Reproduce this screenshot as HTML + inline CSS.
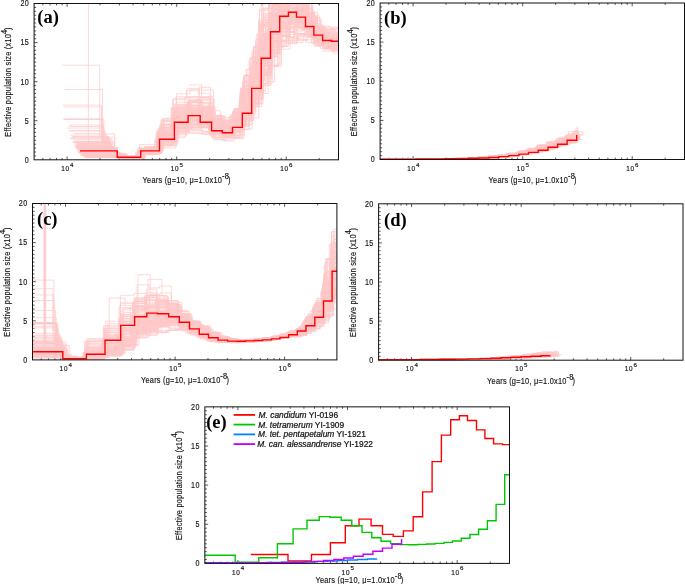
<!DOCTYPE html>
<html><head><meta charset="utf-8"><title>PSMC</title>
<style>html,body{margin:0;padding:0;background:#fff}svg{display:block}</style></head>
<body>
<svg width="685" height="584" viewBox="0 0 685 584">
<defs>
<clipPath id="cpa"><rect x="34.1" y="3.5" width="304.4" height="156.3"/></clipPath>
<clipPath id="cpb"><rect x="380.1" y="3.0" width="304.4" height="156.5"/></clipPath>
<clipPath id="cpc"><rect x="32.5" y="203.5" width="304.4" height="156.4"/></clipPath>
<clipPath id="cpd"><rect x="378.6" y="203.8" width="304.4" height="156.4"/></clipPath>
<clipPath id="cpe"><rect x="204.85" y="406.85" width="304.6" height="156.5"/></clipPath>
</defs>
<rect width="685" height="584" fill="#fff"/>
<path d="M42.8 159.8v-1.9M42.8 3.5v1.9M50.1 159.8v-1.9M50.1 3.5v1.9M56.5 159.8v-1.9M56.5 3.5v1.9M62.1 159.8v-1.9M62.1 3.5v1.9M67.1 159.8v-3.3M67.1 3.5v3.3M100.1 159.8v-1.9M100.1 3.5v1.9M119.4 159.8v-1.9M119.4 3.5v1.9M133.1 159.8v-1.9M133.1 3.5v1.9M143.7 159.8v-1.9M143.7 3.5v1.9M152.3 159.8v-1.9M152.3 3.5v1.9M159.7 159.8v-1.9M159.7 3.5v1.9M166.0 159.8v-1.9M166.0 3.5v1.9M171.6 159.8v-1.9M171.6 3.5v1.9M176.7 159.8v-3.3M176.7 3.5v3.3M209.6 159.8v-1.9M209.6 3.5v1.9M228.9 159.8v-1.9M228.9 3.5v1.9M242.6 159.8v-1.9M242.6 3.5v1.9M253.2 159.8v-1.9M253.2 3.5v1.9M261.9 159.8v-1.9M261.9 3.5v1.9M269.2 159.8v-1.9M269.2 3.5v1.9M275.6 159.8v-1.9M275.6 3.5v1.9M281.2 159.8v-1.9M281.2 3.5v1.9M286.2 159.8v-3.3M286.2 3.5v3.3M319.2 159.8v-1.9M319.2 3.5v1.9M34.1 155.9h2.0M34.1 152.0h2.0M34.1 148.1h2.0M34.1 144.2h2.0M34.1 140.3h2.0M34.1 136.4h2.0M34.1 132.4h2.0M34.1 128.5h2.0M34.1 124.6h2.0M34.1 120.7h3.3M34.1 116.8h2.0M34.1 112.9h2.0M34.1 109.0h2.0M34.1 105.1h2.0M34.1 101.2h2.0M34.1 97.3h2.0M34.1 93.4h2.0M34.1 89.5h2.0M34.1 85.6h2.0M34.1 81.7h3.3M34.1 77.7h2.0M34.1 73.8h2.0M34.1 69.9h2.0M34.1 66.0h2.0M34.1 62.1h2.0M34.1 58.2h2.0M34.1 54.3h2.0M34.1 50.4h2.0M34.1 46.5h2.0M34.1 42.6h3.3M34.1 38.7h2.0M34.1 34.8h2.0M34.1 30.9h2.0M34.1 26.9h2.0M34.1 23.0h2.0M34.1 19.1h2.0M34.1 15.2h2.0M34.1 11.3h2.0M34.1 7.4h2.0" stroke="#111" stroke-width="0.7" fill="none"/><path d="M388.8 159.5v-1.9M388.8 3.0v1.9M396.1 159.5v-1.9M396.1 3.0v1.9M402.5 159.5v-1.9M402.5 3.0v1.9M408.1 159.5v-1.9M408.1 3.0v1.9M413.1 159.5v-3.3M413.1 3.0v3.3M446.1 159.5v-1.9M446.1 3.0v1.9M465.4 159.5v-1.9M465.4 3.0v1.9M479.1 159.5v-1.9M479.1 3.0v1.9M489.7 159.5v-1.9M489.7 3.0v1.9M498.3 159.5v-1.9M498.3 3.0v1.9M505.7 159.5v-1.9M505.7 3.0v1.9M512.0 159.5v-1.9M512.0 3.0v1.9M517.6 159.5v-1.9M517.6 3.0v1.9M522.7 159.5v-3.3M522.7 3.0v3.3M555.6 159.5v-1.9M555.6 3.0v1.9M574.9 159.5v-1.9M574.9 3.0v1.9M588.6 159.5v-1.9M588.6 3.0v1.9M599.2 159.5v-1.9M599.2 3.0v1.9M607.9 159.5v-1.9M607.9 3.0v1.9M615.2 159.5v-1.9M615.2 3.0v1.9M621.6 159.5v-1.9M621.6 3.0v1.9M627.2 159.5v-1.9M627.2 3.0v1.9M632.2 159.5v-3.3M632.2 3.0v3.3M665.2 159.5v-1.9M665.2 3.0v1.9M380.1 155.6h2.0M380.1 151.7h2.0M380.1 147.8h2.0M380.1 143.8h2.0M380.1 139.9h2.0M380.1 136.0h2.0M380.1 132.1h2.0M380.1 128.2h2.0M380.1 124.3h2.0M380.1 120.4h3.3M380.1 116.5h2.0M380.1 112.6h2.0M380.1 108.6h2.0M380.1 104.7h2.0M380.1 100.8h2.0M380.1 96.9h2.0M380.1 93.0h2.0M380.1 89.1h2.0M380.1 85.2h2.0M380.1 81.2h3.3M380.1 77.3h2.0M380.1 73.4h2.0M380.1 69.5h2.0M380.1 65.6h2.0M380.1 61.7h2.0M380.1 57.8h2.0M380.1 53.9h2.0M380.1 50.0h2.0M380.1 46.0h2.0M380.1 42.1h3.3M380.1 38.2h2.0M380.1 34.3h2.0M380.1 30.4h2.0M380.1 26.5h2.0M380.1 22.6h2.0M380.1 18.7h2.0M380.1 14.7h2.0M380.1 10.8h2.0M380.1 6.9h2.0" stroke="#111" stroke-width="0.7" fill="none"/><path d="M41.2 359.9v-1.9M41.2 203.5v1.9M48.5 359.9v-1.9M48.5 203.5v1.9M54.9 359.9v-1.9M54.9 203.5v1.9M60.5 359.9v-1.9M60.5 203.5v1.9M65.5 359.9v-3.3M65.5 203.5v3.3M98.5 359.9v-1.9M98.5 203.5v1.9M117.8 359.9v-1.9M117.8 203.5v1.9M131.5 359.9v-1.9M131.5 203.5v1.9M142.1 359.9v-1.9M142.1 203.5v1.9M150.7 359.9v-1.9M150.7 203.5v1.9M158.1 359.9v-1.9M158.1 203.5v1.9M164.4 359.9v-1.9M164.4 203.5v1.9M170.0 359.9v-1.9M170.0 203.5v1.9M175.1 359.9v-3.3M175.1 203.5v3.3M208.0 359.9v-1.9M208.0 203.5v1.9M227.3 359.9v-1.9M227.3 203.5v1.9M241.0 359.9v-1.9M241.0 203.5v1.9M251.6 359.9v-1.9M251.6 203.5v1.9M260.3 359.9v-1.9M260.3 203.5v1.9M267.6 359.9v-1.9M267.6 203.5v1.9M274.0 359.9v-1.9M274.0 203.5v1.9M279.6 359.9v-1.9M279.6 203.5v1.9M284.6 359.9v-3.3M284.6 203.5v3.3M317.6 359.9v-1.9M317.6 203.5v1.9M32.5 356.0h2.0M32.5 352.1h2.0M32.5 348.2h2.0M32.5 344.3h2.0M32.5 340.3h2.0M32.5 336.4h2.0M32.5 332.5h2.0M32.5 328.6h2.0M32.5 324.7h2.0M32.5 320.8h3.3M32.5 316.9h2.0M32.5 313.0h2.0M32.5 309.1h2.0M32.5 305.2h2.0M32.5 301.2h2.0M32.5 297.3h2.0M32.5 293.4h2.0M32.5 289.5h2.0M32.5 285.6h2.0M32.5 281.7h3.3M32.5 277.8h2.0M32.5 273.9h2.0M32.5 270.0h2.0M32.5 266.1h2.0M32.5 262.1h2.0M32.5 258.2h2.0M32.5 254.3h2.0M32.5 250.4h2.0M32.5 246.5h2.0M32.5 242.6h3.3M32.5 238.7h2.0M32.5 234.8h2.0M32.5 230.9h2.0M32.5 227.0h2.0M32.5 223.1h2.0M32.5 219.1h2.0M32.5 215.2h2.0M32.5 211.3h2.0M32.5 207.4h2.0" stroke="#111" stroke-width="0.7" fill="none"/><path d="M387.3 360.2v-1.9M387.3 203.8v1.9M394.6 360.2v-1.9M394.6 203.8v1.9M401.0 360.2v-1.9M401.0 203.8v1.9M406.6 360.2v-1.9M406.6 203.8v1.9M411.6 360.2v-3.3M411.6 203.8v3.3M444.6 360.2v-1.9M444.6 203.8v1.9M463.9 360.2v-1.9M463.9 203.8v1.9M477.6 360.2v-1.9M477.6 203.8v1.9M488.2 360.2v-1.9M488.2 203.8v1.9M496.8 360.2v-1.9M496.8 203.8v1.9M504.2 360.2v-1.9M504.2 203.8v1.9M510.5 360.2v-1.9M510.5 203.8v1.9M516.1 360.2v-1.9M516.1 203.8v1.9M521.2 360.2v-3.3M521.2 203.8v3.3M554.1 360.2v-1.9M554.1 203.8v1.9M573.4 360.2v-1.9M573.4 203.8v1.9M587.1 360.2v-1.9M587.1 203.8v1.9M597.7 360.2v-1.9M597.7 203.8v1.9M606.4 360.2v-1.9M606.4 203.8v1.9M613.7 360.2v-1.9M613.7 203.8v1.9M620.1 360.2v-1.9M620.1 203.8v1.9M625.7 360.2v-1.9M625.7 203.8v1.9M630.7 360.2v-3.3M630.7 203.8v3.3M663.7 360.2v-1.9M663.7 203.8v1.9M378.6 356.3h2.0M378.6 352.4h2.0M378.6 348.5h2.0M378.6 344.6h2.0M378.6 340.6h2.0M378.6 336.7h2.0M378.6 332.8h2.0M378.6 328.9h2.0M378.6 325.0h2.0M378.6 321.1h3.3M378.6 317.2h2.0M378.6 313.3h2.0M378.6 309.4h2.0M378.6 305.5h2.0M378.6 301.6h2.0M378.6 297.6h2.0M378.6 293.7h2.0M378.6 289.8h2.0M378.6 285.9h2.0M378.6 282.0h3.3M378.6 278.1h2.0M378.6 274.2h2.0M378.6 270.3h2.0M378.6 266.4h2.0M378.6 262.4h2.0M378.6 258.5h2.0M378.6 254.6h2.0M378.6 250.7h2.0M378.6 246.8h2.0M378.6 242.9h3.3M378.6 239.0h2.0M378.6 235.1h2.0M378.6 231.2h2.0M378.6 227.3h2.0M378.6 223.4h2.0M378.6 219.4h2.0M378.6 215.5h2.0M378.6 211.6h2.0M378.6 207.7h2.0" stroke="#111" stroke-width="0.7" fill="none"/><path d="M213.5 563.4v-1.9M213.5 406.85v1.9M220.9 563.4v-1.9M220.9 406.85v1.9M227.2 563.4v-1.9M227.2 406.85v1.9M232.8 563.4v-1.9M232.8 406.85v1.9M237.9 563.4v-3.3M237.9 406.85v3.3M270.9 563.4v-1.9M270.9 406.85v1.9M290.2 563.4v-1.9M290.2 406.85v1.9M303.9 563.4v-1.9M303.9 406.85v1.9M314.5 563.4v-1.9M314.5 406.85v1.9M323.2 563.4v-1.9M323.2 406.85v1.9M330.5 563.4v-1.9M330.5 406.85v1.9M336.9 563.4v-1.9M336.9 406.85v1.9M342.5 563.4v-1.9M342.5 406.85v1.9M347.5 563.4v-3.3M347.5 406.85v3.3M380.5 563.4v-1.9M380.5 406.85v1.9M399.8 563.4v-1.9M399.8 406.85v1.9M413.5 563.4v-1.9M413.5 406.85v1.9M424.2 563.4v-1.9M424.2 406.85v1.9M432.9 563.4v-1.9M432.9 406.85v1.9M440.2 563.4v-1.9M440.2 406.85v1.9M446.6 563.4v-1.9M446.6 406.85v1.9M452.2 563.4v-1.9M452.2 406.85v1.9M457.2 563.4v-3.3M457.2 406.85v3.3M490.2 563.4v-1.9M490.2 406.85v1.9M204.85 559.5h2.0M204.85 555.6h2.0M204.85 551.7h2.0M204.85 547.7h2.0M204.85 543.8h2.0M204.85 539.9h2.0M204.85 536.0h2.0M204.85 532.1h2.0M204.85 528.2h2.0M204.85 524.3h3.3M204.85 520.3h2.0M204.85 516.4h2.0M204.85 512.5h2.0M204.85 508.6h2.0M204.85 504.7h2.0M204.85 500.8h2.0M204.85 496.9h2.0M204.85 493.0h2.0M204.85 489.0h2.0M204.85 485.1h3.3M204.85 481.2h2.0M204.85 477.3h2.0M204.85 473.4h2.0M204.85 469.5h2.0M204.85 465.6h2.0M204.85 461.6h2.0M204.85 457.7h2.0M204.85 453.8h2.0M204.85 449.9h2.0M204.85 446.0h3.3M204.85 442.1h2.0M204.85 438.2h2.0M204.85 434.2h2.0M204.85 430.3h2.0M204.85 426.4h2.0M204.85 422.5h2.0M204.85 418.6h2.0M204.85 414.7h2.0M204.85 410.8h2.0" stroke="#111" stroke-width="0.7" fill="none"/>
<path clip-path="url(#cpa)" fill="none" stroke="#FFC8C8" stroke-width="0.7" d="M74.9 147.8H111.9V154.1H120.1V156.1H126.8V157.3H140.1V150.7H158.9V139.3H173.8V123.4H187.5V111.8H199.6V111.5H211.0V121.1H221.7V125.1H231.9V118.2H241.7V94.9H251.1V86.4H260.6V46.1H269.9V22.0H279.1V3.7H287.8V18.4H295.9V30.0H304.9V34.4H313.3V42.2H322.0V44.7H330.9V45.2H339.9V43.2H348.9V43.2M75.8 146.9H110.3V154.0H120.7V156.7H126.7V157.3H142.5V151.6H161.3V141.0H176.2V126.7H189.9V125.8H202.0V132.5H213.4V139.7H224.1V141.0H234.3V137.7H244.1V119.6H253.5V103.8H263.0V83.3H272.3V66.6H281.5V49.2H290.2V34.3H298.3V34.1H307.3V37.3H315.7V45.5H324.4V49.1H333.3V53.1H342.3V47.0H351.3V47.0M84.1 155.6H121.2V158.4H128.2V158.3H141.0V153.9H159.8V142.9H174.7V129.7H188.4V128.9H200.5V127.0H211.9V130.7H222.6V135.2H232.8V135.8H242.6V124.5H252.0V106.7H261.5V85.4H270.8V53.1H280.0V45.7H288.7V32.4H296.8V39.4H305.8V42.3H314.2V46.2H322.9V47.1H331.8V46.5H340.8V46.8H349.8V46.8M73.7 145.9H108.9V152.8H117.9V156.9H127.7V157.0H145.0V146.7H163.8V121.7H178.7V109.5H192.4V108.6H204.5V127.2H215.9V134.1H226.6V130.9H236.8V123.8H246.6V104.3H256.0V63.6H265.5V33.8H274.8V-1.2H284.0V14.0H292.7V16.1H300.8V22.6H309.8V29.5H318.2V35.0H326.9V45.7H335.8V42.0H344.8V46.2H353.8V46.2M79.4 153.4H118.3V157.5H128.8V157.9H142.4V150.7H161.2V135.7H176.1V117.6H189.8V117.3H201.9V114.4H213.3V133.3H224.0V135.8H234.2V125.4H244.0V95.0H253.4V71.4H262.9V40.3H272.2V14.8H281.4V-7.8H290.1V-23.9H298.2V-5.0H307.2V17.4H315.6V27.8H324.3V39.5H333.2V41.5H342.2V43.6H351.2V43.6M81.0 152.8H117.0V157.4H126.1V157.9H132.0V157.9H138.0V150.9H156.8V135.0H171.7V117.2H185.4V109.5H197.5V113.9H208.9V129.5H219.6V131.5H229.8V131.2H239.6V118.2H249.0V104.5H258.5V75.4H267.8V50.6H277.0V31.5H285.7V29.3H293.8V26.6H302.8V28.5H311.2V30.5H319.9V41.6H328.8V43.1H337.8V42.5H346.8V42.5M78.3 148.8H112.3V156.4H117.7V156.7H127.5V157.6H140.0V153.0H158.8V140.6H173.7V111.5H187.4V114.8H199.5V113.7H210.9V120.0H221.6V126.2H231.8V119.9H241.6V93.5H251.0V81.2H260.5V52.9H269.8V32.1H279.0V10.1H287.7V10.6H295.8V16.7H304.8V29.1H313.2V39.5H321.9V41.7H330.8V43.0H339.8V46.0H348.8V46.0M80.9 154.1H118.5V157.9H124.2V157.8H130.8V157.2H141.2V153.2H160.0V145.1H174.9V127.0H188.6V119.3H200.7V123.5H212.1V129.7H222.8V130.5H233.0V125.2H242.8V105.5H252.2V82.9H261.7V54.4H271.0V34.1H280.2V14.7H288.9V20.4H297.0V13.1H306.0V26.2H314.4V34.5H323.1V38.9H332.0V38.9H341.0V38.4H350.0V38.4M77.9 152.1H118.6V157.4H128.9V158.0H144.5V147.3H163.3V131.2H178.2V112.2H191.9V112.2H204.0V112.1H215.4V123.6H226.1V123.1H236.3V109.2H246.1V69.7H255.5V39.6H265.0V8.3H274.3V-4.0H283.5V-27.8H292.2V-15.0H300.3V-0.6H309.3V16.4H317.7V30.1H326.4V37.8H335.3V38.4H344.3V38.2H353.3V38.2M84.6 156.3H120.6V158.4H130.1V158.1H138.0V152.5H156.8V139.6H171.7V119.9H185.4V121.6H197.5V127.8H208.9V135.1H219.6V137.6H229.8V138.1H239.6V126.8H249.0V104.8H258.5V69.4H267.8V40.3H277.0V6.2H285.7V-6.6H293.8V11.3H302.8V22.0H311.2V35.9H319.9V44.8H328.8V46.0H337.8V45.4H346.8V45.4M77.6 146.4H110.2V152.1H115.2V155.1H120.9V157.4H131.5V157.4H140.4V150.2H159.2V136.0H174.1V125.5H187.8V120.9H199.9V124.2H211.3V133.9H222.0V135.2H232.2V132.1H242.0V115.1H251.4V88.4H260.9V61.5H270.2V15.1H279.4V7.0H288.1V-4.4H296.2V4.2H305.2V13.0H313.6V36.1H322.3V42.9H331.2V42.8H340.2V40.9H349.2V40.9M80.8 154.2H118.4V157.9H124.7V158.1H135.9V152.8H154.7V139.9H169.6V128.9H183.3V114.4H195.4V114.8H206.8V122.2H217.5V124.7H227.7V121.7H237.5V109.2H246.9V69.1H256.4V34.7H265.7V15.0H274.9V9.6H283.6V8.2H291.7V23.9H300.7V16.3H309.1V23.6H317.8V38.6H326.7V45.8H335.7V50.3H344.7V50.3M89.4 157.1H122.2V158.9H139.1V151.3H157.9V139.0H172.8V121.3H186.5V114.7H198.6V113.8H210.0V126.6H220.7V128.8H230.9V125.2H240.7V102.2H250.1V94.9H259.6V72.5H268.9V49.6H278.1V36.9H286.8V37.1H294.9V27.1H303.9V31.2H312.3V36.8H321.0V40.1H329.9V40.8H338.9V39.8H347.9V39.8M79.9 153.3H117.6V157.2H128.1V157.6H140.7V150.0H159.5V133.0H174.4V126.8H188.1V121.6H200.2V127.6H211.6V132.8H222.3V136.5H232.5V132.5H242.3V116.8H251.7V92.7H261.2V69.1H270.5V33.5H279.7V23.7H288.4V20.6H296.5V17.5H305.5V25.2H313.9V31.6H322.6V37.7H331.5V40.6H340.5V37.6H349.5V37.6M75.5 145.6H111.4V153.7H118.6V156.4H129.3V156.1H141.3V151.9H160.1V133.5H175.0V118.4H188.7V120.7H200.8V119.1H212.2V121.1H222.9V128.6H233.1V114.6H242.9V93.2H252.3V64.1H261.8V37.3H271.1V30.6H280.3V7.8H289.0V12.1H297.1V15.6H306.1V23.0H314.5V39.2H323.2V41.2H332.1V41.1H341.1V42.6H350.1V42.6M75.2 147.2H112.2V154.8H122.0V157.3H131.4V156.7H144.9V148.9H163.7V138.1H178.6V118.6H192.3V114.4H204.4V126.7H215.8V128.8H226.5V129.0H236.7V111.9H246.5V90.6H255.9V61.1H265.4V57.2H274.7V24.4H283.9V18.9H292.6V20.4H300.7V22.4H309.7V31.8H318.1V38.3H326.8V42.4H335.7V43.2H344.7V49.6H353.7V49.6M76.5 143.3H109.5V152.7H118.4V155.3H129.4V155.9H137.1V154.3H155.9V139.9H170.8V121.9H184.5V112.7H196.6V113.8H208.0V126.8H218.7V130.8H228.9V129.1H238.7V119.7H248.1V101.8H257.6V51.3H266.9V37.8H276.1V12.2H284.8V10.8H292.9V9.9H301.9V17.8H310.3V35.3H319.0V42.3H327.9V46.2H336.9V45.4H345.9V45.4M70.6 137.7H107.6V151.6H114.5V153.2H122.9V156.6H142.3V148.9H161.1V127.2H176.0V107.1H189.7V102.3H201.8V98.2H213.2V119.5H223.9V121.5H234.1V111.2H243.9V80.9H253.3V61.3H262.8V34.9H272.1V-3.8H281.3V-13.5H290.0V-8.6H298.1V11.8H307.1V26.3H315.5V36.2H324.2V36.3H333.1V36.1H342.1V35.2H351.1V35.2M70.8 135.1H107.3V146.4H113.4V154.6H119.7V157.0H127.0V157.2H132.8V156.6H142.6V148.7H161.4V120.1H176.3V96.7H190.0V96.8H202.1V96.6H213.5V120.2H224.2V123.3H234.4V115.2H244.2V85.4H253.6V63.5H263.1V35.0H272.4V13.4H281.6V16.4H290.3V15.8H298.4V15.9H307.4V26.3H315.8V38.6H324.5V42.7H333.4V44.1H342.4V43.3H351.4V43.3M83.2 151.8H112.4V156.6H118.5V158.0H129.4V158.6H144.4V147.2H163.2V124.8H178.1V108.2H191.8V109.2H203.9V119.5H215.3V130.9H226.0V132.7H236.2V124.1H246.0V110.9H255.4V75.6H264.9V62.4H274.2V29.1H283.4V28.4H292.1V20.2H300.2V14.8H309.2V26.2H317.6V38.1H326.3V40.3H335.2V40.2H344.2V45.4H353.2V45.4M81.3 153.1H116.1V157.2H121.4V157.2H131.3V157.1H141.0V149.8H159.8V133.0H174.7V122.6H188.4V111.6H200.5V109.2H211.9V118.3H222.6V125.7H232.8V111.5H242.6V83.2H252.0V53.2H261.5V19.7H270.8V14.1H280.0V7.2H288.7V-2.0H296.8V9.9H305.8V21.6H314.2V34.0H322.9V38.0H331.8V36.0H340.8V39.8H349.8V39.8M82.0 153.9H121.3V157.8H128.7V157.7H144.0V149.1H162.8V132.0H177.7V111.5H191.4V107.0H203.5V114.9H214.9V128.1H225.6V134.3H235.8V123.7H245.6V98.7H255.0V59.5H264.5V35.5H273.8V14.3H283.0V-3.8H291.7V-3.4H299.8V3.4H308.8V17.8H317.2V29.6H325.9V28.8H334.8V32.3H343.8V34.3H352.8V34.3M78.5 150.0H113.9V155.9H123.4V156.9H130.3V157.0H144.4V147.2H163.2V124.2H178.1V111.6H191.8V107.8H203.9V107.1H215.3V128.0H226.0V129.6H236.2V116.3H246.0V100.1H255.4V73.0H264.9V42.4H274.2V1.1H283.4V-6.0H292.1V-3.5H300.2V19.4H309.2V23.0H317.6V34.2H326.3V37.8H335.2V42.4H344.2V42.8H353.2V42.8M79.5 150.0H116.4V156.7H126.3V158.0H139.9V150.4H158.7V137.6H173.6V127.3H187.3V115.8H199.4V118.0H210.8V125.6H221.5V132.7H231.7V126.4H241.5V113.4H250.9V93.0H260.4V74.5H269.7V53.2H278.9V26.8H287.6V24.2H295.7V24.9H304.7V26.4H313.1V37.3H321.8V41.0H330.7V42.1H339.7V40.0H348.7V40.0M83.4 154.1H118.4V157.8H126.4V157.7H132.0V157.3H137.5V149.9H156.3V132.9H171.2V108.0H184.9V97.7H197.0V103.0H208.4V117.8H219.1V124.9H229.3V120.0H239.1V101.8H248.5V87.9H258.0V66.1H267.3V19.3H276.5V23.2H285.2V17.3H293.3V17.5H302.3V22.9H310.7V35.4H319.4V40.1H328.3V41.4H337.3V44.2H346.3V44.2M77.0 147.3H112.8V155.9H119.7V157.3H125.9V157.2H131.5V156.8H140.0V153.6H158.8V144.6H173.7V131.9H187.4V121.9H199.5V120.2H210.9V129.7H221.6V131.4H231.8V127.2H241.6V107.6H251.0V78.6H260.5V35.6H269.8V26.9H279.0V25.3H287.7V7.3H295.8V10.8H304.8V15.8H313.2V35.3H321.9V41.3H330.8V42.1H339.8V46.3H348.8V46.3M80.7 153.5H116.7V157.5H125.4V158.4H142.5V149.9H161.3V137.1H176.2V127.8H189.9V121.7H202.0V118.7H213.4V128.4H224.1V130.9H234.3V124.2H244.1V106.6H253.5V94.2H263.0V60.5H272.3V43.8H281.5V40.3H290.2V40.8H298.3V40.6H307.3V37.5H315.7V42.2H324.4V49.1H333.3V47.1H342.3V44.9H351.3V44.9M81.8 153.2H119.8V158.0H125.6V158.2H142.6V148.7H161.4V125.3H176.3V123.3H190.0V116.2H202.1V111.0H213.5V123.2H224.2V123.7H234.4V108.8H244.2V75.5H253.6V47.1H263.1V1.0H272.4V-14.7H281.6V-4.2H290.3V-0.4H298.4V17.6H307.4V26.5H315.8V35.0H324.5V40.8H333.4V46.7H342.4V41.4H351.4V41.4M65.4 119.2H102.3V138.8H107.9V147.3H117.6V154.7H124.6V155.8H141.9V153.0H160.7V140.9H175.6V111.9H189.3V114.4H201.4V111.2H212.8V122.6H223.5V131.7H233.7V127.3H243.5V108.5H252.9V87.4H262.4V60.9H271.7V33.8H280.9V27.1H289.6V18.7H297.7V24.6H306.7V32.3H315.1V39.3H323.8V44.0H332.7V43.7H341.7V39.0H350.7V39.0M85.8 157.5H124.2V159.0H144.8V148.3H163.6V138.0H178.5V128.3H192.2V130.7H204.3V131.1H215.7V139.7H226.4V137.8H236.6V124.1H246.4V115.1H255.8V91.3H265.3V81.6H274.6V47.4H283.8V43.2H292.5V38.5H300.6V34.5H309.6V36.8H318.0V44.8H326.7V46.9H335.6V48.5H344.6V47.8H353.6V47.8M86.3 157.5H119.8V158.8H128.4V158.8H140.5V150.1H159.3V132.4H174.2V110.7H187.9V111.8H200.0V119.5H211.4V127.9H222.1V130.2H232.3V126.9H242.1V113.6H251.5V86.9H261.0V71.5H270.3V52.0H279.5V34.6H288.2V11.8H296.3V20.9H305.3V23.4H313.7V35.0H322.4V36.3H331.3V33.4H340.3V35.6H349.3V35.6M79.3 152.0H116.5V157.4H126.8V157.9H141.5V149.4H160.3V131.2H175.2V112.6H188.9V99.6H201.0V103.1H212.4V116.6H223.1V125.4H233.3V122.8H243.1V93.4H252.5V66.0H262.0V51.5H271.3V31.3H280.5V9.5H289.2V15.5H297.3V15.7H306.3V30.3H314.7V37.6H323.4V40.5H332.3V41.9H341.3V42.9H350.3V42.9M84.1 156.0H121.4V158.2H131.4V157.9H141.0V149.8H159.8V127.8H174.7V109.2H188.4V115.5H200.5V112.0H211.9V129.0H222.6V128.0H232.8V118.1H242.6V98.5H252.0V83.4H261.5V45.9H270.8V29.5H280.0V-0.2H288.7V4.2H296.8V9.6H305.8V21.3H314.2V36.9H322.9V45.1H331.8V43.1H340.8V41.7H349.8V41.7M76.4 150.7H114.2V156.6H124.0V157.8H132.5V157.4H135.7V154.8H154.5V145.1H169.4V126.4H183.1V110.7H195.2V113.4H206.6V123.3H217.3V132.6H227.5V127.1H237.3V118.2H246.7V96.9H256.2V62.3H265.5V41.7H274.7V8.6H283.4V18.5H291.5V22.4H300.5V22.2H308.9V30.9H317.6V36.5H326.5V43.5H335.5V40.5H344.5V40.5M86.5 157.3H118.0V158.3H128.4V158.1H142.8V151.7H161.6V138.2H176.5V119.4H190.2V111.8H202.3V107.3H213.7V126.2H224.4V126.5H234.6V119.8H244.4V94.4H253.8V64.5H263.3V36.8H272.6V8.0H281.8V2.2H290.5V-7.6H298.6V1.0H307.6V18.5H316.0V34.2H324.7V39.9H333.6V42.3H342.6V42.9H351.6V42.9M79.6 151.6H114.8V155.7H121.1V156.8H131.7V156.1H141.9V149.1H160.7V121.6H175.6V110.9H189.3V118.9H201.4V122.7H212.8V133.1H223.5V135.6H233.7V128.4H243.5V89.9H252.9V71.0H262.4V43.4H271.7V21.7H280.9V11.5H289.6V2.0H297.7V-0.9H306.7V22.7H315.1V34.7H323.8V39.5H332.7V39.7H341.7V44.9H350.7V44.9M79.2 152.0H118.7V157.0H125.4V157.5H137.1V150.5H155.9V137.1H170.8V124.6H184.5V119.1H196.6V122.2H208.0V123.0H218.7V132.2H228.9V129.5H238.7V112.2H248.1V86.4H257.6V34.4H266.9V14.0H276.1V6.2H284.8V5.4H292.9V3.1H301.9V17.4H310.3V30.9H319.0V37.8H327.9V40.8H336.9V35.2H345.9V35.2M80.5 151.2H115.8V157.4H121.8V158.2H126.8V157.9H144.9V146.9H163.7V118.2H178.6V104.9H192.3V108.5H204.4V115.7H215.8V132.5H226.5V130.0H236.7V115.7H246.5V84.5H255.9V45.3H265.4V23.0H274.7V4.0H283.9V16.1H292.6V13.5H300.7V17.2H309.7V24.6H318.1V32.8H326.8V38.6H335.7V39.2H344.7V38.6H353.7V38.6M81.7 153.2H115.4V157.8H121.3V158.5H127.2V158.6H138.1V147.8H156.9V131.6H171.8V117.2H185.5V114.3H197.6V106.5H209.0V125.1H219.7V125.6H229.9V116.0H239.7V92.1H249.1V60.1H258.6V22.4H267.9V25.4H277.1V10.0H285.8V8.6H293.9V10.7H302.9V15.4H311.3V29.3H320.0V36.5H328.9V37.3H337.9V38.1H346.9V38.1M81.9 151.9H117.5V157.6H124.0V158.4H142.8V148.5H161.6V133.7H176.5V116.8H190.2V101.9H202.3V109.5H213.7V124.6H224.4V125.4H234.6V114.5H244.4V82.5H253.8V46.3H263.3V8.1H272.6V-15.2H281.8V-14.8H290.5V-14.9H298.6V2.5H307.6V28.1H316.0V38.1H324.7V37.9H333.6V39.0H342.6V42.4H351.6V42.4M80.4 150.5H114.4V156.6H119.8V157.6H130.1V157.7H140.4V152.0H159.2V141.5H174.1V134.3H187.8V132.3H199.9V133.8H211.3V137.2H222.0V140.2H232.2V136.2H242.0V121.5H251.4V98.1H260.9V65.3H270.2V39.0H279.4V29.3H288.1V21.6H296.2V22.6H305.2V26.6H313.6V42.6H322.3V47.8H331.2V51.1H340.2V52.6H349.2V52.6M77.2 146.4H108.7V154.8H114.8V156.5H121.6V157.2H130.1V156.7H141.0V152.4H159.8V139.4H174.7V115.7H188.4V115.1H200.5V115.4H211.9V125.1H222.6V131.6H232.8V121.6H242.6V111.8H252.0V98.4H261.5V66.3H270.8V53.7H280.0V35.8H288.7V42.3H296.8V35.4H305.8V39.7H314.2V44.2H322.9V51.2H331.8V49.8H340.8V49.9H349.8V49.9M67.1 128.1H103.6V142.4H114.0V154.2H124.9V157.7H142.5V150.1H161.3V132.1H176.2V116.1H189.9V121.3H202.0V117.3H213.4V126.6H224.1V129.2H234.3V123.4H244.1V106.0H253.5V63.7H263.0V45.3H272.3V53.6H281.5V41.4H290.2V40.6H298.3V33.8H307.3V36.2H315.7V45.2H324.4V48.5H333.3V44.6H342.3V47.9H351.3V47.9M68.9 131.0H103.8V138.3H111.0V149.3H116.6V153.9H127.0V156.6H139.5V150.4H158.3V138.1H173.2V121.5H186.9V113.6H199.0V108.7H210.4V126.2H221.1V131.3H231.3V122.5H241.1V104.2H250.5V74.5H260.0V40.7H269.3V23.3H278.5V18.1H287.2V15.7H295.3V18.3H304.3V27.5H312.7V31.5H321.4V41.9H330.3V45.5H339.3V44.2H348.3V44.2M82.8 154.7H120.3V158.2H125.5V158.2H139.6V149.4H158.4V136.0H173.3V111.7H187.0V109.9H199.1V114.7H210.5V127.6H221.2V123.7H231.4V116.1H241.2V89.0H250.6V73.5H260.1V22.1H269.4V22.2H278.6V12.2H287.3V-2.7H295.4V-3.7H304.4V14.5H312.8V27.0H321.5V35.2H330.4V40.8H339.4V37.8H348.4V37.8M75.7 147.0H111.1V155.2H119.5V157.4H126.3V157.5H131.7V157.1H140.0V150.7H158.8V136.7H173.7V107.5H187.4V100.7H199.5V100.2H210.9V115.7H221.6V127.1H231.8V120.1H241.6V92.9H251.0V72.2H260.5V50.7H269.8V23.9H279.0V11.3H287.7V-1.5H295.8V8.8H304.8V19.1H313.2V28.6H321.9V32.4H330.8V31.2H339.8V33.7H348.8V33.7M85.9 154.8H119.6V158.1H124.8V158.5H142.2V153.6H161.0V140.0H175.9V123.2H189.6V127.1H201.7V126.3H213.1V133.9H223.8V135.2H234.0V127.5H243.8V113.6H253.2V98.3H262.7V75.7H272.0V43.6H281.2V35.5H289.9V39.0H298.0V33.4H307.0V28.2H315.4V41.0H324.1V40.6H333.0V41.2H342.0V40.5H351.0V40.5M79.5 149.1H114.4V155.5H123.4V157.3H131.5V156.6H140.1V150.3H158.9V131.1H173.8V116.6H187.5V103.0H199.6V111.2H211.0V119.4H221.7V121.6H231.9V121.2H241.7V91.6H251.1V64.5H260.6V39.5H269.9V-3.4H279.1V-24.7H287.8V1.5H295.9V-0.4H304.9V17.5H313.3V35.5H322.0V38.2H330.9V42.9H339.9V43.3H348.9V43.3M79.7 151.5H117.2V157.6H125.9V157.7H132.5V157.3H142.7V148.6H161.5V124.9H176.4V102.3H190.1V108.2H202.2V102.7H213.6V126.6H224.3V130.9H234.5V117.9H244.3V86.7H253.7V67.7H263.2V48.3H272.5V24.9H281.7V30.0H290.4V18.9H298.5V17.8H307.5V28.7H315.9V37.1H324.6V37.8H333.5V38.1H342.5V37.3H351.5V37.3M78.8 146.4H113.7V155.5H123.8V157.4H130.5V157.4H141.1V152.0H159.9V140.0H174.8V120.5H188.5V121.3H200.6V127.6H212.0V131.6H222.7V133.8H232.9V126.5H242.7V118.0H252.1V94.7H261.6V72.6H270.9V41.0H280.1V7.8H288.8V10.5H296.9V8.8H305.9V24.8H314.3V36.6H323.0V39.7H331.9V42.6H340.9V38.8H349.9V38.8M84.5 155.4H119.2V158.4H124.9V158.4H138.3V150.2H157.1V136.9H172.0V127.2H185.7V115.7H197.8V116.7H209.2V126.9H219.9V126.8H230.1V126.3H239.9V110.5H249.3V86.2H258.8V47.3H268.1V32.9H277.3V3.7H286.0V-21.0H294.1V-6.0H303.1V0.6H311.5V27.7H320.2V31.6H329.1V35.1H338.1V35.5H347.1V35.5M85.1 155.3H119.1V158.0H129.6V158.2H145.1V146.6H163.9V120.5H178.8V112.5H192.5V112.0H204.6V124.1H216.0V131.2H226.7V130.9H236.9V112.1H246.7V84.5H256.1V41.7H265.6V31.9H274.9V15.9H284.1V15.0H292.8V13.4H300.9V29.5H309.9V33.3H318.3V45.0H327.0V47.9H335.9V47.3H344.9V48.1H353.9V48.1M88.0 157.5H121.1V158.7H127.2V158.5H142.6V148.6H161.4V127.3H176.3V120.6H190.0V112.1H202.1V111.3H213.5V125.6H224.2V134.7H234.4V126.5H244.2V109.3H253.6V85.0H263.1V59.1H272.4V49.3H281.6V36.4H290.3V14.7H298.4V9.0H307.4V23.7H315.8V37.5H324.5V39.1H333.4V36.8H342.4V35.5H351.4V35.5M82.7 155.4H121.2V158.3H131.8V158.3H137.5V153.8H156.3V145.4H171.2V128.0H184.9V124.4H197.0V120.3H208.4V127.4H219.1V130.7H229.3V122.4H239.1V107.8H248.5V89.9H258.0V55.5H267.3V30.7H276.5V27.4H285.2V20.8H293.3V26.0H302.3V25.4H310.7V30.7H319.4V39.1H328.3V42.3H337.3V42.7H346.3V42.7M74.4 141.5H109.5V153.1H116.0V155.6H122.6V156.9H131.8V156.6H139.4V149.4H158.2V134.5H173.1V119.6H186.8V118.3H198.9V119.3H210.3V125.3H221.0V127.4H231.2V127.4H241.0V89.6H250.4V75.4H259.9V39.9H269.2V21.2H278.4V-1.4H287.1V0.8H295.2V2.7H304.2V5.7H312.6V23.8H321.3V35.1H330.2V35.8H339.2V38.9H348.2V38.9M78.0 148.1H112.6V155.6H122.5V157.6H130.0V157.8H143.0V153.5H161.8V145.0H176.7V131.5H190.4V133.5H202.5V134.5H213.9V137.9H224.6V136.4H234.8V134.7H244.6V120.4H254.0V92.4H263.5V61.3H272.8V27.2H282.0V8.1H290.7V16.7H298.8V17.1H307.8V28.7H316.2V40.9H324.9V39.2H333.8V42.2H342.8V44.9H351.8V44.9M62.9 119.2H102.9V141.3H110.6V148.5H117.6V154.4H127.0V156.3H132.4V156.3H140.0V153.8H158.8V138.8H173.7V122.2H187.4V108.2H199.5V110.3H210.9V129.5H221.6V133.4H231.8V123.4H241.6V96.1H251.0V75.4H260.5V46.2H269.8V14.8H279.0V-1.3H287.7V1.8H295.8V0.2H304.8V15.5H313.2V33.2H321.9V43.0H330.8V49.2H339.8V41.4H348.8V41.4M87.9 157.5H121.3V158.2H126.3V157.8H138.9V148.4H157.7V129.9H172.6V99.7H186.3V90.7H198.4V93.3H209.8V110.8H220.5V117.5H230.7V114.9H240.5V88.8H249.9V58.0H259.4V10.4H268.7V8.5H277.9V3.4H286.6V-27.8H294.7V-21.6H303.7V-0.7H312.1V17.9H320.8V26.1H329.7V27.1H338.7V27.1H347.7V27.1M80.6 151.3H115.3V156.8H120.6V157.8H128.9V157.8H142.9V148.4H161.7V133.7H176.6V121.4H190.3V123.5H202.4V117.4H213.8V130.3H224.5V137.3H234.7V129.9H244.5V114.1H253.9V88.8H263.4V47.5H272.7V29.9H281.9V23.4H290.6V27.2H298.7V27.9H307.7V35.2H316.1V42.8H324.8V36.9H333.7V38.1H342.7V42.4H351.7V42.4M75.5 145.0H109.0V154.7H116.2V156.8H124.4V158.1H144.2V151.1H163.0V143.0H177.9V130.0H191.6V115.6H203.7V120.7H215.1V130.5H225.8V133.9H236.0V125.7H245.8V100.9H255.2V61.3H264.7V42.0H274.0V27.9H283.2V14.0H291.9V-6.1H300.0V-8.5H309.0V12.1H317.4V26.8H326.1V29.5H335.0V33.4H344.0V37.7H353.0V37.7M79.2 152.8H114.8V157.1H124.3V157.8H131.5V157.2H139.8V151.1H158.6V134.0H173.5V104.2H187.2V101.6H199.3V87.2H210.7V118.4H221.4V121.6H231.6V119.6H241.4V96.2H250.8V68.9H260.3V24.0H269.6V-8.2H278.8V-11.3H287.5V-0.4H295.6V4.8H304.6V14.3H313.0V30.1H321.7V32.9H330.6V28.7H339.6V34.3H348.6V34.3M84.3 154.9H116.9V157.9H126.5V158.0H140.9V149.9H159.7V124.6H174.6V104.8H188.3V105.2H200.4V109.3H211.8V121.0H222.5V120.6H232.7V113.2H242.5V81.1H251.9V56.4H261.4V3.3H270.7V-11.4H279.9V-25.2H288.6V-27.8H296.7V-5.3H305.7V20.4H314.1V30.3H322.8V37.8H331.7V40.8H340.7V37.5H349.7V37.5M79.4 151.2H116.3V157.1H124.6V157.3H132.7V156.7H141.2V152.5H160.0V138.1H174.9V116.3H188.6V115.1H200.7V121.8H212.1V129.4H222.8V129.5H233.0V127.1H242.8V108.2H252.2V90.3H261.7V44.6H271.0V19.9H280.2V21.4H288.9V21.0H297.0V19.8H306.0V28.1H314.4V37.1H323.1V39.5H332.0V39.6H341.0V41.0H350.0V41.0M82.5 153.8H116.9V157.9H123.7V158.6H129.9V158.2H141.1V149.7H159.9V130.2H174.8V111.2H188.5V105.3H200.6V113.3H212.0V125.8H222.7V131.5H232.9V123.3H242.7V107.4H252.1V85.2H261.6V50.9H270.9V34.2H280.1V5.9H288.8V9.1H296.9V6.7H305.9V17.9H314.3V34.2H323.0V38.8H331.9V41.8H340.9V42.3H349.9V42.3M73.6 133.6H105.4V148.7H112.5V154.1H122.0V157.7H127.5V157.7H139.6V144.6H158.4V128.0H173.3V98.4H187.0V88.8H199.1V97.1H210.5V119.1H221.2V119.0H231.4V116.7H241.2V90.1H250.6V62.4H260.1V26.6H269.4V12.6H278.6V-6.4H287.3V-0.7H295.4V2.8H304.4V8.7H312.8V26.9H321.5V30.1H330.4V28.0H339.4V27.1H348.4V27.1M74.4 143.9H111.3V155.6H119.2V157.1H129.5V157.3H142.7V150.9H161.5V135.0H176.4V115.1H190.1V102.6H202.2V114.4H213.6V125.4H224.3V121.6H234.5V108.5H244.3V75.0H253.7V46.5H263.2V13.4H272.5V-15.1H281.7V-10.7H290.4V-16.0H298.5V-0.2H307.5V20.9H315.9V33.1H324.6V36.6H333.5V39.7H342.5V39.3H351.5V39.3M82.1 155.6H121.1V158.6H131.0V158.7H137.9V150.7H156.7V132.2H171.6V107.9H185.3V110.2H197.4V112.0H208.8V122.6H219.5V124.9H229.7V122.5H239.5V101.0H248.9V79.1H258.4V20.0H267.7V35.0H276.9V17.2H285.6V-9.4H293.7V-2.5H302.7V21.5H311.1V31.9H319.8V43.1H328.7V46.4H337.7V45.2H346.7V45.2M83.1 153.7H116.2V157.4H127.0V158.2H141.9V151.2H160.7V137.8H175.6V122.6H189.3V110.5H201.4V116.4H212.8V129.8H223.5V133.3H233.7V125.1H243.5V106.5H252.9V77.4H262.4V64.3H271.7V19.9H280.9V-5.5H289.6V0.0H297.7V18.7H306.7V27.4H315.1V37.4H323.8V47.3H332.7V47.8H341.7V51.5H350.7V51.5M76.6 145.6H110.3V155.1H119.3V157.1H128.4V157.6H141.8V150.0H160.6V135.7H175.5V109.2H189.2V108.0H201.3V109.1H212.7V126.9H223.4V129.8H233.6V130.6H243.4V113.9H252.8V94.7H262.3V79.0H271.6V64.2H280.8V36.3H289.5V27.4H297.6V34.8H306.6V29.3H315.0V41.1H323.7V45.3H332.6V45.2H341.6V48.4H350.6V48.4M80.1 155.2H118.8V158.2H129.7V157.7H141.3V149.5H160.1V127.1H175.0V105.7H188.7V96.7H200.8V107.6H212.2V119.7H222.9V126.4H233.1V127.8H242.9V108.7H252.3V103.4H261.8V74.4H271.1V41.5H280.3V7.0H289.0V-0.9H297.1V-0.1H306.1V13.7H314.5V29.1H323.2V31.1H332.1V34.4H341.1V34.5H350.1V34.5M71.8 136.6H107.6V147.9H114.9V154.0H125.7V156.4H132.5V156.0H142.2V150.4H161.0V142.6H175.9V127.2H189.6V127.1H201.7V123.0H213.1V129.8H223.8V127.0H234.0V109.4H243.8V76.9H253.2V52.5H262.7V38.7H272.0V25.2H281.2V3.1H289.9V-0.7H298.0V8.6H307.0V27.2H315.4V38.1H324.1V35.8H333.0V37.9H342.0V34.5H351.0V34.5M77.8 149.7H113.0V155.1H123.8V157.7H141.4V151.0H160.2V138.5H175.1V118.3H188.8V124.1H200.9V117.9H212.3V129.1H223.0V130.4H233.2V120.8H243.0V106.1H252.4V77.6H261.9V62.8H271.2V40.6H280.4V33.0H289.1V21.0H297.2V14.3H306.2V30.3H314.6V39.2H323.3V45.5H332.2V50.4H341.2V50.2H350.2V50.2M83.5 153.5H118.7V157.7H124.9V158.3H131.3V157.9H138.1V154.0H156.9V145.9H171.8V137.2H185.5V123.8H197.6V124.6H209.0V129.8H219.7V130.7H229.9V131.3H239.7V124.9H249.1V106.3H258.6V74.7H267.9V55.8H277.1V35.3H285.8V26.2H293.9V31.1H302.9V28.1H311.3V33.7H320.0V44.2H328.9V48.2H337.9V49.1H346.9V49.1M69.1 125.0H103.7V137.2H114.6V153.0H120.0V155.9H127.7V156.7H142.6V149.9H161.4V136.4H176.3V117.8H190.0V117.5H202.1V112.3H213.5V125.4H224.2V127.3H234.4V113.2H244.2V82.4H253.6V49.7H263.1V45.3H272.4V30.1H281.6V0.8H290.3V-2.8H298.4V5.3H307.4V19.0H315.8V34.7H324.5V39.9H333.4V42.6H342.4V39.1H351.4V39.1M76.3 142.2H105.1V148.9H115.6V155.2H125.5V157.5H131.3V156.8H140.0V151.8H158.8V140.8H173.7V121.7H187.4V113.2H199.5V106.2H210.9V125.8H221.6V129.4H231.8V122.6H241.6V91.3H251.0V66.8H260.5V25.4H269.8V28.0H279.0V18.0H287.7V-0.7H295.8V8.9H304.8V10.2H313.2V29.5H321.9V36.9H330.8V43.1H339.8V41.1H348.8V41.1M83.3 155.8H121.0V158.5H128.9V158.4H142.6V148.6H161.4V128.4H176.3V117.7H190.0V125.5H202.1V122.9H213.5V131.9H224.2V134.3H234.4V130.6H244.2V110.9H253.6V99.4H263.1V72.6H272.4V47.8H281.6V31.6H290.3V17.4H298.4V22.5H307.4V30.2H315.8V38.0H324.5V45.9H333.4V47.4H342.4V47.2H351.4V47.2M72.9 136.8H108.9V152.9H113.9V154.7H123.8V157.5H131.8V157.4H139.0V150.0H157.8V134.8H172.7V121.8H186.4V106.8H198.5V97.4H209.9V118.3H220.6V124.1H230.8V118.7H240.6V88.1H250.0V57.6H259.5V9.1H268.8V-7.8H278.0V-0.3H286.7V8.5H294.8V19.0H303.8V21.1H312.2V31.8H320.9V32.8H329.8V35.7H338.8V35.4H347.8V35.4M86.9 157.1H118.7V158.1H128.0V158.4H138.6V154.1H157.4V145.1H172.3V131.8H186.0V124.5H198.1V124.7H209.5V132.7H220.2V133.1H230.4V135.3H240.2V126.1H249.6V106.5H259.1V83.4H268.4V65.9H277.6V46.5H286.3V37.5H294.4V25.3H303.4V29.5H311.8V39.1H320.5V44.0H329.4V46.6H338.4V52.3H347.4V52.3M84.8 156.4H118.0V158.5H125.5V158.4H138.8V154.5H157.6V142.2H172.5V114.7H186.2V118.0H198.3V115.7H209.7V126.9H220.4V127.8H230.6V126.5H240.4V105.1H249.8V76.2H259.3V37.2H268.6V5.7H277.8V-0.7H286.5V-14.9H294.6V3.0H303.6V8.0H312.0V34.7H320.7V40.9H329.6V44.7H338.6V44.6H347.6V44.6M73.5 142.4H107.8V151.9H118.4V156.6H125.4V157.4H138.9V151.9H157.7V129.8H172.6V107.3H186.3V105.2H198.4V112.6H209.8V133.7H220.5V134.1H230.7V128.1H240.5V115.6H249.9V103.5H259.4V75.3H268.7V66.3H277.9V41.8H286.6V27.6H294.7V14.7H303.7V21.1H312.1V32.5H320.8V37.4H329.7V35.5H338.7V38.2H347.7V38.2M72.6 142.5H110.5V155.4H115.8V156.5H124.8V157.6H130.0V157.4H140.2V150.3H159.0V134.3H173.9V117.0H187.6V111.9H199.7V109.6H211.1V116.4H221.8V120.0H232.0V112.7H241.8V93.3H251.2V77.9H260.7V43.8H270.0V20.3H279.2V-16.8H287.9V-27.8H296.0V-0.9H305.0V11.0H313.4V29.8H322.1V37.1H331.0V38.3H340.0V38.9H349.0V38.9M82.1 153.9H120.4V158.0H128.5V157.7H142.6V148.6H161.4V120.1H176.3V93.8H190.0V89.1H202.1V90.0H213.5V116.0H224.2V120.4H234.4V108.7H244.2V75.4H253.6V60.0H263.1V24.7H272.4V8.6H281.6V-1.0H290.3V-6.5H298.4V-7.0H307.4V20.8H315.8V35.0H324.5V31.3H333.4V33.8H342.4V28.0H351.4V28.0M79.8 149.6H113.2V156.6H122.2V157.6H127.4V157.8H141.1V154.0H159.9V144.7H174.8V131.4H188.5V127.0H200.6V124.2H212.0V137.2H222.7V138.1H232.9V138.6H242.7V128.9H252.1V102.0H261.6V72.4H270.9V43.7H280.1V41.4H288.8V43.6H296.9V33.3H305.9V33.2H314.3V38.3H323.0V42.0H331.9V42.2H340.9V41.4H349.9V41.4M84.2 155.2H120.8V158.5H130.6V158.4H141.7V149.4H160.5V129.5H175.4V122.2H189.1V120.8H201.2V120.5H212.6V128.4H223.3V126.4H233.5V110.3H243.3V85.8H252.7V58.4H262.2V48.1H271.5V31.5H280.7V17.0H289.4V17.8H297.5V20.5H306.5V26.1H314.9V40.1H323.6V45.2H332.5V50.8H341.5V46.7H350.5V46.7M77.0 146.9H110.3V153.9H115.8V157.1H124.2V158.3H131.4V157.8H142.2V149.0H161.0V124.0H175.9V109.1H189.6V108.1H201.7V115.1H213.1V126.2H223.8V126.2H234.0V122.3H243.8V103.0H253.2V61.2H262.7V24.7H272.0V16.9H281.2V13.5H289.9V17.3H298.0V28.2H307.0V27.2H315.4V37.1H324.1V41.8H333.0V46.0H342.0V46.1H351.0V46.1M72.9 141.5H109.9V153.7H115.2V155.8H120.7V156.9H129.4V156.9H138.3V153.5H157.1V144.0H172.0V136.0H185.7V119.7H197.8V119.2H209.2V133.7H219.9V137.4H230.1V137.5H239.9V129.5H249.3V117.6H258.8V93.5H268.1V56.1H277.3V36.1H286.0V23.5H294.1V18.5H303.1V29.8H311.5V34.0H320.2V45.5H329.1V48.3H338.1V48.8H347.1V48.8M84.1 156.8H121.3V158.5H130.3V158.2H140.4V151.7H159.2V141.8H174.1V126.8H187.8V116.6H199.9V121.8H211.3V129.3H222.0V132.0H232.2V129.4H242.0V118.7H251.4V99.2H260.9V78.1H270.2V51.4H279.4V46.5H288.1V31.3H296.2V24.8H305.2V27.5H313.6V33.7H322.3V38.4H331.2V45.6H340.2V45.9H349.2V45.9M78.4 152.6H117.3V157.5H128.1V157.8H142.0V152.8H160.8V147.9H175.7V133.3H189.4V129.8H201.5V131.8H212.9V132.3H223.6V130.8H233.8V121.0H243.6V99.9H253.0V73.4H262.5V52.8H271.8V32.6H281.0V2.8H289.7V12.1H297.8V21.3H306.8V28.3H315.2V36.2H323.9V37.7H332.8V42.2H341.8V43.0H350.8V43.0M78.4 143.5H111.5V152.7H118.6V156.0H126.4V156.7H142.5V151.0H161.3V131.9H176.2V112.7H189.9V110.3H202.0V120.0H213.4V127.3H224.1V129.2H234.3V109.4H244.1V75.8H253.5V47.4H263.0V17.6H272.3V5.9H281.5V6.9H290.2V5.3H298.3V12.8H307.3V22.7H315.7V32.6H324.4V36.1H333.3V39.8H342.3V38.4H351.3V38.4M76.4 144.0H108.7V150.2H115.7V154.2H126.0V157.3H131.8V156.5H143.4V148.0H162.2V118.8H177.1V106.8H190.8V101.8H202.9V99.8H214.3V115.7H225.0V126.8H235.2V113.3H245.0V90.1H254.4V56.1H263.9V45.2H273.2V0.3H282.4V8.7H291.1V13.4H299.2V6.5H308.2V19.9H316.6V34.2H325.3V38.7H334.2V36.7H343.2V38.7H352.2V38.7M83.8 155.3H121.4V158.7H130.6V158.4H139.3V149.1H158.1V134.9H173.0V120.7H186.7V112.5H198.8V110.9H210.2V128.9H220.9V129.5H231.1V126.6H240.9V110.1H250.3V81.1H259.8V38.2H269.1V13.7H278.3V-19.0H287.0V-18.8H295.1V-7.2H304.1V8.4H312.5V20.3H321.2V27.4H330.1V29.2H339.1V27.5H348.1V27.5M73.1 139.9H110.1V154.0H120.8V157.9H129.2V157.8H141.2V152.7H160.0V142.2H174.9V131.0H188.6V120.3H200.7V118.6H212.1V126.5H222.8V133.9H233.0V129.8H242.8V109.9H252.2V87.0H261.7V74.3H271.0V46.7H280.2V11.3H288.9V1.2H297.0V10.6H306.0V27.4H314.4V34.6H323.1V37.7H332.0V40.4H341.0V42.0H350.0V42.0M80.2 150.7H115.4V156.4H124.1V157.7H130.4V157.1H137.9V152.3H156.7V137.9H171.6V114.7H185.3V113.0H197.4V108.8H208.8V122.4H219.5V126.3H229.7V119.4H239.5V97.0H248.9V76.1H258.4V57.3H267.7V33.6H276.9V4.9H285.6V6.4H293.7V7.3H302.7V24.2H311.1V36.7H319.8V40.6H328.7V37.6H337.7V38.5H346.7V38.5M75.7 148.5H111.9V156.1H122.6V158.0H128.6V157.9H141.4V149.5H160.2V131.5H175.1V112.0H188.8V100.3H200.9V105.1H212.3V116.8H223.0V123.3H233.2V110.9H243.0V78.9H252.4V50.7H261.9V3.8H271.2V-12.4H280.4V-25.5H289.1V-27.8H297.2V-13.4H306.2V12.3H314.6V25.3H323.3V33.6H332.2V30.9H341.2V33.5H350.2V33.5M68.7 126.5H103.2V139.8H112.7V151.3H118.3V155.6H128.5V156.6H144.0V150.7H162.8V141.8H177.7V126.9H191.4V127.8H203.5V123.2H214.9V133.5H225.6V131.9H235.8V115.7H245.6V100.7H255.0V80.7H264.5V56.1H273.8V41.7H283.0V24.3H291.7V20.6H299.8V28.1H308.8V36.6H317.2V41.8H325.9V48.3H334.8V43.4H343.8V46.1H352.8V46.1M82.7 154.0H119.3V158.3H124.3V158.2H137.6V150.1H156.4V132.7H171.3V115.0H185.0V115.1H197.1V111.6H208.5V120.8H219.2V124.2H229.4V116.7H239.2V103.1H248.6V97.7H258.1V80.3H267.4V33.5H276.6V21.5H285.3V10.5H293.4V10.2H302.4V13.8H310.8V15.8H319.5V29.3H328.4V32.9H337.4V35.8H346.4V35.8M78.2 150.3H114.2V156.3H124.4V158.2H131.0V157.7H141.3V150.4H160.1V140.7H175.0V121.3H188.7V123.2H200.8V126.6H212.2V137.7H222.9V135.0H233.1V121.0H242.9V105.5H252.3V86.7H261.8V63.5H271.1V45.8H280.3V23.7H289.0V7.5H297.1V20.2H306.1V25.7H314.5V41.8H323.2V40.7H332.1V42.1H341.1V44.5H350.1V44.5M78.2 151.5H116.3V157.3H122.1V157.8H128.2V157.9H140.1V152.6H158.9V139.3H173.8V114.4H187.5V111.5H199.6V108.2H211.0V115.1H221.7V125.6H231.9V115.8H241.7V92.9H251.1V84.5H260.6V60.9H269.9V38.2H279.1V29.6H287.8V17.6H295.9V23.2H304.9V22.6H313.3V35.1H322.0V36.8H330.9V35.0H339.9V33.4H348.9V33.4M64.0 119.2H103.9V133.9H114.7V153.2H121.6V155.4H126.8V156.2H140.0V151.1H158.8V137.0H173.7V124.4H187.4V116.4H199.5V120.1H210.9V126.1H221.6V131.9H231.8V122.0H241.6V105.2H251.0V90.5H260.5V69.9H269.8V42.2H279.0V32.2H287.7V12.0H295.8V7.2H304.8V17.7H313.2V36.3H321.9V41.9H330.8V45.4H339.8V50.6H348.8V50.6M80.3 150.5H116.7V156.2H123.3V156.6H141.8V149.3H160.6V134.9H175.5V125.6H189.2V109.9H201.3V116.9H212.7V130.1H223.4V129.2H233.6V125.0H243.4V110.6H252.8V75.6H262.3V54.3H271.6V4.8H280.8V-3.9H289.5V-27.8H297.6V-9.0H306.6V12.7H315.0V30.8H323.7V35.9H332.6V38.7H341.6V39.1H350.6V39.1M76.7 148.5H113.7V155.6H121.0V157.5H127.4V157.1H138.7V152.5H157.5V140.8H172.4V127.1H186.1V113.8H198.2V126.5H209.6V129.3H220.3V129.6H230.5V127.3H240.3V108.6H249.7V95.3H259.2V55.5H268.5V3.5H277.7V6.9H286.4V-5.8H294.5V4.6H303.5V19.2H311.9V33.8H320.6V41.3H329.5V46.8H338.5V50.5H347.5V50.5M75.7 145.2H109.9V153.3H115.4V156.5H122.4V158.4H129.0V158.2H142.0V151.9H160.8V140.2H175.7V124.9H189.4V116.4H201.5V116.3H212.9V127.3H223.6V128.4H233.8V121.2H243.6V105.1H253.0V80.7H262.5V38.1H271.8V9.8H281.0V2.5H289.7V-3.7H297.8V1.1H306.8V21.4H315.2V27.7H323.9V33.1H332.8V37.6H341.8V37.3H350.8V37.3M78.7 150.8H112.2V156.4H122.4V157.9H131.7V157.4H139.3V152.2H158.1V137.8H173.0V133.1H186.7V128.0H198.8V124.6H210.2V131.7H220.9V135.9H231.1V132.1H240.9V113.8H250.3V80.3H259.8V66.0H269.1V42.7H278.3V27.7H287.0V1.1H295.1V3.5H304.1V21.0H312.5V30.4H321.2V34.6H330.1V33.5H339.1V31.5H348.1V31.5M84.6 157.1H121.2V158.6H128.4V158.3H142.2V151.9H161.0V134.0H175.9V113.6H189.6V111.7H201.7V107.5H213.1V126.9H223.8V127.9H234.0V123.4H243.8V95.2H253.2V72.6H262.7V33.7H272.0V22.3H281.2V9.3H289.9V-0.7H298.0V16.3H307.0V26.2H315.4V39.9H324.1V40.6H333.0V43.7H342.0V45.0H351.0V45.0M69.5 138.7H106.6V149.1H116.3V155.6H126.7V156.9H138.3V152.5H157.1V139.6H172.0V114.5H185.7V115.1H197.8V122.2H209.2V132.8H219.9V137.5H230.1V135.2H239.9V121.9H249.3V103.1H258.8V73.3H268.1V41.0H277.3V25.6H286.0V31.5H294.1V42.6H303.1V36.3H311.5V43.4H320.2V48.3H329.1V48.1H338.1V46.5H347.1V46.5M69.2 130.6H105.1V147.2H114.7V156.6H120.0V157.2H127.3V157.5H138.2V151.7H157.0V140.8H171.9V122.3H185.6V110.8H197.7V112.7H209.1V124.8H219.8V131.8H230.0V131.2H239.8V123.6H249.2V103.1H258.7V72.9H268.0V56.8H277.2V43.9H285.9V36.7H294.0V27.2H303.0V22.5H311.4V38.9H320.1V44.0H329.0V41.8H338.0V44.7H347.0V44.7M76.0 144.4H109.2V155.5H116.3V156.4H123.7V157.2H132.7V156.4H143.9V151.7H162.7V135.8H177.6V117.9H191.3V112.7H203.4V117.2H214.8V131.6H225.5V131.7H235.7V121.5H245.5V106.8H254.9V77.7H264.4V49.7H273.7V27.7H282.9V12.7H291.6V8.4H299.7V23.0H308.7V29.7H317.1V40.2H325.8V38.6H334.7V48.1H343.7V48.2H352.7V48.2M89.3 157.5H121.8V158.9H127.5V158.7H139.3V153.4H158.1V141.5H173.0V129.7H186.7V123.6H198.8V124.9H210.2V130.9H220.9V126.8H231.1V126.1H240.9V117.6H250.3V104.3H259.8V77.0H269.1V53.6H278.3V28.7H287.0V32.1H295.1V36.8H304.1V35.2H312.5V37.5H321.2V40.8H330.1V39.8H339.1V39.5H348.1V39.5M86.0 156.1H122.6V158.9H130.3V158.6H140.3V151.8H159.1V132.7H174.0V112.8H187.7V101.9H199.8V110.1H211.2V125.6H221.9V127.8H232.1V126.8H241.9V106.2H251.3V96.1H260.8V85.1H270.1V65.5H279.3V40.2H288.0V19.0H296.1V23.0H305.1V28.4H313.5V39.3H322.2V43.6H331.1V41.8H340.1V41.4H349.1V41.4M77.1 149.3H114.0V156.9H122.6V158.0H132.3V157.5H142.5V152.5H161.3V141.0H176.2V118.0H189.9V117.0H202.0V117.2H213.4V126.5H224.1V122.4H234.3V114.8H244.1V86.3H253.5V61.6H263.0V36.7H272.3V18.3H281.5V24.1H290.2V14.3H298.3V22.5H307.3V28.7H315.7V36.3H324.4V40.0H333.3V45.2H342.3V47.7H351.3V47.7M79.2 152.0H114.0V157.1H119.6V157.3H124.9V158.3H131.4V157.9H143.3V153.1H162.1V145.8H177.0V128.6H190.7V119.6H202.8V122.0H214.2V127.8H224.9V128.2H235.1V118.6H244.9V97.6H254.3V64.0H263.8V16.0H273.1V6.3H282.3V-3.1H291.0V-6.6H299.1V-0.5H308.1V16.8H316.5V27.7H325.2V35.2H334.1V37.3H343.1V43.7H352.1V43.7M78.3 152.5H118.6V157.6H127.4V157.9H141.6V151.3H160.4V133.6H175.3V123.2H189.0V111.3H201.1V114.5H212.5V127.9H223.2V130.4H233.4V122.4H243.2V103.9H252.6V74.9H262.1V51.8H271.4V45.4H280.6V21.8H289.3V17.7H297.4V8.7H306.4V20.0H314.8V38.9H323.5V38.7H332.4V41.8H341.4V40.3H350.4V40.3M81.4 155.7H119.0V158.0H125.7V158.3H142.1V150.2H160.9V137.3H175.8V128.6H189.5V121.0H201.6V116.1H213.0V130.0H223.7V135.0H233.9V124.1H243.7V104.4H253.1V84.0H262.6V44.6H271.9V28.1H281.1V12.4H289.8V14.7H297.9V23.1H306.9V28.9H315.3V41.2H324.0V48.6H332.9V49.7H341.9V45.2H350.9V45.2M80.3 152.3H115.8V156.8H124.4V157.9H141.1V152.1H159.9V137.5H174.8V121.4H188.5V113.4H200.6V120.6H212.0V129.8H222.7V126.5H232.9V122.7H242.7V102.2H252.1V66.3H261.6V39.6H270.9V20.4H280.1V27.1H288.8V15.6H296.9V20.6H305.9V22.0H314.3V34.5H323.0V40.1H331.9V39.9H340.9V41.1H349.9V41.1M80.7 153.4H115.8V157.3H121.3V157.9H129.2V157.9H141.4V151.1H160.2V137.5H175.1V124.2H188.8V120.9H200.9V121.0H212.3V131.4H223.0V132.0H233.2V127.4H243.0V111.0H252.4V87.2H261.9V42.1H271.2V5.1H280.4V-13.1H289.1V-2.6H297.2V6.4H306.2V15.9H314.6V28.1H323.3V38.2H332.2V39.3H341.2V41.7H350.2V41.7M84.0 -50.0H88.4V147.3H106.0V156.7M62.3 65.2H99.7V136.4H108.0V151.2H118.0V157.5M65.0 89.5H102.5V142.6H110.0V152.8H120.0V157.5M63.0 105.1H101.4V140.3H109.0V152.0H119.0V157.5M64.0 107.0H101.8V145.0H111.0V153.5H121.0V157.5M189.0 84.8H201.5V97.3"/>
<path clip-path="url(#cpc)" fill="none" stroke="#FFC8C8" stroke-width="0.7" d="M20.0 280.1H53.9V342.3H65.7V357.6H73.1V357.7H80.2V357.5H86.2V343.5H104.8V337.8H120.5V318.5H134.4V314.7H146.6V306.7H157.2V307.5H168.5V316.2H179.1V323.7H189.3V327.6H199.1V333.6H208.3V337.3H217.9V337.8H227.5V340.3H236.5V340.9H245.3V341.3H254.0V341.2H262.4V340.2H271.3V338.5H279.7V335.8H288.4V334.1H297.1V333.3H305.8V324.6H314.6V320.2H323.3V303.9H331.9V266.5H340.6V268.5H349.3V268.5M20.0 288.7H52.9V338.5H60.6V354.5H71.2V357.1H81.5V357.1H86.6V354.8H105.2V351.0H120.9V327.4H134.8V316.1H147.0V315.3H157.6V311.3H168.9V312.9H179.5V320.6H189.7V328.1H199.5V335.3H208.7V339.5H218.3V341.0H227.9V341.8H236.9V341.2H245.7V341.4H254.4V340.0H262.8V339.4H271.7V338.1H280.1V336.0H288.8V334.5H297.5V332.0H306.2V329.0H315.0V322.5H323.7V313.8H332.3V291.3H341.0V288.0H349.7V288.0M20.0 295.0H53.2V330.1H58.3V347.6H66.7V356.8H78.4V358.3H86.7V358.3H105.3V355.7H121.0V347.2H134.9V337.6H147.1V335.0H157.7V332.4H169.0V325.2H179.6V326.7H189.8V332.2H199.6V335.7H208.8V338.3H218.4V341.4H228.0V341.1H237.0V341.3H245.8V340.8H254.5V340.3H262.9V340.2H271.8V338.3H280.2V335.5H288.9V333.7H297.6V330.1H306.3V324.0H315.1V315.9H323.8V304.9H332.4V285.0H341.1V274.4H349.8V274.4M20.0 300.5H54.6V350.3H67.4V358.2H77.4V359.0H82.0V353.0H100.6V344.7H116.3V334.0H130.2V307.0H142.4V297.2H153.0V295.7H164.3V302.9H174.9V310.8H185.1V320.5H194.9V327.0H204.1V332.6H213.7V338.5H223.3V340.5H232.3V341.2H241.1V341.5H249.8V341.1H258.2V339.7H267.1V338.8H275.5V336.1H284.2V333.5H292.9V331.1H301.6V324.6H310.4V311.2H319.1V301.1H327.7V258.8H336.4V253.0H345.1V253.0M20.0 310.6H55.6V344.1H66.2V356.4H75.8V357.7H86.8V356.4H105.4V351.0H121.1V338.7H135.0V324.9H147.2V321.3H157.8V319.6H169.1V322.4H179.7V327.9H189.9V331.7H199.7V334.5H208.9V337.7H218.5V338.9H228.1V341.1H237.1V341.6H245.9V341.1H254.6V340.1H263.0V338.8H271.9V337.6H280.3V335.4H289.0V333.5H297.7V330.9H306.4V324.0H315.2V317.8H323.9V289.4H332.5V263.6H341.2V251.0H349.9V251.0M20.0 317.7H56.3V348.3H64.1V356.5H76.1V358.3H88.6V352.4H107.2V347.7H122.9V327.0H136.8V321.6H149.0V320.6H159.6V319.5H170.9V317.2H181.5V326.4H191.7V329.9H201.5V333.9H210.7V337.8H220.3V341.1H229.9V341.2H238.9V342.2H247.7V341.9H256.4V340.6H264.8V339.8H273.7V338.1H282.1V336.5H290.8V336.4H299.5V332.6H308.2V329.0H317.0V322.1H325.7V303.0H334.3V289.0H343.0V285.7H351.7V285.7M20.0 350.2H62.1V357.5H74.2V358.7H87.0V338.8H105.6V321.2H121.3V316.5H135.2V316.6H147.4V318.1H158.0V311.6H169.3V309.7H179.9V317.5H190.1V324.8H199.9V327.8H209.1V333.8H218.7V339.1H228.3V341.1H237.3V341.4H246.1V340.5H254.8V339.6H263.2V339.0H272.1V337.1H280.5V335.1H289.2V333.1H297.9V329.1H306.6V318.8H315.4V303.4H324.1V280.8H332.7V266.3H341.4V259.2H350.1V259.2M20.0 346.6H63.4V357.7H73.0V359.2H81.3V359.0H87.0V357.1H105.6V353.7H121.3V346.2H135.2V331.3H147.4V330.6H158.0V324.8H169.3V316.6H179.9V324.6H190.1V328.2H199.9V334.1H209.1V337.2H218.7V339.8H228.3V340.5H237.3V341.3H246.1V340.4H254.8V340.2H263.2V339.4H272.1V337.9H280.5V335.4H289.2V334.5H297.9V332.6H306.6V323.5H315.4V312.8H324.1V278.5H332.7V267.8H341.4V262.8H350.1V262.8M20.0 349.2H63.4V357.8H72.0V358.0H82.7V357.6H104.0V342.7H119.7V330.3H133.6V314.4H145.8V306.7H156.4V311.8H167.7V311.6H178.3V315.4H188.5V323.6H198.3V329.6H207.5V333.9H217.1V337.4H226.7V339.4H235.7V340.4H244.5V340.5H253.2V339.8H261.6V338.5H270.5V337.7H278.9V335.5H287.6V333.3H296.3V329.8H305.0V318.5H313.8V305.5H322.5V288.0H331.1V259.5H339.8V239.4H348.5V239.4M20.0 349.6H63.0V358.6H71.8V358.7H82.1V358.4H89.1V356.4H107.7V351.1H123.4V331.7H137.3V321.1H149.5V324.6H160.1V322.2H171.4V319.6H182.0V323.3H192.2V329.2H202.0V331.5H211.2V335.0H220.8V338.8H230.4V339.9H239.4V340.9H248.2V340.4H256.9V340.1H265.3V339.4H274.2V336.9H282.6V335.1H291.3V332.0H300.0V327.8H308.7V316.6H317.5V311.8H326.2V293.6H334.8V268.3H343.5V266.3H352.2V266.3M20.0 323.1H56.8V351.2H62.8V356.3H70.7V357.8H77.7V358.2H85.1V357.7H103.7V353.3H119.4V339.9H133.3V329.9H145.5V329.7H156.1V324.7H167.4V319.3H178.0V323.8H188.2V328.3H198.0V334.7H207.2V336.8H216.8V340.0H226.4V341.2H235.4V341.8H244.2V341.3H252.9V340.7H261.3V340.2H270.2V338.7H278.6V336.5H287.3V335.2H296.0V333.1H304.7V323.4H313.5V319.0H322.2V305.2H330.8V269.7H339.5V269.3H348.2V269.3M20.0 346.7H63.8V358.9H71.5V359.0H79.7V358.8H85.0V356.3H103.6V351.6H119.3V345.0H133.2V321.7H145.4V323.3H156.0V324.4H167.3V323.0H177.9V325.4H188.1V329.0H197.9V332.4H207.1V337.7H216.7V338.5H226.3V339.9H235.3V340.8H244.1V340.5H252.8V340.0H261.2V339.7H270.1V339.1H278.5V337.1H287.2V335.9H295.9V333.1H304.6V327.1H313.4V320.3H322.1V308.9H330.7V290.2H339.4V277.2H348.1V277.2M20.0 352.9H62.4V358.9H69.6V358.7H76.7V358.7H82.1V358.4H86.0V355.1H104.6V350.0H120.3V329.7H134.2V306.1H146.4V304.3H157.0V313.1H168.3V314.7H178.9V320.9H189.1V326.0H198.9V331.6H208.1V335.3H217.7V339.7H227.3V341.0H236.3V341.0H245.1V340.8H253.8V339.8H262.2V338.3H271.1V336.8H279.5V335.4H288.2V332.3H296.9V330.2H305.6V321.2H314.4V311.6H323.1V284.9H331.7V242.5H340.4V239.7H349.1V239.7M20.0 348.7H63.6V358.5H75.6V359.0H90.8V349.2H109.4V343.1H125.1V329.3H139.0V321.1H151.2V326.8H161.8V318.0H173.1V317.2H183.7V323.6H193.9V324.7H203.7V329.3H212.9V333.2H222.5V337.9H232.1V339.4H241.1V340.1H249.9V339.1H258.6V338.6H267.0V338.4H275.9V336.5H284.3V334.2H293.0V331.1H301.7V323.5H310.4V316.3H319.2V302.3H327.9V276.4H336.5V265.7H345.2V258.1H353.9V258.1M20.0 343.1H61.6V357.9H68.5V357.6H81.0V357.3H102.2V343.5H117.9V340.5H131.8V329.4H144.0V323.3H154.6V317.3H165.9V312.6H176.5V323.6H186.7V327.6H196.5V333.0H205.7V337.1H215.3V339.4H224.9V341.0H233.9V342.1H242.7V341.9H251.4V341.7H259.8V341.3H268.7V340.1H277.1V337.4H285.8V336.1H294.5V335.5H303.2V332.0H312.0V328.4H320.7V319.7H329.3V302.3H338.0V290.9H346.7V290.9M20.0 347.7H62.3V358.1H74.9V359.0H84.8V341.4H103.4V325.6H119.1V318.0H133.0V306.0H145.2V295.1H155.8V295.7H167.1V306.3H177.7V317.6H187.9V323.6H197.7V328.8H206.9V336.2H216.5V338.7H226.1V340.5H235.1V341.9H243.9V341.7H252.6V341.0H261.0V340.5H269.9V338.9H278.3V336.6H287.0V334.6H295.7V332.3H304.4V323.7H313.2V317.7H321.9V310.2H330.5V282.1H339.2V262.4H347.9V262.4M20.0 350.3H63.4V358.0H74.0V358.9H82.7V358.7H103.9V347.0H119.6V340.8H133.5V326.0H145.7V322.2H156.3V316.0H167.6V312.7H178.2V319.3H188.4V325.1H198.2V333.7H207.4V339.2H217.0V341.4H226.6V341.8H235.6V342.3H244.4V341.8H253.1V341.0H261.5V340.5H270.4V339.1H278.8V336.6H287.5V334.7H296.2V332.7H304.9V325.9H313.7V316.0H322.4V297.3H331.0V267.4H339.7V274.7H348.4V274.7M20.0 353.1H63.9V358.5H75.3V358.6H86.2V351.6H104.8V342.8H120.5V330.3H134.4V321.0H146.6V313.9H157.2V310.2H168.5V310.2H179.1V313.8H189.3V324.4H199.1V330.9H208.3V335.3H217.9V338.0H227.5V340.1H236.5V340.6H245.3V339.9H254.0V340.0H262.4V339.5H271.3V338.7H279.7V336.5H288.4V335.1H297.1V331.4H305.8V323.5H314.6V313.5H323.3V282.1H331.9V253.1H340.6V260.9H349.3V260.9M20.0 347.0H62.3V358.3H68.4V358.5H74.4V358.5H82.5V358.3H86.1V347.5H104.7V328.2H120.4V303.2H134.3V297.8H146.5V304.8H157.1V303.8H168.4V317.4H179.0V320.4H189.2V327.1H199.0V331.8H208.2V337.5H217.8V340.6H227.4V341.6H236.4V341.9H245.2V341.1H253.9V340.6H262.3V339.8H271.2V338.1H279.6V336.5H288.3V335.0H297.0V333.9H305.7V328.9H314.5V318.3H323.2V305.0H331.8V268.6H340.5V261.2H349.2V261.2M20.0 356.0H63.4V359.1H70.6V358.9H78.0V359.0H83.7V358.9H104.3V334.9H120.0V305.4H133.9V310.6H146.1V308.3H156.7V313.5H168.0V311.8H178.6V321.7H188.8V326.1H198.6V330.7H207.8V332.9H217.4V336.4H227.0V339.5H236.0V340.2H244.8V339.9H253.5V339.4H261.9V338.9H270.8V338.2H279.2V335.8H287.9V334.9H296.6V332.1H305.3V323.5H314.1V312.7H322.8V299.3H331.4V277.6H340.1V264.2H348.8V264.2M20.0 353.9H61.9V358.8H66.9V358.6H75.8V359.0H90.8V357.5H109.4V353.7H125.1V345.2H139.0V332.3H151.2V321.4H161.8V314.9H173.1V318.3H183.7V324.3H193.9V332.0H203.7V338.2H212.9V340.0H222.5V341.9H232.1V342.1H241.1V341.9H249.9V341.0H258.6V340.4H267.0V339.6H275.9V337.8H284.3V336.9H293.0V336.3H301.7V331.5H310.4V323.1H319.2V310.0H327.9V292.8H336.5V286.2H345.2V278.7H353.9V278.7M20.0 355.9H63.6V359.1H74.1V358.9H87.4V352.6H106.0V350.6H121.7V323.7H135.6V311.5H147.8V310.5H158.4V306.8H169.7V309.4H180.3V319.6H190.5V326.8H200.3V332.0H209.5V334.6H219.1V336.9H228.7V339.0H237.7V339.7H246.5V339.6H255.2V339.3H263.6V338.6H272.5V337.2H280.9V335.3H289.6V331.1H298.3V327.9H307.0V316.6H315.8V310.9H324.5V280.8H333.1V256.0H341.8V254.1H350.5V254.1M20.0 323.1H57.0V351.3H64.9V356.3H74.5V357.1H84.4V353.5H103.0V350.7H118.7V339.3H132.6V319.1H144.8V306.7H155.4V299.3H166.7V310.4H177.3V317.5H187.5V326.7H197.3V331.6H206.5V335.2H216.1V338.8H225.7V341.7H234.7V342.0H243.5V341.4H252.2V340.9H260.6V339.9H269.5V338.8H277.9V336.8H286.6V334.8H295.3V333.3H304.0V325.4H312.8V317.9H321.5V302.4H330.1V274.0H338.8V256.2H347.5V256.2M20.0 352.9H63.7V358.2H73.5V358.8H79.2V358.6H84.6V342.1H103.2V328.9H118.9V307.7H132.8V301.5H145.0V308.3H155.6V301.5H166.9V303.6H177.5V310.6H187.7V320.9H197.5V328.6H206.7V333.2H216.3V337.6H225.9V340.0H234.9V341.2H243.7V340.5H252.4V339.8H260.8V338.5H269.7V337.4H278.1V336.1H286.8V333.7H295.5V329.3H304.2V319.7H313.0V310.7H321.7V289.6H330.3V283.6H339.0V275.3H347.7V275.3M20.0 355.5H64.0V359.1H72.4V359.3H78.9V359.2H87.3V356.4H105.9V350.4H121.6V341.1H135.5V319.3H147.7V318.0H158.3V320.3H169.6V322.0H180.2V323.4H190.4V329.3H200.2V334.3H209.4V336.6H219.0V339.1H228.6V340.7H237.6V340.8H246.4V340.1H255.1V339.5H263.5V338.9H272.4V338.4H280.8V335.9H289.5V334.7H298.2V330.4H306.9V324.9H315.7V316.1H324.4V304.9H333.0V278.8H341.7V280.2H350.4V280.2M20.0 349.6H62.4V356.9H71.4V357.9H81.2V357.5H86.9V348.6H105.5V334.2H121.2V327.3H135.1V320.2H147.3V316.6H157.9V305.8H169.2V305.9H179.8V316.4H190.0V322.6H199.8V329.9H209.0V336.1H218.6V340.1H228.2V340.9H237.2V341.0H246.0V340.2H254.7V339.6H263.1V339.2H272.0V337.2H280.4V335.2H289.1V333.8H297.8V328.3H306.5V320.8H315.3V308.4H324.0V281.5H332.6V249.9H341.3V245.7H350.0V245.7M20.0 343.4H62.6V354.8H70.9V357.6H82.1V357.1H88.8V340.7H107.4V332.2H123.1V308.5H137.0V284.8H149.2V287.9H159.8V286.0H171.1V302.2H181.7V314.7H191.9V324.3H201.7V327.0H210.9V332.4H220.5V337.8H230.1V340.2H239.1V340.5H247.9V339.6H256.6V338.6H265.0V338.2H273.9V336.0H282.3V333.8H291.0V331.3H299.7V326.1H308.4V314.0H317.2V298.5H325.9V258.5H334.5V233.8H343.2V237.6H351.9V237.6M20.0 333.4H59.3V353.5H65.5V356.8H78.0V358.5H84.1V355.1H102.7V349.2H118.4V338.4H132.3V325.3H144.5V323.0H155.1V315.8H166.4V312.8H177.0V319.5H187.2V326.6H197.0V331.6H206.2V334.4H215.8V338.2H225.4V340.4H234.4V341.5H243.2V341.0H251.9V340.7H260.3V340.4H269.2V338.8H277.6V336.9H286.3V336.2H295.0V335.2H303.7V326.2H312.5V317.6H321.2V307.4H329.8V290.9H338.5V274.4H347.2V274.4M20.0 340.0H60.4V355.7H69.9V357.7H75.8V358.6H86.2V347.0H104.8V342.9H120.5V331.2H134.4V310.3H146.6V314.0H157.2V316.6H168.5V319.8H179.1V322.9H189.3V329.9H199.1V330.3H208.3V335.1H217.9V338.5H227.5V340.5H236.5V341.0H245.3V340.3H254.0V339.8H262.4V339.4H271.3V337.5H279.7V335.5H288.4V332.8H297.1V328.8H305.8V321.5H314.6V309.7H323.3V281.4H331.9V256.9H340.6V254.2H349.3V254.2M20.0 354.9H64.2V358.8H74.0V359.0H79.7V358.9H88.7V354.5H107.3V345.4H123.0V316.2H136.9V305.6H149.1V295.5H159.7V307.4H171.0V306.6H181.6V314.9H191.8V323.1H201.6V328.2H210.8V333.1H220.4V336.9H230.0V339.1H239.0V340.2H247.8V340.3H256.5V339.0H264.9V338.5H273.8V336.2H282.2V334.3H290.9V332.1H299.6V326.7H308.3V316.9H317.1V303.9H325.8V277.3H334.4V253.6H343.1V245.2H351.8V245.2M20.0 354.5H63.6V358.5H69.2V358.5H75.5V359.0H85.8V354.8H104.4V351.0H120.1V342.4H134.0V331.2H146.2V317.4H156.8V318.8H168.1V315.2H178.7V324.9H188.9V330.2H198.7V332.2H207.9V336.5H217.5V340.4H227.1V341.3H236.1V342.2H244.9V342.0H253.6V340.7H262.0V340.0H270.9V338.4H279.3V335.8H288.0V334.2H296.7V330.8H305.4V322.9H314.2V315.2H322.9V296.9H331.5V280.6H340.2V283.1H348.9V283.1M20.0 335.9H60.9V356.8H67.6V358.0H75.9V358.7H87.0V355.5H105.6V349.0H121.3V345.9H135.2V333.9H147.4V329.6H158.0V321.6H169.3V322.4H179.9V322.0H190.1V331.0H199.9V335.2H209.1V337.8H218.7V340.0H228.3V340.9H237.3V341.0H246.1V340.8H254.8V339.9H263.2V339.0H272.1V337.6H280.5V336.4H289.2V335.6H297.9V333.6H306.6V329.4H315.4V320.0H324.1V306.8H332.7V266.9H341.4V258.7H350.1V258.7M20.0 335.2H58.9V345.9H64.4V357.3H72.5V358.6H83.5V358.3H104.3V349.0H120.0V329.9H133.9V326.3H146.1V321.1H156.7V321.5H168.0V319.3H178.6V321.6H188.8V326.0H198.6V330.9H207.8V335.4H217.4V338.1H227.0V340.6H236.0V341.2H244.8V340.8H253.5V340.5H261.9V339.8H270.8V338.2H279.2V336.0H287.9V333.1H296.6V330.6H305.3V325.8H314.1V317.0H322.8V288.3H331.4V279.3H340.1V275.1H348.8V275.1M20.0 323.1H56.3V349.1H67.7V357.8H78.8V359.0H87.8V339.2H106.4V328.3H122.1V310.0H136.0V309.8H148.2V305.8H158.8V304.1H170.1V311.7H180.7V320.2H190.9V321.4H200.7V326.0H209.9V332.1H219.5V336.5H229.1V339.0H238.1V340.3H246.9V339.4H255.6V338.7H264.0V337.6H272.9V335.9H281.3V333.9H290.0V330.5H298.7V327.4H307.4V318.5H316.2V300.7H324.9V272.6H333.5V239.4H342.2V226.1H350.9V226.1M20.0 352.8H62.9V358.7H71.7V359.0H80.7V358.8H87.4V350.3H106.0V336.3H121.7V332.1H135.6V325.6H147.8V321.7H158.4V319.0H169.7V316.6H180.3V322.6H190.5V329.1H200.3V331.2H209.5V334.4H219.1V337.7H228.7V339.5H237.7V340.7H246.5V340.2H255.2V339.7H263.6V339.6H272.5V338.2H280.9V336.0H289.6V335.3H298.3V331.4H307.0V323.6H315.8V315.0H324.5V296.7H333.1V271.7H341.8V264.2H350.5V264.2M20.0 357.9H64.9V359.3H72.7V359.3H79.3V359.1H83.7V356.7H102.3V352.2H118.0V340.1H131.9V329.3H144.1V324.7H154.7V319.8H166.0V309.9H176.6V320.5H186.8V326.3H196.6V331.8H205.8V333.7H215.4V336.0H225.0V340.0H234.0V340.9H242.8V340.5H251.5V340.0H259.9V339.5H268.8V338.1H277.2V336.7H285.9V335.0H294.6V332.4H303.3V325.5H312.1V318.3H320.8V308.8H329.4V275.0H338.1V270.6H346.8V270.6M20.0 349.2H62.4V358.7H74.6V359.0H84.9V352.0H103.5V344.0H119.2V334.6H133.1V325.5H145.3V325.1H155.9V325.3H167.2V318.3H177.8V321.9H188.0V326.4H197.8V333.7H207.0V336.9H216.6V339.4H226.2V340.4H235.2V341.4H244.0V340.6H252.7V339.6H261.1V338.5H270.0V337.8H278.4V336.3H287.1V335.3H295.8V332.1H304.5V323.9H313.3V313.7H322.0V299.3H330.6V265.3H339.3V247.3H348.0V247.3M20.0 323.1H55.9V351.5H66.6V358.3H76.0V358.8H81.2V358.6H85.7V358.1H104.3V354.7H120.0V346.8H133.9V333.3H146.1V324.2H156.7V321.8H168.0V316.9H178.6V323.7H188.8V330.1H198.6V333.0H207.8V337.4H217.4V340.7H227.0V341.5H236.0V341.5H244.8V341.0H253.5V340.7H261.9V339.8H270.8V338.1H279.2V336.2H287.9V334.6H296.6V332.4H305.3V320.3H314.1V311.2H322.8V287.4H331.4V256.9H340.1V253.0H348.8V253.0M20.0 349.9H63.1V358.7H70.3V358.8H82.0V358.6H86.8V355.7H105.4V346.5H121.1V338.4H135.0V317.5H147.2V322.3H157.8V325.8H169.1V324.7H179.7V328.9H189.9V332.3H199.7V338.2H208.9V340.8H218.5V342.6H228.1V342.6H237.1V342.4H245.9V341.9H254.6V341.2H263.0V340.2H271.9V339.1H280.3V337.4H289.0V336.7H297.7V334.6H306.4V330.3H315.2V326.2H323.9V309.6H332.5V297.5H341.2V293.5H349.9V293.5M20.0 354.4H65.9V358.8H73.5V358.9H79.1V358.7H90.4V355.9H109.0V352.6H124.7V338.2H138.6V334.6H150.8V331.4H161.4V325.3H172.7V325.8H183.3V325.7H193.5V331.6H203.3V337.4H212.5V341.0H222.1V341.5H231.7V341.9H240.7V341.4H249.5V341.1H258.2V341.3H266.6V340.2H275.5V338.0H283.9V335.6H292.6V333.2H301.3V327.0H310.0V319.9H318.8V312.9H327.5V289.0H336.1V293.0H344.8V283.1H353.5V283.1M20.0 346.6H62.0V358.0H72.4V359.0H79.7V358.8H85.9V356.1H104.5V352.7H120.2V349.8H134.1V332.8H146.3V329.4H156.9V320.9H168.2V321.6H178.8V324.5H189.0V328.5H198.8V332.4H208.0V336.4H217.6V340.1H227.2V340.3H236.2V340.8H245.0V339.9H253.7V339.0H262.1V338.1H271.0V336.9H279.4V335.0H288.1V332.3H296.8V330.4H305.5V321.4H314.3V315.0H323.0V293.6H331.6V278.7H340.3V268.6H349.0V268.6M20.0 323.1H56.4V342.2H61.6V355.9H67.6V356.1H77.5V358.1H83.7V356.7H102.3V351.0H118.0V340.3H131.9V322.1H144.1V316.3H154.7V311.6H166.0V304.7H176.6V319.1H186.8V322.0H196.6V328.9H205.8V333.2H215.4V337.4H225.0V339.7H234.0V340.9H242.8V341.0H251.5V340.4H259.9V339.1H268.8V338.3H277.2V336.7H285.9V335.5H294.6V334.6H303.3V329.3H312.1V321.1H320.8V314.6H329.4V279.2H338.1V277.0H346.8V277.0M20.0 350.7H63.6V357.4H71.6V358.6H81.4V358.4H84.7V350.4H103.3V342.9H119.0V328.3H132.9V309.1H145.1V315.4H155.7V311.4H167.0V314.8H177.6V322.5H187.8V328.5H197.6V333.0H206.8V337.8H216.4V340.6H226.0V341.7H235.0V342.1H243.8V341.4H252.5V341.1H260.9V340.3H269.8V338.9H278.2V337.0H286.9V335.2H295.6V332.4H304.3V325.0H313.1V318.2H321.8V302.8H330.4V280.6H339.1V262.6H347.8V262.6M20.0 326.7H57.1V355.3H68.5V358.8H79.9V358.5H86.0V356.4H104.6V351.7H120.3V339.5H134.2V324.4H146.4V325.3H157.0V326.6H168.3V319.2H178.9V323.8H189.1V329.6H198.9V334.5H208.1V336.9H217.7V339.9H227.3V341.0H236.3V341.6H245.1V340.9H253.8V340.7H262.2V339.9H271.1V338.2H279.5V335.7H288.2V333.5H296.9V330.0H305.6V319.2H314.4V306.9H323.1V284.2H331.7V263.1H340.4V270.1H349.1V270.1M20.0 354.3H63.9V358.6H72.2V359.0H79.0V359.1H82.9V354.9H101.5V350.2H117.2V340.3H131.1V323.1H143.3V320.7H153.9V315.6H165.2V316.1H175.8V317.7H186.0V322.0H195.8V329.7H205.0V335.9H214.6V339.8H224.2V341.3H233.2V341.3H242.0V341.2H250.7V340.9H259.1V340.3H268.0V339.7H276.4V337.3H285.1V334.8H293.8V331.9H302.5V322.4H311.3V314.7H320.0V305.9H328.6V280.0H337.3V266.0H346.0V266.0M20.0 354.8H63.7V359.2H71.0V359.3H79.8V359.2H86.7V347.7H105.3V335.5H121.0V322.5H134.9V301.5H147.1V298.1H157.7V301.2H169.0V304.3H179.6V314.9H189.8V321.3H199.6V325.6H208.8V332.4H218.4V337.3H228.0V339.8H237.0V340.2H245.8V339.5H254.5V338.8H262.9V337.9H271.8V336.8H280.2V334.8H288.9V331.3H297.6V328.4H306.3V316.8H315.1V303.0H323.8V273.8H332.4V256.4H341.1V255.0H349.8V255.0M20.0 356.4H64.1V359.0H72.3V358.9H83.1V358.6H104.5V347.0H120.2V321.5H134.1V301.9H146.3V303.3H156.9V302.0H168.2V306.5H178.8V314.8H189.0V323.4H198.8V327.0H208.0V332.2H217.6V336.3H227.2V338.7H236.2V339.8H245.0V339.4H253.7V339.0H262.1V338.4H271.0V337.4H279.4V335.3H288.1V333.0H296.8V330.5H305.5V318.0H314.3V307.7H323.0V286.4H331.6V231.9H340.3V224.9H349.0V224.9M20.0 353.6H63.9V359.1H72.6V359.0H85.9V354.5H104.5V350.2H120.2V339.3H134.1V326.9H146.3V327.1H156.9V321.9H168.2V319.5H178.8V323.8H189.0V330.0H198.8V334.4H208.0V338.4H217.6V340.5H227.2V341.1H236.2V341.3H245.0V340.4H253.7V340.1H262.1V339.0H271.0V338.0H279.4V336.0H288.1V333.2H296.8V328.8H305.5V317.8H314.3V306.2H323.0V285.8H331.6V268.1H340.3V264.1H349.0V264.1M20.0 323.1H56.5V352.2H67.2V358.2H72.8V358.2H84.5V351.9H103.1V349.2H118.8V342.4H132.7V322.3H144.9V322.5H155.5V319.3H166.8V317.8H177.4V317.3H187.6V323.0H197.4V331.6H206.6V336.5H216.2V340.2H225.8V341.6H234.8V342.1H243.6V341.1H252.3V340.5H260.7V339.6H269.6V338.4H278.0V336.5H286.7V334.6H295.4V332.3H304.1V321.4H312.9V307.3H321.6V289.9H330.2V245.8H338.9V262.5H347.6V262.5M20.0 350.9H62.9V358.7H72.8V358.9H81.0V358.8H87.0V358.2H105.6V354.4H121.3V343.9H135.2V330.3H147.4V331.8H158.0V326.6H169.3V323.0H179.9V326.5H190.1V331.5H199.9V334.7H209.1V338.2H218.7V339.5H228.3V340.3H237.3V340.7H246.1V339.9H254.8V339.5H263.2V339.4H272.1V339.0H280.5V337.2H289.2V336.8H297.9V335.4H306.6V329.1H315.4V322.2H324.1V303.6H332.7V285.8H341.4V286.1H350.1V286.1M20.0 351.8H64.1V358.2H70.3V358.8H77.1V359.2H87.0V353.2H105.6V343.0H121.3V318.8H135.2V300.3H147.4V300.2H158.0V304.4H169.3V315.2H179.9V317.5H190.1V322.1H199.9V332.4H209.1V335.6H218.7V338.9H228.3V340.2H237.3V340.8H246.1V340.3H254.8V339.8H263.2V339.2H272.1V337.2H280.5V335.4H289.2V333.6H297.9V328.9H306.6V319.5H315.4V307.3H324.1V278.7H332.7V245.4H341.4V235.6H350.1V235.6M20.0 342.0H62.8V356.9H74.9V358.5H87.3V356.9H105.9V353.3H121.6V345.2H135.5V326.8H147.7V329.3H158.3V330.9H169.6V328.1H180.2V330.9H190.4V335.0H200.2V339.1H209.4V341.8H219.0V342.6H228.6V342.6H237.6V342.2H246.4V341.6H255.1V340.6H263.5V340.5H272.4V338.7H280.8V336.3H289.5V335.8H298.2V334.2H306.9V331.1H315.7V323.8H324.4V314.8H333.0V299.6H341.7V295.8H350.4V295.8M20.0 350.0H61.8V358.2H68.7V358.8H74.0V359.0H80.5V358.8H86.0V350.4H104.6V343.4H120.3V322.1H134.2V310.5H146.4V319.7H157.0V308.2H168.3V313.3H178.9V318.4H189.1V323.6H198.9V328.6H208.1V333.7H217.7V337.9H227.3V339.7H236.3V340.8H245.1V340.1H253.8V339.7H262.2V339.4H271.1V337.8H279.5V335.1H288.2V332.7H296.9V328.7H305.6V317.7H314.4V309.7H323.1V284.8H331.7V258.7H340.4V254.8H349.1V254.8M20.0 353.9H63.0V358.6H68.2V359.1H77.6V359.2H89.2V355.1H107.8V348.5H123.5V334.4H137.4V329.5H149.6V321.7H160.2V314.4H171.5V315.4H182.1V326.3H192.3V332.7H202.1V337.4H211.3V339.8H220.9V340.5H230.5V341.1H239.5V341.9H248.3V341.3H257.0V340.6H265.4V339.8H274.3V337.7H282.7V335.1H291.4V333.6H300.1V330.0H308.8V323.9H317.6V316.6H326.3V302.8H334.9V285.4H343.6V281.2H352.3V281.2M20.0 348.8H62.6V358.2H71.0V359.0H76.6V359.3H87.2V346.3H105.8V344.8H121.5V338.8H135.4V319.6H147.6V310.9H158.2V303.9H169.5V309.0H180.1V321.5H190.3V328.1H200.1V332.2H209.3V334.4H218.9V338.4H228.5V340.3H237.5V341.0H246.3V340.0H255.0V339.1H263.4V339.1H272.3V337.0H280.7V335.3H289.4V333.9H298.1V331.5H306.8V325.3H315.6V307.1H324.3V265.1H332.9V247.6H341.6V250.9H350.3V250.9M20.0 352.2H62.4V358.5H71.6V358.6H79.6V358.4H86.7V347.9H105.3V337.4H121.0V314.6H134.9V299.4H147.1V295.0H157.7V304.4H169.0V304.1H179.6V311.5H189.8V321.8H199.6V326.5H208.8V332.5H218.4V337.1H228.0V339.5H237.0V340.3H245.8V339.7H254.5V338.6H262.9V337.7H271.8V336.1H280.2V334.1H288.9V331.4H297.6V328.4H306.3V316.8H315.1V303.1H323.8V274.5H332.4V252.3H341.1V237.1H349.8V237.1M20.0 354.9H63.1V358.6H69.1V358.6H75.5V358.8H86.1V355.6H104.7V350.2H120.4V336.4H134.3V328.4H146.5V329.1H157.1V320.9H168.4V318.2H179.0V319.9H189.2V325.7H199.0V331.7H208.2V335.7H217.8V338.4H227.4V340.4H236.4V341.2H245.2V340.5H253.9V340.1H262.3V338.7H271.2V337.7H279.6V336.3H288.3V335.4H297.0V331.7H305.7V325.7H314.5V316.4H323.2V299.1H331.8V274.4H340.5V279.8H349.2V279.8M20.0 347.3H63.7V358.0H74.4V358.8H84.0V355.8H102.6V346.8H118.3V340.7H132.2V327.8H144.4V322.7H155.0V323.1H166.3V321.5H176.9V323.5H187.1V328.8H196.9V334.3H206.1V338.8H215.7V341.4H225.3V341.4H234.3V340.8H243.1V340.6H251.8V340.6H260.2V339.3H269.1V337.8H277.5V336.1H286.2V334.5H294.9V332.7H303.6V325.3H312.4V319.8H321.1V303.8H329.7V296.0H338.4V291.1H347.1V291.1M20.0 355.0H62.5V358.0H67.9V358.6H76.8V358.9H83.7V358.7H103.1V349.0H118.8V339.2H132.7V318.4H144.9V316.9H155.5V310.3H166.8V317.6H177.4V321.3H187.6V329.0H197.4V336.2H206.6V339.3H216.2V340.5H225.8V341.0H234.8V341.2H243.6V340.8H252.3V341.0H260.7V340.0H269.6V338.4H278.0V336.6H286.7V335.1H295.4V333.0H304.1V326.3H312.9V321.1H321.6V300.8H330.2V262.4H338.9V253.1H347.6V253.1M20.0 353.3H63.2V358.0H71.9V358.4H77.9V358.7H85.6V355.6H104.2V345.8H119.9V338.5H133.8V333.7H146.0V328.0H156.6V322.0H167.9V321.0H178.5V324.4H188.7V328.5H198.5V335.0H207.7V339.6H217.3V342.2H226.9V342.2H235.9V342.6H244.7V341.9H253.4V341.6H261.8V341.1H270.7V339.5H279.1V337.2H287.8V335.2H296.5V331.6H305.2V328.1H314.0V318.0H322.7V308.4H331.3V298.7H340.0V296.1H348.7V296.1M20.0 350.5H63.0V358.3H68.3V358.0H73.9V358.6H85.9V354.7H104.5V353.1H120.2V346.7H134.1V329.7H146.3V329.1H156.9V323.8H168.2V320.5H178.8V328.1H189.0V332.5H198.8V334.5H208.0V338.1H217.6V340.1H227.2V341.4H236.2V342.3H245.0V342.1H253.7V340.4H262.1V339.8H271.0V338.7H279.4V336.6H288.1V336.2H296.8V332.6H305.5V322.7H314.3V315.8H323.0V295.3H331.6V279.2H340.3V267.7H349.0V267.7M20.0 352.3H63.2V357.9H71.9V358.7H77.1V358.8H84.2V354.6H102.8V342.7H118.5V334.0H132.4V315.7H144.6V315.2H155.2V311.5H166.5V314.7H177.1V316.4H187.3V325.5H197.1V328.7H206.3V334.4H215.9V338.9H225.5V340.2H234.5V341.0H243.3V340.7H252.0V340.6H260.4V340.0H269.3V338.8H277.7V337.0H286.4V335.9H295.1V335.1H303.8V331.1H312.6V320.8H321.3V301.0H329.9V280.6H338.6V279.2H347.3V279.2M20.0 357.4H64.6V359.2H70.5V359.2H78.9V359.1H88.0V353.3H106.6V341.0H122.3V330.9H136.2V324.7H148.4V322.1H159.0V325.2H170.3V319.9H180.9V323.0H191.1V331.9H200.9V336.0H210.1V338.2H219.7V340.6H229.3V341.2H238.3V341.7H247.1V341.1H255.8V340.5H264.2V339.7H273.1V338.3H281.5V336.7H290.2V335.3H298.9V332.6H307.6V325.4H316.4V318.4H325.1V308.0H333.7V283.4H342.4V276.8H351.1V276.8M20.0 349.3H61.9V357.5H74.5V359.1H83.7V358.9H104.3V356.2H120.0V350.4H133.9V337.9H146.1V335.2H156.7V332.6H168.0V330.1H178.6V329.3H188.8V330.4H198.6V336.2H207.8V341.3H217.4V341.4H227.0V341.7H236.0V341.6H244.8V341.1H253.5V340.6H261.9V340.4H270.8V338.5H279.2V336.6H287.9V334.4H296.6V332.2H305.3V327.5H314.1V318.7H322.8V299.0H331.4V294.8H340.1V292.4H348.8V292.4M20.0 349.9H62.8V358.9H71.2V358.7H83.2V358.4H86.5V345.2H105.1V332.4H120.8V314.2H134.7V303.8H146.9V310.0H157.5V299.8H168.8V308.2H179.4V320.1H189.6V326.9H199.4V331.8H208.6V334.7H218.2V339.2H227.8V341.0H236.8V341.2H245.6V340.4H254.3V340.1H262.7V339.7H271.6V337.9H280.0V335.8H288.7V334.7H297.4V332.0H306.1V321.1H314.9V313.1H323.6V280.3H332.2V268.6H340.9V247.9H349.6V247.9M20.0 323.1H56.6V354.0H64.0V358.1H75.1V358.6H86.8V353.5H105.4V349.8H121.1V337.7H135.0V315.8H147.2V315.6H157.8V302.8H169.1V310.6H179.7V317.4H189.9V322.6H199.7V331.2H208.9V334.8H218.5V339.6H228.1V341.1H237.1V341.6H245.9V340.5H254.6V340.4H263.0V339.3H271.9V338.3H280.3V336.1H289.0V333.9H297.7V330.3H306.4V318.2H315.2V307.3H323.9V292.0H332.5V272.6H341.2V260.0H349.9V260.0M20.0 342.6H62.4V357.5H69.6V359.0H75.9V359.1H83.2V359.0H103.7V347.5H119.4V342.1H133.3V323.7H145.5V320.6H156.1V317.7H167.4V319.8H178.0V321.0H188.2V326.2H198.0V330.2H207.2V335.6H216.8V338.4H226.4V340.4H235.4V341.5H244.2V340.9H252.9V340.9H261.3V340.2H270.2V338.8H278.6V336.4H287.3V335.2H296.0V334.3H304.7V329.6H313.5V326.7H322.2V317.8H330.8V277.3H339.5V270.1H348.2V270.1M20.0 352.9H63.0V358.6H73.2V359.0H80.0V358.8H88.2V351.9H106.8V341.7H122.5V327.6H136.4V318.6H148.6V308.6H159.2V306.4H170.5V304.2H181.1V313.9H191.3V324.1H201.1V331.4H210.3V336.3H219.9V339.2H229.5V340.3H238.5V340.6H247.3V339.5H256.0V339.6H264.4V339.0H273.3V337.8H281.7V336.1H290.4V335.0H299.1V331.9H307.8V327.1H316.6V322.5H325.3V299.0H333.9V280.7H342.6V267.5H351.3V267.5M20.0 354.9H63.4V358.6H74.9V359.2H82.0V359.1H103.2V338.3H118.9V318.4H132.8V303.2H145.0V296.0H155.6V295.5H166.9V300.8H177.5V315.1H187.7V322.1H197.5V327.9H206.7V334.1H216.3V338.1H225.9V340.1H234.9V341.0H243.7V340.9H252.4V340.0H260.8V339.8H269.7V338.5H278.1V336.6H286.8V334.6H295.5V330.6H304.2V319.8H313.0V307.2H321.7V289.7H330.3V257.4H339.0V254.0H347.7V254.0M20.0 352.1H63.0V359.1H75.2V359.1H86.3V348.3H104.9V337.1H120.6V316.5H134.5V313.1H146.7V312.3H157.3V318.6H168.6V322.7H179.2V327.8H189.4V330.1H199.2V334.0H208.4V336.6H218.0V338.4H227.6V340.2H236.6V340.9H245.4V340.2H254.1V339.4H262.5V339.3H271.4V337.9H279.8V335.9H288.5V333.8H297.2V331.1H305.9V323.9H314.7V313.0H323.4V289.2H332.0V260.8H340.7V249.7H349.4V249.7M20.0 344.9H63.5V357.1H71.8V357.5H80.2V357.5H84.8V350.7H103.4V339.6H119.1V324.1H133.0V305.8H145.2V300.2H155.8V303.4H167.1V312.8H177.7V313.4H187.9V322.7H197.7V330.6H206.9V334.0H216.5V337.3H226.1V340.0H235.1V340.1H243.9V340.5H252.6V339.4H261.0V338.8H269.9V337.5H278.3V335.4H287.0V333.1H295.7V329.4H304.4V322.9H313.2V313.7H321.9V289.2H330.5V273.6H339.2V254.4H347.9V254.4M20.0 349.9H62.3V359.2H74.7V359.3H84.2V356.6H102.8V352.7H118.5V344.2H132.4V332.2H144.6V333.1H155.2V332.7H166.5V330.5H177.1V329.4H187.3V333.6H197.1V337.4H206.3V341.0H215.9V341.0H225.5V341.8H234.5V342.0H243.3V341.5H252.0V341.1H260.4V340.7H269.3V339.2H277.7V337.3H286.4V336.5H295.1V335.3H303.8V329.0H312.6V322.8H321.3V304.6H329.9V290.7H338.6V295.5H347.3V295.5M20.0 355.2H65.1V358.6H74.2V358.8H82.7V358.6H89.8V350.9H108.4V343.4H124.1V331.5H138.0V320.6H150.2V324.9H160.8V317.1H172.1V313.6H182.7V318.3H192.9V326.9H202.7V330.1H211.9V335.7H221.5V340.3H231.1V341.1H240.1V340.7H248.9V340.4H257.6V339.5H266.0V338.7H274.9V337.0H283.3V335.4H292.0V333.3H300.7V326.5H309.4V316.8H318.2V302.4H326.9V259.2H335.5V241.7H344.2V240.5H352.9V240.5M20.0 349.8H62.7V358.7H72.0V358.9H81.7V358.7H86.4V354.8H105.0V347.7H120.7V325.1H134.6V306.6H146.8V307.1H157.4V310.9H168.7V313.6H179.3V319.5H189.5V327.2H199.3V330.9H208.5V335.5H218.1V339.6H227.7V340.0H236.7V341.7H245.5V341.1H254.2V340.5H262.6V339.4H271.5V337.5H279.9V334.9H288.6V331.4H297.3V328.5H306.0V317.1H314.8V303.6H323.5V278.3H332.1V261.2H340.8V261.6H349.5V261.6M20.0 347.0H62.3V358.4H72.7V359.0H86.5V356.1H105.1V350.0H120.8V344.0H134.7V333.7H146.9V330.8H157.5V323.3H168.8V321.7H179.4V325.8H189.6V332.8H199.4V336.6H208.6V337.0H218.2V340.2H227.8V340.2H236.8V341.7H245.6V341.4H254.3V340.2H262.7V340.0H271.6V338.6H280.0V336.1H288.7V335.4H297.4V333.5H306.1V330.5H314.9V319.5H323.6V300.1H332.2V268.1H340.9V260.6H349.6V260.6M20.0 354.0H63.6V359.1H72.7V359.1H78.1V359.1H88.6V354.5H107.2V339.2H122.9V323.5H136.8V313.0H149.0V305.7H159.6V315.1H170.9V317.4H181.5V318.7H191.7V324.0H201.5V331.2H210.7V336.9H220.3V340.0H229.9V340.7H238.9V341.3H247.7V340.3H256.4V340.2H264.8V339.2H273.7V337.2H282.1V335.2H290.8V331.4H299.5V326.3H308.2V314.2H317.0V298.8H325.7V259.3H334.3V238.5H343.0V228.4H351.7V228.4M20.0 348.2H63.0V358.5H73.7V359.1H79.0V358.9H88.3V355.3H106.9V347.3H122.6V332.8H136.5V321.4H148.7V317.1H159.3V316.5H170.6V321.6H181.2V326.0H191.4V332.7H201.2V335.7H210.4V338.1H220.0V340.5H229.6V341.1H238.6V341.2H247.4V340.3H256.1V340.1H264.5V339.4H273.4V338.0H281.8V336.2H290.5V333.7H299.2V332.0H307.9V327.3H316.7V317.2H325.4V292.4H334.0V279.0H342.7V287.4H351.4V287.4M20.0 351.0H63.0V358.7H68.9V359.2H77.3V359.1H86.4V355.0H105.0V354.4H120.7V346.3H134.6V325.9H146.8V321.7H157.4V319.5H168.7V318.4H179.3V321.7H189.5V328.3H199.3V334.1H208.5V338.0H218.1V340.5H227.7V340.9H236.7V341.4H245.5V340.6H254.2V340.2H262.6V339.9H271.5V337.5H279.9V335.0H288.6V332.2H297.3V328.6H306.0V318.5H314.8V303.8H323.5V291.2H332.1V266.7H340.8V252.8H349.5V252.8M20.0 324.8H57.9V353.9H66.4V358.1H78.5V358.5H85.3V357.3H103.9V352.7H119.6V339.2H133.5V328.1H145.7V322.1H156.3V320.9H167.6V323.6H178.2V325.6H188.4V329.6H198.2V335.6H207.4V339.5H217.0V341.6H226.6V342.2H235.6V342.5H244.4V341.6H253.1V341.2H261.5V340.1H270.4V339.0H278.8V337.2H287.5V335.3H296.2V331.9H304.9V326.9H313.7V317.8H322.4V309.0H331.0V290.0H339.7V286.8H348.4V286.8M20.0 354.8H63.1V359.2H72.4V359.1H80.2V358.9H84.7V356.6H103.3V353.3H119.0V343.3H132.9V330.4H145.1V329.1H155.7V331.0H167.0V330.3H177.6V329.9H187.8V332.3H197.6V333.8H206.8V337.6H216.4V340.8H226.0V341.4H235.0V341.7H243.8V341.2H252.5V339.9H260.9V339.4H269.8V338.0H278.2V336.0H286.9V334.9H295.6V332.7H304.3V325.7H313.1V313.2H321.8V305.4H330.4V297.1H339.1V283.4H347.8V283.4M20.0 327.9H58.0V355.5H64.0V357.2H69.7V358.0H80.4V358.5H86.5V356.1H105.1V350.5H120.8V343.8H134.7V323.2H146.9V315.5H157.5V308.8H168.8V313.5H179.4V322.6H189.6V328.3H199.4V332.9H208.6V336.9H218.2V339.9H227.8V341.3H236.8V341.8H245.6V341.1H254.3V340.5H262.7V339.2H271.6V337.8H280.0V335.6H288.7V333.7H297.4V330.2H306.1V324.4H314.9V316.0H323.6V304.1H332.2V293.2H340.9V275.0H349.6V275.0M20.0 355.9H66.0V359.2H76.5V359.2H82.0V359.1H85.2V357.6H103.8V353.5H119.5V338.5H133.4V319.4H145.6V320.6H156.2V322.9H167.5V323.9H178.1V325.4H188.3V328.3H198.1V333.9H207.3V335.7H216.9V337.4H226.5V339.8H235.5V341.5H244.3V340.6H253.0V340.1H261.4V339.2H270.3V337.6H278.7V336.1H287.4V334.1H296.1V331.1H304.8V325.0H313.6V313.7H322.3V294.4H330.9V273.0H339.6V251.9H348.3V251.9M20.0 323.1H56.4V352.6H64.9V357.4H76.0V358.9H86.4V354.4H105.0V344.3H120.7V337.0H134.6V318.7H146.8V314.1H157.4V312.8H168.7V308.0H179.3V320.5H189.5V326.5H199.3V331.6H208.5V336.9H218.1V341.4H227.7V341.4H236.7V341.9H245.5V340.9H254.2V340.5H262.6V340.1H271.5V338.8H279.9V336.9H288.6V335.3H297.3V333.9H306.0V328.5H314.8V324.0H323.5V311.8H332.1V295.6H340.8V284.5H349.5V284.5M20.0 352.8H64.3V358.7H76.7V359.1H87.1V355.6H105.7V352.4H121.4V344.7H135.3V331.4H147.5V314.8H158.1V318.9H169.4V322.4H180.0V326.2H190.2V329.3H200.0V333.1H209.2V336.3H218.8V339.5H228.4V340.8H237.4V341.5H246.2V340.9H254.9V340.6H263.3V340.3H272.2V338.9H280.6V336.0H289.3V334.1H298.0V331.3H306.7V324.6H315.5V316.8H324.2V289.4H332.8V269.1H341.5V270.2H350.2V270.2M20.0 337.4H60.4V356.6H71.1V358.3H79.4V358.0H85.3V354.8H103.9V351.8H119.6V341.7H133.5V326.9H145.7V311.2H156.3V311.8H167.6V319.8H178.2V320.5H188.4V324.7H198.2V330.5H207.4V334.6H217.0V337.6H226.6V340.1H235.6V340.9H244.4V340.3H253.1V339.1H261.5V338.0H270.4V336.8H278.8V335.5H287.5V332.6H296.2V329.0H304.9V318.7H313.7V305.8H322.4V288.2H331.0V242.3H339.7V248.2H348.4V248.2M20.0 355.9H63.8V358.9H73.9V358.9H80.2V358.7H86.6V356.0H105.2V352.4H120.9V339.7H134.8V323.2H147.0V317.3H157.6V316.4H168.9V319.6H179.5V325.2H189.7V330.4H199.5V334.8H208.7V337.4H218.3V339.7H227.9V341.3H236.9V341.2H245.7V340.0H254.4V339.4H262.8V338.6H271.7V337.0H280.1V334.7H288.8V332.1H297.5V328.5H306.2V316.9H315.0V307.1H323.7V276.5H332.3V263.4H341.0V263.0H349.7V263.0M20.0 351.6H63.1V358.4H71.6V359.2H78.4V359.1H83.6V358.9H101.4V351.1H117.1V345.2H131.0V335.9H143.2V331.7H153.8V326.2H165.1V325.4H175.7V329.7H185.9V333.0H195.7V336.3H204.9V339.8H214.5V340.7H224.1V341.9H233.1V342.4H241.9V342.3H250.6V341.9H259.0V341.1H267.9V340.1H276.3V338.2H285.0V336.6H293.7V336.8H302.4V333.7H311.2V328.9H319.9V323.1H328.5V308.9H337.2V297.5H345.9V297.5M20.0 337.7H61.4V357.6H74.1V358.1H79.5V357.7H85.2V356.7H103.8V352.0H119.5V340.0H133.4V309.7H145.6V306.5H156.2V305.9H167.5V314.0H178.1V322.2H188.3V330.5H198.1V336.4H207.3V339.1H216.9V340.4H226.5V341.5H235.5V342.0H244.3V341.5H253.0V340.6H261.4V339.6H270.3V338.5H278.7V336.5H287.4V335.5H296.1V333.6H304.8V322.9H313.6V313.0H322.3V288.4H330.9V256.3H339.6V240.1H348.3V240.1M20.0 351.6H63.7V358.2H68.7V358.8H73.8V358.9H83.2V358.7H89.2V349.9H107.8V323.7H123.5V312.4H137.4V306.5H149.6V294.2H160.2V292.9H171.5V306.9H182.1V320.1H192.3V325.2H202.1V333.8H211.3V338.2H220.9V340.6H230.5V341.0H239.5V340.9H248.3V340.0H257.0V339.2H265.4V338.7H274.3V336.2H282.7V334.6H291.4V332.8H300.1V327.4H308.8V317.4H317.6V305.1H326.3V261.9H334.9V266.8H343.6V254.8H352.3V254.8M20.0 346.3H63.1V358.1H71.4V358.4H83.9V352.9H102.5V338.0H118.2V338.5H132.1V316.3H144.3V323.7H154.9V315.1H166.2V313.8H176.8V321.8H187.0V327.3H196.8V332.0H206.0V336.8H215.6V339.1H225.2V340.1H234.2V341.9H243.0V341.6H251.7V340.8H260.1V340.0H269.0V339.3H277.4V336.6H286.1V334.0H294.8V330.8H303.5V325.2H312.3V319.0H321.0V305.3H329.6V270.4H338.3V237.8H347.0V237.8M20.0 341.5H62.0V358.3H67.8V359.1H74.9V358.9H83.1V358.7H102.8V344.5H118.5V338.3H132.4V326.0H144.6V321.8H155.2V317.1H166.5V312.4H177.1V317.4H187.3V323.6H197.1V328.3H206.3V333.3H215.9V337.9H225.5V340.2H234.5V341.0H243.3V341.0H252.0V340.6H260.4V340.1H269.3V338.7H277.7V337.1H286.4V334.8H295.1V331.8H303.8V324.3H312.6V309.6H321.3V290.6H329.9V259.2H338.6V225.8H347.3V225.8M20.0 349.7H63.2V358.8H71.5V358.9H81.2V358.8H87.6V355.0H106.2V353.1H121.9V342.9H135.8V324.9H148.0V321.9H158.6V324.1H169.9V320.3H180.5V324.7H190.7V332.4H200.5V337.5H209.7V339.6H219.3V341.4H228.9V342.1H237.9V341.7H246.7V341.3H255.4V341.0H263.8V340.5H272.7V339.1H281.1V336.8H289.8V336.1H298.5V334.6H307.2V327.3H316.0V319.0H324.7V315.3H333.3V293.9H342.0V283.6H350.7V283.6M20.0 341.0H61.6V357.8H70.4V358.5H80.4V358.3H86.1V354.5H104.7V349.6H120.4V335.9H134.3V315.4H146.5V317.0H157.1V319.0H168.4V317.6H179.0V320.7H189.2V326.7H199.0V329.2H208.2V333.7H217.8V338.4H227.4V339.8H236.4V340.8H245.2V339.9H253.9V339.2H262.3V338.1H271.2V337.2H279.6V334.8H288.3V331.8H297.0V328.7H305.7V317.6H314.5V304.3H323.2V283.4H331.8V236.1H340.5V236.0H349.2V236.0M20.0 348.8H62.4V358.9H73.9V359.1H80.7V358.9H89.1V357.5H107.7V354.9H123.4V345.9H137.3V337.1H149.5V327.9H160.1V312.7H171.4V319.7H182.0V323.5H192.2V331.4H202.0V337.8H211.2V342.0H220.8V342.5H230.4V342.7H239.4V342.4H248.2V342.0H256.9V341.5H265.3V340.5H274.2V338.4H282.6V336.3H291.3V335.2H300.0V331.1H308.7V318.7H317.5V316.5H326.2V295.5H334.8V287.7H343.5V284.9H352.2V284.9M20.0 353.9H63.5V358.4H74.9V358.6H86.7V354.5H105.3V351.0H121.0V344.5H134.9V331.8H147.1V328.9H157.7V324.1H169.0V322.7H179.6V328.9H189.8V334.8H199.6V337.4H208.8V339.4H218.4V341.8H228.0V341.6H237.0V342.6H245.8V341.2H254.5V340.4H262.9V340.3H271.8V338.6H280.2V336.5H288.9V335.4H297.6V333.1H306.3V327.7H315.1V320.0H323.8V308.8H332.4V291.3H341.1V281.2H349.8V281.2M20.0 343.8H62.4V357.2H72.9V358.5H81.0V358.2H100.8V355.2H116.5V344.3H130.4V331.3H142.6V328.1H153.2V322.3H164.5V312.7H175.1V317.6H185.3V326.1H195.1V331.1H204.3V334.4H213.9V337.9H223.5V340.0H232.5V341.1H241.3V341.0H250.0V341.1H258.4V340.6H267.3V340.1H275.7V338.0H284.4V335.4H293.1V335.7H301.8V333.1H310.6V328.7H319.3V321.1H327.9V294.7H336.6V285.4H345.3V285.4M20.0 355.6H63.8V359.1H76.7V359.3H83.4V359.2H88.2V354.4H106.8V348.0H122.5V339.7H136.4V328.0H148.6V322.2H159.2V316.4H170.5V314.9H181.1V322.2H191.3V329.2H201.1V335.0H210.3V338.2H219.9V340.7H229.5V341.6H238.5V341.9H247.3V341.7H256.0V341.2H264.4V340.2H273.3V338.0H281.7V335.8H290.4V335.1H299.1V333.0H307.8V322.9H316.6V305.7H325.3V271.2H333.9V259.6H342.6V269.8H351.3V269.8M20.0 353.8H63.4V358.9H76.1V358.8H83.7V358.6H105.1V352.0H120.8V340.6H134.7V334.0H146.9V331.1H157.5V323.2H168.8V323.8H179.4V326.2H189.6V331.4H199.4V337.5H208.6V338.1H218.2V340.5H227.8V341.2H236.8V341.8H245.6V340.8H254.3V339.9H262.7V339.0H271.6V337.4H280.0V335.3H288.7V332.5H297.4V328.5H306.1V320.6H314.9V308.9H323.6V293.5H332.2V291.3H340.9V280.4H349.6V280.4M20.0 346.7H62.8V358.1H73.0V358.4H80.3V358.3H86.1V352.9H104.7V351.9H120.4V343.3H134.3V324.8H146.5V328.4H157.1V320.1H168.4V318.9H179.0V322.6H189.2V328.2H199.0V333.0H208.2V337.3H217.8V340.4H227.4V341.2H236.4V341.2H245.2V340.3H253.9V339.7H262.3V339.4H271.2V337.9H279.6V335.2H288.3V333.0H297.0V329.3H305.7V322.8H314.5V304.7H323.2V282.7H331.8V247.3H340.5V264.0H349.2V264.0M20.0 351.5H62.1V358.4H73.4V358.9H79.4V358.9H86.2V341.2H104.8V330.9H120.5V315.9H134.4V298.6H146.6V299.9H157.2V297.0H168.5V306.0H179.1V313.4H189.3V322.4H199.1V332.4H208.3V335.3H217.9V338.9H227.5V340.9H236.5V341.5H245.3V341.0H254.0V340.0H262.4V339.3H271.3V337.9H279.7V335.9H288.4V334.6H297.1V332.4H305.8V326.6H314.6V318.6H323.3V307.4H331.9V287.1H340.6V272.9H349.3V272.9M20.0 352.8H63.6V358.2H70.6V359.0H79.0V358.9H85.9V350.3H104.5V343.2H120.2V330.0H134.1V305.5H146.3V289.1H156.9V300.6H168.2V309.7H178.8V320.0H189.0V327.3H198.8V331.7H208.0V336.0H217.6V339.1H227.2V340.3H236.2V341.2H245.0V340.7H253.7V339.7H262.1V339.1H271.0V337.8H279.4V334.8H288.1V332.2H296.8V329.1H305.5V322.4H314.3V307.2H323.0V286.0H331.6V231.7H340.3V228.8H349.0V228.8M20.0 339.0H62.1V358.0H71.0V358.1H79.3V358.0H84.8V356.8H103.4V351.0H119.1V349.5H133.0V332.2H145.2V326.9H155.8V322.8H167.1V321.2H177.7V324.6H187.9V328.9H197.7V332.9H206.9V340.3H216.5V341.3H226.1V341.2H235.1V341.8H243.9V340.8H252.6V340.5H261.0V339.1H269.9V337.6H278.3V335.9H287.0V332.0H295.7V329.3H304.4V319.4H313.2V306.7H321.9V289.3H330.5V251.8H339.2V240.2H347.9V240.2M20.0 346.4H61.9V358.3H73.4V358.9H83.9V358.8H104.3V332.8H120.0V320.3H133.9V303.5H146.1V297.5H156.7V298.9H168.0V303.8H178.6V315.9H188.8V322.7H198.6V328.5H207.8V332.7H217.4V337.4H227.0V339.9H236.0V340.5H244.8V340.2H253.5V339.5H261.9V338.7H270.8V337.7H279.2V335.7H287.9V333.8H296.6V330.2H305.3V323.3H314.1V309.5H322.8V287.5H331.4V243.9H340.1V234.8H348.8V234.8M20.0 356.4H64.3V359.0H75.0V359.1H81.7V358.9H87.7V356.4H106.3V350.4H122.0V338.7H135.9V327.8H148.1V319.2H158.7V315.0H170.0V312.9H180.6V321.8H190.8V330.2H200.6V336.2H209.8V340.5H219.4V342.4H229.0V341.6H238.0V341.9H246.8V341.1H255.5V340.6H263.9V339.9H272.8V337.5H281.2V336.1H289.9V335.2H298.6V331.6H307.3V326.5H316.1V315.3H324.8V285.1H333.4V258.0H342.1V249.7H350.8V249.7M20.0 342.2H61.8V358.1H73.8V359.2H88.0V356.4H106.6V350.4H122.3V331.6H136.2V320.2H148.4V308.0H159.0V312.7H170.3V315.4H180.9V323.3H191.1V329.2H200.9V334.3H210.1V338.2H219.7V340.9H229.3V341.4H238.3V341.4H247.1V340.8H255.8V339.6H264.2V339.2H273.1V338.2H281.5V335.8H290.2V333.0H298.9V330.2H307.6V324.0H316.4V319.3H325.1V310.9H333.7V292.0H342.4V295.8H351.1V295.8M20.0 344.1H62.4V357.7H75.3V358.9H82.5V358.7H87.8V355.9H106.4V354.9H122.1V345.8H136.0V329.6H148.2V325.2H158.8V322.0H170.1V318.4H180.7V322.3H190.9V329.3H200.7V333.9H209.9V338.1H219.5V341.0H229.1V340.6H238.1V340.7H246.9V339.8H255.6V339.4H264.0V338.2H272.9V336.2H281.3V334.1H290.0V331.4H298.7V327.4H307.4V315.4H316.2V300.7H324.9V263.0H333.5V229.2H342.2V241.7H350.9V241.7M20.0 357.9H64.9V359.3H72.9V359.2H83.6V352.1H102.2V350.6H117.9V342.8H131.8V326.3H144.0V318.2H154.6V313.5H165.9V307.8H176.5V317.3H186.7V324.6H196.5V328.6H205.7V331.3H215.3V336.1H224.9V339.3H233.9V340.7H242.7V339.8H251.4V339.2H259.8V338.5H268.7V338.2H277.1V336.0H285.8V332.4H294.5V329.8H303.2V321.3H312.0V308.8H320.7V291.8H329.3V244.4H338.0V226.0H346.7V226.0M20.0 345.9H63.1V357.5H70.4V358.9H77.5V359.1H84.8V353.5H103.4V339.1H119.1V328.2H133.0V307.4H145.2V310.2H155.8V318.8H167.1V315.5H177.7V319.8H187.9V325.5H197.7V328.7H206.9V335.0H216.5V339.6H226.1V340.7H235.1V341.6H243.9V341.1H252.6V340.4H261.0V340.0H269.9V338.3H278.3V336.3H287.0V333.3H295.7V330.0H304.4V319.4H313.2V309.9H321.9V291.6H330.5V271.2H339.2V271.7H347.9V271.7M20.0 352.1H64.1V359.1H74.0V359.1H83.4V358.9H87.0V358.3H105.6V355.8H121.3V348.5H135.2V335.9H147.4V332.9H158.0V324.4H169.3V323.5H179.9V324.7H190.1V333.2H199.9V337.5H209.1V340.6H218.7V341.5H228.3V342.3H237.3V342.7H246.1V341.8H254.8V341.5H263.2V341.0H272.1V339.3H280.5V337.1H289.2V336.8H297.9V335.6H306.6V331.6H315.4V326.2H324.1V316.6H332.7V299.7H341.4V295.8H350.1V295.8M20.0 343.2H62.7V357.6H70.9V358.6H82.8V358.4H86.1V344.2H104.7V326.8H120.4V295.3H134.3V293.4H146.5V292.8H157.1V301.7H168.4V308.5H179.0V317.1H189.2V322.6H199.0V329.8H208.2V336.0H217.8V338.0H227.4V338.9H236.4V340.9H245.2V340.6H253.9V339.8H262.3V338.9H271.2V337.7H279.6V335.4H288.3V332.2H297.0V328.7H305.7V317.6H314.5V304.3H323.2V283.7H331.8V257.1H340.5V256.3H349.2V256.3M20.0 353.6H63.3V358.6H71.4V358.7H81.6V358.5H86.2V350.6H104.8V330.1H120.5V303.0H134.4V308.0H146.6V312.3H157.2V300.7H168.5V304.1H179.1V316.2H189.3V321.4H199.1V328.6H208.3V333.3H217.9V337.2H227.5V339.4H236.5V340.6H245.3V339.7H254.0V339.4H262.4V339.2H271.3V337.5H279.7V335.3H288.4V333.7H297.1V329.7H305.8V322.9H314.6V312.0H323.3V282.0H331.9V250.6H340.6V259.9H349.3V259.9M20.0 354.7H63.6V358.7H74.7V359.2H80.7V359.0H88.4V356.1H107.0V353.0H122.7V343.3H136.6V321.5H148.8V324.9H159.4V327.1H170.7V329.0H181.3V330.4H191.5V332.2H201.3V337.2H210.5V339.1H220.1V341.0H229.7V341.9H238.7V341.3H247.5V340.5H256.2V340.7H264.6V340.4H273.5V338.4H281.9V336.2H290.6V335.1H299.3V331.3H308.0V324.2H316.8V317.1H325.5V293.1H334.1V282.3H342.8V273.9H351.5V273.9M20.0 349.4H63.3V358.2H71.7V358.5H78.6V358.6H83.9V355.6H102.5V348.8H118.2V341.9H132.1V329.1H144.3V322.5H154.9V317.9H166.2V320.1H176.8V320.6H187.0V325.6H196.8V331.3H206.0V335.7H215.6V338.1H225.2V340.1H234.2V341.0H243.0V340.7H251.7V339.7H260.1V338.6H269.0V338.7H277.4V336.9H286.1V336.4H294.8V335.6H303.5V330.8H312.3V325.5H321.0V311.5H329.6V287.8H338.3V274.3H347.0V274.3M20.0 323.1H56.8V345.5H69.3V357.9H81.9V357.5H85.3V352.8H103.9V344.4H119.6V321.3H133.5V308.9H145.7V302.0H156.3V301.6H167.6V300.7H178.2V316.6H188.4V325.0H198.2V329.4H207.4V335.5H217.0V338.4H226.6V340.1H235.6V340.9H244.4V340.2H253.1V339.5H261.5V339.0H270.4V337.6H278.8V335.9H287.5V334.0H296.2V332.7H304.9V326.0H313.7V321.3H322.4V305.4H331.0V278.7H339.7V279.0H348.4V279.0M20.0 353.3H62.7V358.4H71.5V359.0H78.5V358.8H83.6V358.5H88.9V354.1H107.5V336.3H123.2V318.9H137.1V321.6H149.3V321.2H159.9V315.2H171.2V318.1H181.8V321.8H192.0V328.8H201.8V333.4H211.0V336.5H220.6V338.0H230.2V340.0H239.2V340.7H248.0V339.9H256.7V339.1H265.1V339.2H274.0V337.0H282.4V335.3H291.1V333.3H299.8V326.4H308.5V314.8H317.3V305.5H326.0V273.0H334.6V262.2H343.3V277.2H352.0V277.2M43.9 47.1H43.9V353.2M44.4 47.1H44.4V344.4M44.8 47.1H44.8V340.8M45.2 47.1H45.2V349.3M45.7 47.1H45.7V354.4M45.0 47.1H45.0V344.5M109.2 298.1H125.0V305.2M109.2 340.3H109.2V298.1M138.0 313.0H138.0V274.7H150.3V293.4M148.0 297.3H148.0V279.4H162.0V295.8"/>
<path clip-path="url(#cpb)" fill="none" stroke="#FFC8C8" stroke-width="0.7" d="M337.6 159.3H392.6V159.2H413.6V159.2H429.6V159.1H442.6V158.9H454.6V158.8H465.6V158.4H476.1V158.0H486.4V157.4H496.5V156.6H506.5V155.1H516.5V153.1H526.1V151.9H535.8V149.3H545.6V146.1H555.2V142.4H564.7V138.8H574.3V135.2M337.9 159.1H392.9V159.1H413.9V158.9H429.9V158.7H442.9V158.6H454.9V158.2H465.9V157.9H476.4V157.3H486.7V156.5H496.8V155.4H506.8V154.1H516.8V152.7H526.4V150.2H536.1V147.5H545.9V144.9H555.5V141.8H565.0V139.7H574.6V136.3M339.3 159.2H394.3V159.1H415.3V159.1H431.3V159.0H444.3V159.0H456.3V158.8H467.3V158.5H477.8V158.0H488.1V157.4H498.2V156.5H508.2V155.3H518.2V153.5H527.8V152.0H537.5V149.4H547.3V147.0H556.9V144.2H566.4V140.5H576.0V137.4M341.0 159.2H396.0V159.1H417.0V159.2H433.0V159.1H446.0V158.9H458.0V158.6H469.0V158.2H479.5V157.6H489.8V156.8H499.9V155.9H509.9V154.6H519.9V153.1H529.5V151.0H539.2V147.8H549.0V144.2H558.6V142.1H568.1V139.2H577.7V132.8M341.5 159.2H396.5V159.1H417.5V159.0H433.5V158.9H446.5V158.8H458.5V158.5H469.5V158.0H480.0V157.4H490.3V156.4H500.4V155.3H510.4V153.8H520.4V152.2H530.0V149.8H539.7V146.7H549.5V142.6H559.1V138.2H568.6V135.0H578.2V134.5M338.0 159.0H393.0V159.0H414.0V159.0H430.0V159.0H443.0V158.8H455.0V158.6H466.0V158.2H476.5V157.7H486.8V156.9H496.9V155.8H506.9V153.9H516.9V151.8H526.5V150.2H536.2V147.8H546.0V144.3H555.6V140.3H565.1V135.8H574.7V130.5M342.3 159.1H397.3V159.0H418.3V158.9H434.3V158.8H447.3V158.7H459.3V158.4H470.3V157.8H480.8V157.4H491.1V156.5H501.2V155.2H511.2V153.6H521.2V151.8H530.8V149.3H540.5V146.8H550.3V143.7H559.9V141.3H569.4V138.1H579.0V136.3M337.7 159.1H392.7V159.0H413.7V159.0H429.7V159.0H442.7V158.8H454.7V158.5H465.7V158.1H476.2V157.5H486.5V156.7H496.6V155.3H506.6V153.5H516.6V152.4H526.2V150.4H535.9V147.9H545.7V144.2H555.3V140.7H564.8V136.0H574.4V133.0M337.5 159.2H392.5V159.1H413.5V159.1H429.5V159.1H442.5V158.8H454.5V158.7H465.5V158.2H476.0V157.6H486.3V156.7H496.4V156.0H506.4V153.8H516.4V152.2H526.0V150.5H535.7V147.5H545.5V144.6H555.1V141.2H564.6V138.8H574.2V133.3M342.0 159.3H397.0V159.2H418.0V159.2H434.0V159.1H447.0V159.0H459.0V158.8H470.0V158.4H480.5V158.0H490.8V157.4H500.9V156.4H510.9V155.1H520.9V153.8H530.5V151.6H540.2V149.1H550.0V146.5H559.6V143.8H569.1V139.8H578.7V138.9M341.8 159.1H396.8V158.9H417.8V158.8H433.8V158.7H446.8V158.6H458.8V158.4H469.8V158.1H480.3V157.4H490.6V156.5H500.7V155.2H510.7V153.5H520.7V151.4H530.3V149.6H540.0V146.9H549.8V143.2H559.4V140.6H568.9V137.6H578.5V137.9M343.5 159.2H398.5V159.2H419.5V159.1H435.5V159.1H448.5V158.9H460.5V158.8H471.5V158.3H482.0V157.8H492.3V157.0H502.4V155.8H512.4V154.3H522.4V152.9H532.0V151.2H541.7V148.5H551.5V144.7H561.1V141.5H570.6V139.3H580.2V138.3M339.3 159.0H394.3V159.0H415.3V159.0H431.3V158.9H444.3V158.8H456.3V158.5H467.3V158.0H477.8V157.2H488.1V156.1H498.2V154.8H508.2V153.2H518.2V151.3H527.8V148.1H537.5V145.0H547.3V142.5H556.9V139.5H566.4V136.7H576.0V127.3M339.0 159.1H394.0V159.0H415.0V159.0H431.0V158.8H444.0V158.7H456.0V158.4H467.0V158.0H477.5V157.3H487.8V156.4H497.9V155.5H507.9V154.1H517.9V152.4H527.5V150.7H537.2V147.5H547.0V145.2H556.6V141.6H566.1V136.2H575.7V137.1M340.4 159.3H395.4V159.2H416.4V159.2H432.4V159.1H445.4V158.9H457.4V158.7H468.4V158.4H478.9V158.0H489.2V157.3H499.3V156.4H509.3V154.9H519.3V153.0H528.9V150.6H538.6V147.3H548.4V143.2H558.0V139.5H567.5V134.0H577.1V132.7M340.2 159.1H395.2V159.1H416.2V159.1H432.2V158.9H445.2V158.7H457.2V158.6H468.2V158.4H478.7V158.0H489.0V157.4H499.1V156.3H509.1V154.8H519.1V152.7H528.7V150.9H538.4V148.6H548.2V145.8H557.8V142.3H567.3V138.6H576.9V134.4M337.9 159.2H392.9V159.2H413.9V159.1H429.9V158.9H442.9V159.0H454.9V158.8H465.9V158.6H476.4V158.2H486.7V157.6H496.8V157.0H506.8V156.1H516.8V155.1H526.4V153.7H536.1V151.8H545.9V149.1H555.5V145.2H565.0V141.7H574.6V137.6M339.0 159.2H394.0V159.2H415.0V159.2H431.0V159.1H444.0V159.0H456.0V158.7H467.0V158.4H477.5V158.0H487.8V157.5H497.9V156.6H507.9V155.7H517.9V154.3H527.5V152.8H537.2V151.2H547.0V148.6H556.6V146.0H566.1V143.2H575.7V140.6M339.6 159.2H394.6V159.2H415.6V159.1H431.6V159.1H444.6V159.1H456.6V158.9H467.6V158.7H478.1V158.3H488.4V157.6H498.5V156.5H508.5V154.9H518.5V153.6H528.1V151.7H537.8V149.5H547.6V147.2H557.2V143.5H566.7V140.2H576.3V131.5M346.3 158.9H401.3V158.9H422.3V158.9H438.3V158.6H451.3V158.5H463.3V158.1H474.3V157.6H484.8V156.9H495.1V155.9H505.2V154.8H515.2V153.1H525.2V150.8H534.8V148.4H544.5V144.9H554.3V141.8H563.9V137.6H573.4V135.1H583.0V132.0M341.3 159.0H396.3V158.9H417.3V158.8H433.3V158.7H446.3V158.5H458.3V158.2H469.3V157.8H479.8V157.1H490.1V156.2H500.2V154.8H510.2V153.4H520.2V152.0H529.8V149.2H539.5V146.2H549.3V142.8H558.9V138.8H568.4V135.9H578.0V131.4M339.9 159.2H394.9V159.1H415.9V159.1H431.9V159.1H444.9V159.0H456.9V158.7H467.9V158.2H478.4V157.7H488.7V157.0H498.8V156.0H508.8V154.9H518.8V152.9H528.4V150.7H538.1V147.2H547.9V143.6H557.5V139.9H567.0V137.3H576.6V132.1M335.7 159.2H390.7V159.2H411.7V159.1H427.7V159.1H440.7V159.0H452.7V158.9H463.7V158.6H474.2V158.1H484.5V157.5H494.6V156.6H504.6V155.6H514.6V153.9H524.2V152.0H533.9V150.5H543.7V147.7H553.3V144.6H562.8V142.7H572.4V137.7M333.5 159.3H388.5V159.2H409.5V159.1H425.5V159.1H438.5V159.0H450.5V158.8H461.5V158.4H472.0V158.0H482.3V157.5H492.4V156.3H502.4V155.5H512.4V154.0H522.0V151.7H531.7V149.9H541.5V147.1H551.1V143.4H560.6V139.5H570.2V137.5M338.5 159.3H393.5V159.2H414.5V159.2H430.5V159.1H443.5V159.0H455.5V158.8H466.5V158.5H477.0V158.1H487.3V157.8H497.4V157.1H507.4V156.1H517.4V154.8H527.0V153.1H536.7V150.9H546.5V148.8H556.1V145.0H565.6V141.3H575.2V137.7M341.7 159.1H396.7V159.1H417.7V159.0H433.7V158.9H446.7V158.9H458.7V158.6H469.7V158.3H480.2V157.7H490.5V156.7H500.6V155.4H510.6V153.6H520.6V151.8H530.2V149.4H539.9V146.1H549.7V141.7H559.3V137.2H568.8V131.5H578.4V131.1M337.9 159.2H392.9V159.1H413.9V159.1H429.9V158.9H442.9V158.8H454.9V158.7H465.9V158.5H476.4V157.9H486.7V157.0H496.8V156.1H506.8V155.0H516.8V153.2H526.4V151.2H536.1V148.5H545.9V144.6H555.5V141.1H565.0V139.0H574.6V140.2M343.3 159.0H398.3V158.9H419.3V158.9H435.3V158.8H448.3V158.5H460.3V158.3H471.3V158.0H481.8V157.6H492.1V157.0H502.2V156.0H512.2V154.4H522.2V152.8H531.8V150.4H541.5V148.2H551.3V143.9H560.9V140.7H570.4V135.6H580.0V134.1M339.7 159.1H394.7V159.1H415.7V159.1H431.7V159.0H444.7V158.8H456.7V158.6H467.7V158.3H478.2V157.7H488.5V157.0H498.6V155.6H508.6V154.0H518.6V151.3H528.2V149.6H537.9V145.7H547.7V142.6H557.3V140.0H566.8V136.9H576.4V130.6M341.9 159.3H396.9V159.3H417.9V159.2H433.9V159.1H446.9V159.0H458.9V158.8H469.9V158.5H480.4V158.0H490.7V157.4H500.8V156.6H510.8V155.3H520.8V153.8H530.4V151.7H540.1V149.6H549.9V147.0H559.5V144.6H569.0V141.2H578.6V140.5M345.3 159.2H400.3V159.1H421.3V159.2H437.3V159.0H450.3V158.8H462.3V158.5H473.3V158.1H483.8V157.7H494.1V156.8H504.2V155.6H514.2V154.1H524.2V152.1H533.8V148.8H543.5V146.0H553.3V142.9H562.9V138.2H572.4V131.3H582.0V134.6M339.0 159.2H394.0V159.1H415.0V159.1H431.0V159.0H444.0V158.8H456.0V158.6H467.0V158.2H477.5V157.7H487.8V157.2H497.9V156.2H507.9V154.8H517.9V152.6H527.5V150.7H537.2V147.8H547.0V144.0H556.6V140.6H566.1V136.8H575.7V133.5M340.5 159.1H395.5V159.1H416.5V159.0H432.5V158.9H445.5V158.6H457.5V158.3H468.5V157.8H479.0V157.1H489.3V156.0H499.4V154.8H509.4V153.1H519.4V150.8H529.0V148.5H538.7V146.6H548.5V143.0H558.1V138.3H567.6V134.8H577.2V136.4M339.2 159.2H394.2V159.1H415.2V159.1H431.2V159.0H444.2V158.8H456.2V158.4H467.2V158.0H477.7V157.4H488.0V156.5H498.1V155.2H508.1V154.0H518.1V152.5H527.7V150.7H537.4V148.5H547.2V146.5H556.8V142.9H566.3V138.9H575.9V136.5M341.0 159.1H396.0V159.1H417.0V159.0H433.0V158.8H446.0V158.7H458.0V158.5H469.0V158.2H479.5V157.7H489.8V156.9H499.9V155.8H509.9V154.3H519.9V152.7H529.5V150.4H539.2V147.2H549.0V144.2H558.6V140.8H568.1V137.0H577.7V133.8M336.8 159.3H391.8V159.3H412.8V159.2H428.8V159.2H441.8V159.1H453.8V158.9H464.8V158.5H475.3V158.0H485.6V157.4H495.7V156.6H505.7V155.3H515.7V153.4H525.3V151.6H535.0V150.0H544.8V146.7H554.4V143.1H563.9V140.2H573.5V134.7M333.5 159.2H388.5V159.2H409.5V159.1H425.5V159.0H438.5V158.8H450.5V158.7H461.5V158.5H472.0V158.2H482.3V157.8H492.4V157.1H502.4V156.2H512.4V155.2H522.0V154.1H531.7V152.6H541.5V150.0H551.1V147.1H560.6V144.0H570.2V139.2M345.7 159.2H400.7V159.2H421.7V159.1H437.7V159.0H450.7V158.9H462.7V158.7H473.7V158.3H484.2V157.7H494.5V156.7H504.6V155.4H514.6V154.2H524.6V152.9H534.2V151.6H543.9V148.9H553.7V144.9H563.3V141.0H572.8V139.3H582.4V140.1M338.1 159.3H393.1V159.2H414.1V159.2H430.1V159.1H443.1V158.9H455.1V158.7H466.1V158.5H476.6V158.1H486.9V157.4H497.0V156.6H507.0V155.3H517.0V153.5H526.6V151.1H536.3V148.3H546.1V144.8H555.7V141.8H565.2V137.3H574.8V134.9M340.9 159.2H395.9V159.1H416.9V159.0H432.9V158.9H445.9V158.8H457.9V158.5H468.9V158.0H479.4V157.4H489.7V156.3H499.8V155.0H509.8V153.8H519.8V152.0H529.4V150.7H539.1V147.8H548.9V145.3H558.5V141.9H568.0V138.8H577.6V134.1M340.2 159.3H395.2V159.2H416.2V159.2H432.2V159.2H445.2V159.1H457.2V159.0H468.2V158.6H478.7V158.2H489.0V157.4H499.1V156.4H509.1V155.0H519.1V153.6H528.7V151.8H538.4V149.3H548.2V146.3H557.8V143.0H567.3V140.5H576.9V139.4M341.7 159.1H396.7V159.1H417.7V159.0H433.7V159.0H446.7V158.8H458.7V158.6H469.7V158.1H480.2V157.5H490.5V156.7H500.6V156.2H510.6V155.2H520.6V154.1H530.2V152.8H539.9V150.1H549.7V146.4H559.3V143.0H568.8V139.0H578.4V135.3M342.1 159.3H397.1V159.3H418.1V159.3H434.1V159.1H447.1V159.1H459.1V158.8H470.1V158.5H480.6V158.0H490.9V157.2H501.0V156.1H511.0V154.7H521.0V152.8H530.6V150.7H540.3V147.9H550.1V145.2H559.7V143.3H569.2V140.4H578.8V137.5M340.3 159.3H395.3V159.2H416.3V159.2H432.3V159.2H445.3V159.0H457.3V158.9H468.3V158.6H478.8V158.2H489.1V157.7H499.2V157.1H509.2V156.1H519.2V154.8H528.8V153.3H538.5V151.1H548.3V148.1H557.9V145.1H567.4V141.3H577.0V138.7M342.7 159.1H397.7V159.1H418.7V159.1H434.7V158.9H447.7V158.6H459.7V158.5H470.7V158.2H481.2V157.4H491.5V156.7H501.6V155.6H511.6V154.3H521.6V152.5H531.2V149.8H540.9V146.6H550.7V144.1H560.3V140.7H569.8V135.0H579.4V135.4M341.1 159.1H396.1V159.1H417.1V159.1H433.1V159.0H446.1V158.8H458.1V158.7H469.1V158.3H479.6V157.8H489.9V157.2H500.0V156.3H510.0V155.0H520.0V153.2H529.6V151.1H539.3V148.2H549.1V143.7H558.7V139.9H568.2V135.6H577.8V135.7M341.3 159.0H396.3V158.9H417.3V158.9H433.3V158.7H446.3V158.6H458.3V158.4H469.3V157.9H479.8V157.2H490.1V156.3H500.2V155.5H510.2V153.8H520.2V151.9H529.8V149.0H539.5V145.2H549.3V142.5H558.9V139.3H568.4V135.3H578.0V133.2M338.7 159.2H393.7V159.1H414.7V159.0H430.7V159.0H443.7V158.9H455.7V158.7H466.7V158.5H477.2V158.2H487.5V157.6H497.6V156.9H507.6V155.8H517.6V154.4H527.2V152.5H536.9V150.0H546.7V145.7H556.3V142.6H565.8V139.5H575.4V141.6M338.8 159.3H393.8V159.2H414.8V159.1H430.8V159.1H443.8V159.1H455.8V158.9H466.8V158.5H477.3V157.9H487.6V157.4H497.7V156.4H507.7V155.3H517.7V153.5H527.3V151.2H537.0V148.7H546.8V145.7H556.4V142.4H565.9V139.2H575.5V137.2M337.7 159.2H392.7V159.1H413.7V159.2H429.7V159.0H442.7V158.7H454.7V158.4H465.7V158.1H476.2V157.5H486.5V157.1H496.6V156.2H506.6V155.2H516.6V154.0H526.2V152.7H535.9V150.7H545.7V147.3H555.3V143.8H564.8V140.2H574.4V136.7M337.0 159.1H392.0V159.0H413.0V159.0H429.0V159.0H442.0V158.7H454.0V158.4H465.0V158.1H475.5V157.5H485.8V156.4H495.9V155.3H505.9V154.1H515.9V152.4H525.5V150.2H535.2V147.3H545.0V144.8H554.6V140.7H564.1V138.2H573.7V134.8M340.8 159.1H395.8V159.0H416.8V158.8H432.8V158.7H445.8V158.6H457.8V158.4H468.8V158.1H479.3V157.4H489.6V156.6H499.7V155.6H509.7V154.1H519.7V152.0H529.3V149.8H539.0V147.8H548.8V143.2H558.4V139.3H567.9V135.3H577.5V131.4M338.1 159.1H393.1V159.1H414.1V159.0H430.1V158.9H443.1V158.7H455.1V158.4H466.1V158.2H476.6V157.6H486.9V156.7H497.0V155.5H507.0V154.0H517.0V152.1H526.6V149.1H536.3V146.1H546.1V143.9H555.7V140.9H565.2V139.5H574.8V135.3M336.6 159.2H391.6V159.0H412.6V158.8H428.6V158.8H441.6V158.8H453.6V158.7H464.6V158.1H475.1V157.4H485.4V156.9H495.5V155.8H505.5V154.4H515.5V152.5H525.1V150.3H534.8V147.7H544.6V144.9H554.2V142.1H563.7V138.2H573.3V134.9M333.7 159.2H388.7V159.1H409.7V159.2H425.7V159.2H438.7V159.1H450.7V159.1H461.7V158.8H472.2V158.4H482.5V157.8H492.6V156.7H502.6V156.0H512.6V154.5H522.2V152.6H531.9V151.0H541.7V148.1H551.3V145.5H560.8V142.5H570.4V141.4M341.9 158.9H396.9V158.9H417.9V159.0H433.9V159.0H446.9V158.9H458.9V158.6H469.9V158.1H480.4V157.7H490.7V157.0H500.8V155.9H510.8V154.4H520.8V152.4H530.4V150.2H540.1V146.9H549.9V143.8H559.5V140.3H569.0V137.8H578.6V131.6M342.3 159.1H397.3V159.1H418.3V159.1H434.3V158.9H447.3V158.7H459.3V158.4H470.3V158.0H480.8V157.6H491.1V156.8H501.2V155.7H511.2V153.8H521.2V152.2H530.8V149.5H540.5V146.3H550.3V141.9H559.9V138.2H569.4V134.6H579.0V134.1M338.5 159.0H393.5V159.0H414.5V158.9H430.5V158.9H443.5V158.8H455.5V158.5H466.5V157.8H477.0V157.1H487.3V156.5H497.4V155.3H507.4V154.3H517.4V152.6H527.0V150.2H536.7V147.8H546.5V144.9H556.1V141.4H565.6V138.9H575.2V134.8M341.0 159.1H396.0V159.0H417.0V159.0H433.0V158.8H446.0V158.6H458.0V158.2H469.0V157.8H479.5V157.0H489.8V156.1H499.9V154.9H509.9V153.5H519.9V150.7H529.5V148.6H539.2V144.4H549.0V141.6H558.6V139.1H568.1V135.6H577.7V126.4M338.5 159.0H393.5V158.9H414.5V158.7H430.5V158.6H443.5V158.4H455.5V158.2H466.5V157.7H477.0V157.2H487.3V156.1H497.4V155.1H507.4V153.4H517.4V151.6H527.0V149.2H536.7V145.7H546.5V141.8H556.1V138.7H565.6V135.2H575.2V132.8M336.0 159.1H391.0V159.1H412.0V159.0H428.0V159.0H441.0V158.7H453.0V158.7H464.0V158.4H474.5V157.8H484.8V157.4H494.9V156.0H504.9V154.8H514.9V153.1H524.5V151.3H534.2V149.0H544.0V146.0H553.6V143.2H563.1V140.3H572.7V135.8M341.5 158.9H396.5V158.8H417.5V158.8H433.5V158.8H446.5V158.6H458.5V158.3H469.5V157.9H480.0V157.3H490.3V156.6H500.4V155.4H510.4V153.7H520.4V151.4H530.0V149.4H539.7V146.0H549.5V143.3H559.1V138.6H568.6V133.9H578.2V131.6M342.6 159.2H397.6V159.2H418.6V159.2H434.6V159.1H447.6V159.0H459.6V158.8H470.6V158.4H481.1V157.8H491.4V157.1H501.5V156.2H511.5V154.8H521.5V153.2H531.1V151.2H540.8V147.4H550.6V145.1H560.2V141.5H569.7V138.4H579.3V134.8M340.4 159.1H395.4V159.1H416.4V159.1H432.4V159.0H445.4V159.0H457.4V158.7H468.4V158.4H478.9V158.0H489.2V157.1H499.3V156.4H509.3V155.1H519.3V153.3H528.9V151.7H538.6V149.8H548.4V146.0H558.0V143.9H567.5V142.3H577.1V137.0M338.0 159.1H393.0V159.1H414.0V159.1H430.0V159.0H443.0V158.9H455.0V158.8H466.0V158.4H476.5V158.1H486.8V157.3H496.9V156.4H506.9V155.1H516.9V153.5H526.5V151.3H536.2V148.5H546.0V146.4H555.6V143.0H565.1V138.7H574.7V132.3M340.6 159.0H395.6V159.0H416.6V159.0H432.6V158.9H445.6V158.7H457.6V158.5H468.6V158.1H479.1V157.5H489.4V156.9H499.5V156.0H509.5V154.9H519.5V153.8H529.1V151.8H538.8V149.3H548.6V147.1H558.2V142.5H567.7V139.0H577.3V136.2M339.8 159.3H394.8V159.2H415.8V159.1H431.8V159.1H444.8V159.0H456.8V158.8H467.8V158.5H478.3V158.1H488.6V157.4H498.7V156.6H508.7V155.2H518.7V153.4H528.3V151.2H538.0V149.0H547.8V145.5H557.4V143.6H566.9V140.2H576.5V136.4M338.9 159.2H393.9V159.1H414.9V159.1H430.9V159.0H443.9V159.0H455.9V158.9H466.9V158.5H477.4V158.0H487.7V157.2H497.8V156.3H507.8V155.1H517.8V153.2H527.4V150.9H537.1V149.4H546.9V146.1H556.5V143.0H566.0V139.6H575.6V129.5M336.7 159.2H391.7V159.1H412.7V159.1H428.7V159.0H441.7V158.9H453.7V158.7H464.7V158.5H475.2V158.1H485.5V157.3H495.6V156.5H505.6V155.4H515.6V154.5H525.2V152.6H534.9V151.6H544.7V148.4H554.3V145.2H563.8V142.2H573.4V141.3M338.0 159.2H393.0V159.2H414.0V159.1H430.0V158.9H443.0V158.8H455.0V158.7H466.0V158.4H476.5V158.0H486.8V157.3H496.9V156.7H506.9V155.5H516.9V153.9H526.5V152.1H536.2V149.4H546.0V145.9H555.6V143.9H565.1V141.7H574.7V139.8M340.2 159.2H395.2V159.2H416.2V159.1H432.2V159.0H445.2V158.8H457.2V158.6H468.2V158.3H478.7V157.7H489.0V156.6H499.1V155.6H509.1V154.0H519.1V151.5H528.7V148.9H538.4V146.0H548.2V143.2H557.8V139.3H567.3V135.3H576.9V137.8M343.0 159.2H398.0V159.2H419.0V159.2H435.0V159.1H448.0V159.0H460.0V158.7H471.0V158.2H481.5V157.8H491.8V157.0H501.9V156.1H511.9V154.7H521.9V153.1H531.5V151.2H541.2V148.7H551.0V145.4H560.6V142.2H570.1V139.1H579.7V134.8M339.9 159.1H394.9V159.0H415.9V158.9H431.9V158.8H444.9V158.5H456.9V158.4H467.9V158.0H478.4V157.6H488.7V156.9H498.8V156.0H508.8V154.8H518.8V152.9H528.4V150.9H538.1V148.1H547.9V144.7H557.5V139.6H567.0V137.0H576.6V134.9M335.3 159.2H390.3V159.0H411.3V159.1H427.3V159.1H440.3V159.0H452.3V158.9H463.3V158.5H473.8V158.0H484.1V157.6H494.2V156.5H504.2V155.3H514.2V153.9H523.8V152.4H533.5V150.3H543.3V147.1H552.9V143.9H562.4V140.1H572.0V140.4M339.3 159.3H394.3V159.3H415.3V159.2H431.3V159.1H444.3V158.9H456.3V158.7H467.3V158.2H477.8V157.8H488.1V157.1H498.2V156.2H508.2V155.2H518.2V153.9H527.8V151.8H537.5V149.9H547.3V147.6H556.9V145.0H566.4V142.9H576.0V140.9M334.5 159.2H389.5V159.1H410.5V159.1H426.5V159.0H439.5V158.9H451.5V158.7H462.5V158.5H473.0V158.1H483.3V157.4H493.4V156.5H503.4V155.4H513.4V153.8H523.0V151.6H532.7V149.3H542.5V147.3H552.1V142.9H561.6V139.0H571.2V138.7M340.1 159.1H395.1V159.0H416.1V159.0H432.1V158.9H445.1V158.8H457.1V158.6H468.1V158.1H478.6V157.4H488.9V156.4H499.0V155.2H509.0V153.6H519.0V151.4H528.6V149.5H538.3V146.1H548.1V143.2H557.7V140.6H567.2V137.1H576.8V136.6M341.9 159.2H396.9V159.1H417.9V159.0H433.9V158.9H446.9V158.8H458.9V158.6H469.9V158.3H480.4V157.8H490.7V157.2H500.8V156.2H510.8V155.2H520.8V153.4H530.4V151.4H540.1V149.6H549.9V145.8H559.5V142.5H569.0V137.9H578.6V136.7M336.1 159.2H391.1V159.2H412.1V159.1H428.1V159.0H441.1V158.9H453.1V158.8H464.1V158.4H474.6V158.1H484.9V157.4H495.0V156.5H505.0V155.4H515.0V153.8H524.6V152.2H534.3V149.3H544.1V146.0H553.7V142.1H563.2V137.7H572.8V134.6M336.9 159.1H391.9V159.0H412.9V158.9H428.9V158.7H441.9V158.7H453.9V158.4H464.9V158.0H475.4V157.7H485.7V157.0H495.8V155.9H505.8V154.3H515.8V152.4H525.4V150.2H535.1V149.1H544.9V145.1H554.5V143.0H564.0V137.9H573.6V132.2M338.5 159.2H393.5V159.1H414.5V159.1H430.5V159.0H443.5V158.9H455.5V158.7H466.5V158.4H477.0V157.9H487.3V157.4H497.4V156.6H507.4V155.3H517.4V153.8H527.0V151.7H536.7V149.2H546.5V145.7H556.1V142.3H565.6V139.3H575.2V138.3M340.6 159.3H395.6V159.2H416.6V159.2H432.6V159.2H445.6V159.0H457.6V158.8H468.6V158.5H479.1V158.1H489.4V157.5H499.5V156.6H509.5V155.2H519.5V153.7H529.1V151.5H538.8V149.1H548.6V145.6H558.2V143.2H567.7V140.6H577.3V139.2M340.1 159.1H395.1V159.0H416.1V159.0H432.1V158.9H445.1V158.8H457.1V158.3H468.1V158.0H478.6V157.4H488.9V156.7H499.0V155.6H509.0V154.3H519.0V152.5H528.6V150.1H538.3V147.2H548.1V143.6H557.7V140.2H567.2V136.5H576.8V130.5M341.8 159.2H396.8V159.1H417.8V159.1H433.8V159.0H446.8V158.8H458.8V158.6H469.8V158.3H480.3V157.9H490.6V157.2H500.7V156.5H510.7V155.3H520.7V153.3H530.3V151.0H540.0V148.0H549.8V145.4H559.4V141.8H568.9V136.8H578.5V136.9M339.2 159.2H394.2V159.1H415.2V159.1H431.2V159.1H444.2V158.9H456.2V158.8H467.2V158.2H477.7V157.7H488.0V156.9H498.1V155.9H508.1V154.3H518.1V152.6H527.7V150.6H537.4V147.0H547.2V144.6H556.8V141.1H566.3V140.1H575.9V137.5M343.6 159.1H398.6V159.1H419.6V159.1H435.6V159.0H448.6V158.8H460.6V158.4H471.6V157.9H482.1V157.3H492.4V156.3H502.5V155.6H512.5V153.5H522.5V151.7H532.1V149.7H541.8V146.1H551.6V144.2H561.2V141.3H570.7V136.5H580.3V136.2M341.2 159.1H396.2V159.1H417.2V159.0H433.2V158.9H446.2V158.7H458.2V158.6H469.2V158.2H479.7V157.7H490.0V157.2H500.1V156.2H510.1V155.1H520.1V153.5H529.7V152.2H539.4V149.8H549.2V147.1H558.8V144.7H568.3V142.2H577.9V135.8M336.8 159.3H391.8V159.2H412.8V159.1H428.8V159.1H441.8V158.9H453.8V158.7H464.8V158.3H475.3V157.7H485.6V157.1H495.7V156.2H505.7V154.8H515.7V153.3H525.3V151.1H535.0V148.1H544.8V145.8H554.4V143.5H563.9V140.0H573.5V134.4M342.4 159.2H397.4V159.2H418.4V159.2H434.4V159.1H447.4V159.0H459.4V158.8H470.4V158.4H480.9V158.0H491.2V157.2H501.3V156.2H511.3V154.7H521.3V152.7H530.9V150.5H540.6V147.6H550.4V144.1H560.0V139.2H569.5V135.8H579.1V137.5M339.6 159.3H394.6V159.2H415.6V159.2H431.6V159.1H444.6V158.9H456.6V158.8H467.6V158.3H478.1V157.7H488.4V156.9H498.5V155.8H508.5V154.2H518.5V152.2H528.1V149.2H537.8V145.9H547.6V142.6H557.2V139.2H566.7V137.6H576.3V134.5"/>
<path clip-path="url(#cpd)" fill="none" stroke="#FFC8C8" stroke-width="0.7" d="M346.4 359.7H426.4V359.6H446.4V359.3H461.4V359.1H474.4V358.8H486.4V358.5H497.4V357.7H507.4V357.0H517.4V356.1H527.4V354.8H537.4V354.0H547.4V353.5H556.5V352.0M341.2 359.9H421.2V359.8H441.2V359.7H456.2V359.6H469.2V359.3H481.2V358.9H492.2V358.5H502.2V358.0H512.2V357.3H522.2V356.0H532.2V354.9H542.2V353.9H551.3V354.5M337.6 359.9H417.6V359.8H437.6V359.7H452.6V359.5H465.6V359.3H477.6V359.1H488.6V358.7H498.6V358.1H508.6V357.3H518.6V356.3H528.6V355.8H538.6V355.1H547.7V355.6M341.5 359.8H421.5V359.7H441.5V359.7H456.5V359.4H469.5V359.0H481.5V358.5H492.5V358.3H502.5V357.8H512.5V357.0H522.5V356.5H532.5V355.8H542.5V354.2H551.6V354.1M344.6 360.0H424.6V359.9H444.6V359.7H459.6V359.5H472.6V359.3H484.6V359.0H495.6V358.2H505.6V357.8H515.6V357.3H525.6V356.3H535.6V355.6H545.6V355.0H554.7V355.2M346.9 360.0H426.9V360.0H446.9V359.8H461.9V359.7H474.9V359.6H486.9V359.3H497.9V358.8H507.9V358.1H517.9V357.7H527.9V356.8H537.9V356.6H547.9V355.6H557.0V353.7M342.5 359.8H422.5V359.7H442.5V359.5H457.5V359.3H470.5V358.9H482.5V358.7H493.5V358.2H503.5V357.6H513.5V357.0H523.5V356.1H533.5V355.6H543.5V355.5H552.6V354.0M344.0 359.7H424.0V359.6H444.0V359.5H459.0V359.3H472.0V359.3H484.0V359.2H495.0V358.7H505.0V358.3H515.0V357.7H525.0V357.0H535.0V356.0H545.0V355.4H554.1V355.0M345.7 360.0H425.7V359.9H445.7V359.8H460.7V359.7H473.7V359.6H485.7V359.4H496.7V359.0H506.7V358.3H516.7V357.8H526.7V356.8H536.7V356.2H546.7V355.8H555.8V356.5M340.4 359.7H420.4V359.7H440.4V359.6H455.4V359.5H468.4V359.2H480.4V358.9H491.4V358.6H501.4V358.3H511.4V357.6H521.4V357.4H531.4V356.9H541.4V356.2H550.5V352.3M341.0 359.8H421.0V359.6H441.0V359.6H456.0V359.5H469.0V359.3H481.0V359.1H492.0V358.7H502.0V358.2H512.0V358.1H522.0V357.7H532.0V356.9H542.0V356.5H551.1V354.5M344.3 359.9H424.3V359.7H444.3V359.5H459.3V359.4H472.3V359.3H484.3V359.1H495.3V358.6H505.3V357.8H515.3V357.5H525.3V356.7H535.3V356.0H545.3V354.8H554.4V353.8M344.5 359.9H424.5V359.8H444.5V359.6H459.5V359.3H472.5V359.0H484.5V358.6H495.5V357.8H505.5V357.3H515.5V356.5H525.5V355.2H535.5V354.7H545.5V354.2H554.6V353.7M347.1 359.8H427.1V359.5H447.1V359.3H462.1V358.9H475.1V358.6H487.1V357.9H498.1V357.2H508.1V356.5H518.1V355.7H528.1V354.8H538.1V353.9H548.1V352.0H557.2V351.3M341.5 359.9H421.5V359.8H441.5V359.6H456.5V359.4H469.5V359.1H481.5V358.8H492.5V358.4H502.5V357.7H512.5V357.1H522.5V356.2H532.5V355.5H542.5V354.2H551.6V354.9M341.6 359.9H421.6V359.7H441.6V359.7H456.6V359.4H469.6V359.3H481.6V359.1H492.6V358.5H502.6V358.0H512.6V357.1H522.6V356.7H532.6V356.4H542.6V355.7H551.7V355.6M341.7 360.0H421.7V359.9H441.7V359.8H456.7V359.7H469.7V359.5H481.7V359.3H492.7V358.8H502.7V358.2H512.7V357.8H522.7V357.2H532.7V356.6H542.7V356.3H551.8V353.4M339.4 359.9H419.4V359.9H439.4V359.9H454.4V359.7H467.4V359.5H479.4V359.3H490.4V359.0H500.4V358.5H510.4V357.9H520.4V357.5H530.4V357.0H540.4V356.5H549.5V355.2M341.1 359.8H421.1V359.8H441.1V359.7H456.1V359.5H469.1V359.2H481.1V359.2H492.1V358.8H502.1V358.3H512.1V357.4H522.1V356.1H532.1V354.7H542.1V353.5H551.2V355.2M345.3 359.7H425.3V359.5H445.3V359.4H460.3V359.3H473.3V359.0H485.3V358.7H496.3V358.0H506.3V357.0H516.3V356.1H526.3V355.0H536.3V353.9H546.3V353.4H555.4V352.0M343.3 359.7H423.3V359.6H443.3V359.4H458.3V359.3H471.3V359.0H483.3V358.5H494.3V358.0H504.3V357.1H514.3V356.0H524.3V354.7H534.3V353.2H544.3V352.2H553.4V354.5M341.6 359.9H421.6V359.8H441.6V359.6H456.6V359.4H469.6V359.2H481.6V358.8H492.6V358.1H502.6V357.2H512.6V356.4H522.6V355.3H532.6V353.5H542.6V353.3H551.7V354.0M345.8 359.8H425.8V359.6H445.8V359.4H460.8V359.3H473.8V359.0H485.8V358.7H496.8V358.0H506.8V357.4H516.8V356.4H526.8V355.9H536.8V355.4H546.8V355.0H555.9V354.6M348.3 359.8H428.3V359.4H448.3V359.3H463.3V359.0H476.3V359.0H488.3V358.5H499.3V357.9H509.3V357.3H519.3V356.3H529.3V355.5H539.3V354.8H549.3V354.0H558.4V351.0M338.1 359.8H418.1V359.7H438.1V359.4H453.1V359.2H466.1V358.9H478.1V358.8H489.1V358.4H499.1V357.8H509.1V357.2H519.1V356.4H529.1V355.3H539.1V355.2H548.2V354.6M347.7 360.0H427.7V359.9H447.7V359.8H462.7V359.8H475.7V359.6H487.7V359.3H498.7V358.7H508.7V358.5H518.7V357.6H528.7V356.8H538.7V356.3H548.7V355.6H557.8V355.0M344.7 359.9H424.7V359.9H444.7V359.8H459.7V359.7H472.7V359.4H484.7V359.2H495.7V358.8H505.7V358.0H515.7V357.3H525.7V357.1H535.7V356.2H545.7V355.3H554.8V353.2M341.7 359.9H421.7V359.7H441.7V359.6H456.7V359.3H469.7V359.0H481.7V358.7H492.7V358.1H502.7V357.3H512.7V356.9H522.7V355.8H532.7V355.1H542.7V353.5H551.8V355.1M342.9 360.0H422.9V359.9H442.9V359.8H457.9V359.6H470.9V359.3H482.9V359.2H493.9V358.8H503.9V358.6H513.9V358.1H523.9V357.6H533.9V357.2H543.9V356.4H553.0V355.8M344.9 359.8H424.9V359.5H444.9V359.5H459.9V359.2H472.9V359.1H484.9V358.8H495.9V358.1H505.9V357.2H515.9V356.3H525.9V355.1H535.9V354.4H545.9V353.4H555.0V354.5M344.4 359.8H424.4V359.7H444.4V359.6H459.4V359.3H472.4V359.2H484.4V358.8H495.4V358.2H505.4V357.6H515.4V356.6H525.4V356.3H535.4V356.2H545.4V354.8H554.5V355.7M344.8 359.7H424.8V359.6H444.8V359.4H459.8V359.2H472.8V358.6H484.8V358.2H495.8V357.4H505.8V356.5H515.8V355.9H525.8V354.5H535.8V354.1H545.8V352.5H554.9V350.5M340.9 359.5H420.9V359.3H440.9V359.0H455.9V358.7H468.9V358.4H480.9V357.9H491.9V357.3H501.9V356.5H511.9V356.0H521.9V354.9H531.9V353.2H541.9V351.8H551.0V352.9M339.5 360.0H419.5V359.8H439.5V359.8H454.5V359.6H467.5V359.4H479.5V359.2H490.5V358.9H500.5V358.3H510.5V357.5H520.5V356.9H530.5V356.2H540.5V354.9H549.6V353.2M343.5 359.9H423.5V359.7H443.5V359.6H458.5V359.5H471.5V359.2H483.5V359.0H494.5V358.5H504.5V358.0H514.5V357.3H524.5V356.4H534.5V355.9H544.5V354.8H553.6V354.9M339.3 359.9H419.3V359.8H439.3V359.7H454.3V359.6H467.3V359.5H479.3V359.3H490.3V358.8H500.3V358.3H510.3V357.8H520.3V357.3H530.3V356.6H540.3V355.8H549.4V355.6M341.7 359.9H421.7V359.7H441.7V359.6H456.7V359.4H469.7V359.1H481.7V358.8H492.7V358.4H502.7V357.9H512.7V356.9H522.7V355.9H532.7V355.7H542.7V355.4H551.8V352.5M342.4 359.9H422.4V359.8H442.4V359.6H457.4V359.4H470.4V359.1H482.4V358.7H493.4V358.2H503.4V357.2H513.4V356.6H523.4V356.3H533.4V355.7H543.4V355.5H552.5V352.8M344.6 359.8H424.6V359.7H444.6V359.5H459.6V359.3H472.6V359.0H484.6V358.8H495.6V358.4H505.6V357.9H515.6V357.4H525.6V356.2H535.6V355.8H545.6V355.3H554.7V354.0M345.1 359.7H425.1V359.5H445.1V359.3H460.1V359.1H473.1V358.6H485.1V358.7H496.1V358.4H506.1V357.8H516.1V357.5H526.1V357.1H536.1V356.4H546.1V355.6H555.2V351.3M347.0 359.9H427.0V359.8H447.0V359.7H462.0V359.5H475.0V359.0H487.0V358.7H498.0V358.3H508.0V357.7H518.0V357.0H528.0V356.1H538.0V355.9H548.0V355.6H557.1V356.5M344.7 359.8H424.7V359.6H444.7V359.5H459.7V359.3H472.7V359.1H484.7V358.7H495.7V358.1H505.7V357.4H515.7V357.2H525.7V356.5H535.7V355.4H545.7V354.9H554.8V354.2M344.5 359.9H424.5V359.8H444.5V359.7H459.5V359.6H472.5V359.4H484.5V359.2H495.5V358.6H505.5V358.4H515.5V357.7H525.5V356.7H535.5V355.9H545.5V355.1H554.6V354.0M341.9 359.7H421.9V359.5H441.9V359.3H456.9V359.2H469.9V358.9H481.9V358.9H492.9V358.5H502.9V357.6H512.9V357.2H522.9V356.4H532.9V355.4H542.9V355.4H552.0V354.1M345.7 359.8H425.7V359.7H445.7V359.6H460.7V359.4H473.7V359.1H485.7V358.7H496.7V358.0H506.7V357.5H516.7V357.1H526.7V356.4H536.7V355.0H546.7V354.4H555.8V354.2M340.1 360.0H420.1V359.9H440.1V359.9H455.1V359.8H468.1V359.6H480.1V359.2H491.1V358.9H501.1V358.5H511.1V357.6H521.1V356.7H531.1V356.3H541.1V355.4H550.2V355.7M341.0 359.6H421.0V359.4H441.0V359.4H456.0V359.2H469.0V359.0H481.0V358.4H492.0V358.1H502.0V357.6H512.0V356.9H522.0V356.0H532.0V355.2H542.0V354.2H551.1V352.5M349.5 360.0H429.5V359.8H449.5V359.7H464.5V359.4H477.5V359.2H489.5V358.9H500.5V358.3H510.5V358.0H520.5V357.8H530.5V356.5H540.5V356.1H550.5V356.1H559.6V355.3M343.3 359.8H423.3V359.6H443.3V359.5H458.3V359.3H471.3V359.0H483.3V358.5H494.3V358.1H504.3V357.8H514.3V357.2H524.3V356.2H534.3V354.8H544.3V352.8H553.4V353.5M340.3 359.9H420.3V359.8H440.3V359.6H455.3V359.4H468.3V359.2H480.3V359.0H491.3V358.6H501.3V358.1H511.3V357.3H521.3V355.9H531.3V354.8H541.3V354.3H550.4V354.0M337.7 359.9H417.7V359.8H437.7V359.6H452.7V359.5H465.7V359.4H477.7V359.1H488.7V358.6H498.7V357.9H508.7V356.9H518.7V356.3H528.7V355.7H538.7V354.0H547.8V356.5M345.9 359.8H425.9V359.7H445.9V359.5H460.9V359.3H473.9V359.0H485.9V358.8H496.9V358.3H506.9V357.5H516.9V357.3H526.9V356.9H536.9V355.9H546.9V355.2H556.0V355.9M351.6 359.9H431.6V359.8H451.6V359.6H466.6V359.4H479.6V359.2H491.6V358.5H502.6V358.1H512.6V357.2H522.6V356.6H532.6V356.3H542.6V355.6H552.6V354.7H561.7V355.0M346.2 359.9H426.2V359.8H446.2V359.5H461.2V359.5H474.2V358.9H486.2V358.5H497.2V357.9H507.2V357.1H517.2V355.5H527.2V355.1H537.2V354.8H547.2V354.6H556.3V350.1M346.1 359.9H426.1V359.7H446.1V359.6H461.1V359.4H474.1V359.0H486.1V358.6H497.1V357.9H507.1V357.1H517.1V356.3H527.1V355.2H537.1V354.7H547.1V353.5H556.2V354.5M338.9 359.7H418.9V359.7H438.9V359.5H453.9V359.3H466.9V359.0H478.9V358.6H489.9V357.8H499.9V357.1H509.9V356.0H519.9V355.9H529.9V355.0H539.9V354.6H549.0V356.0M346.1 359.8H426.1V359.7H446.1V359.7H461.1V359.5H474.1V359.3H486.1V358.9H497.1V358.5H507.1V358.2H517.1V357.6H527.1V356.7H537.1V355.9H547.1V355.7H556.2V353.3M343.2 359.9H423.2V359.7H443.2V359.7H458.2V359.6H471.2V359.3H483.2V359.0H494.2V358.6H504.2V358.0H514.2V357.8H524.2V357.6H534.2V356.4H544.2V356.0H553.3V355.7M347.7 359.8H427.7V359.6H447.7V359.2H462.7V359.1H475.7V358.9H487.7V358.6H498.7V358.3H508.7V357.5H518.7V357.2H528.7V356.3H538.7V355.7H548.7V354.8H557.8V352.6M340.8 359.7H420.8V359.7H440.8V359.6H455.8V359.6H468.8V359.4H480.8V359.2H491.8V358.7H501.8V358.4H511.8V358.0H521.8V357.1H531.8V356.2H541.8V355.3H550.9V355.1M343.3 359.8H423.3V359.7H443.3V359.5H458.3V359.3H471.3V359.2H483.3V358.9H494.3V358.6H504.3V357.7H514.3V357.3H524.3V356.2H534.3V355.1H544.3V353.5H553.4V352.4M343.8 359.8H423.8V359.7H443.8V359.6H458.8V359.4H471.8V359.0H483.8V358.7H494.8V357.9H504.8V357.2H514.8V356.8H524.8V355.3H534.8V355.1H544.8V354.1H553.9V352.0M343.5 359.8H423.5V359.6H443.5V359.5H458.5V359.3H471.5V359.1H483.5V358.5H494.5V358.2H504.5V358.0H514.5V357.4H524.5V356.6H534.5V356.5H544.5V355.9H553.6V354.5M344.7 359.9H424.7V359.8H444.7V359.7H459.7V359.4H472.7V359.3H484.7V359.1H495.7V358.6H505.7V358.2H515.7V358.0H525.7V357.3H535.7V356.7H545.7V356.1H554.8V354.0M344.3 359.9H424.3V359.9H444.3V359.7H459.3V359.6H472.3V359.6H484.3V359.4H495.3V359.1H505.3V358.7H515.3V358.3H525.3V357.6H535.3V357.0H545.3V356.7H554.4V355.7M341.5 359.9H421.5V359.8H441.5V359.7H456.5V359.5H469.5V359.3H481.5V359.1H492.5V358.7H502.5V358.4H512.5V357.8H522.5V357.0H532.5V356.2H542.5V355.1H551.6V355.2M336.6 360.0H416.6V359.9H436.6V359.9H451.6V359.8H464.6V359.5H476.6V359.3H487.6V359.0H497.6V358.6H507.6V357.8H517.6V357.0H527.6V356.4H537.6V356.1H546.7V356.5M343.3 359.9H423.3V359.8H443.3V359.8H458.3V359.5H471.3V359.3H483.3V358.8H494.3V358.3H504.3V357.6H514.3V356.9H524.3V355.9H534.3V355.4H544.3V354.9H553.4V355.1M339.1 360.0H419.1V359.9H439.1V359.8H454.1V359.7H467.1V359.5H479.1V359.4H490.1V359.1H500.1V358.6H510.1V358.1H520.1V357.4H530.1V356.5H540.1V355.4H549.2V354.4M346.1 359.9H426.1V360.0H446.1V359.8H461.1V359.6H474.1V359.4H486.1V359.2H497.1V358.6H507.1V358.2H517.1V357.6H527.1V357.3H537.1V356.6H547.1V355.8H556.2V355.3M345.8 359.8H425.8V359.7H445.8V359.5H460.8V359.2H473.8V359.0H485.8V358.6H496.8V358.3H506.8V357.7H516.8V356.8H526.8V356.3H536.8V355.3H546.8V354.6H555.9V354.9M345.0 359.8H425.0V359.7H445.0V359.6H460.0V359.5H473.0V359.0H485.0V358.7H496.0V358.1H506.0V357.6H516.0V356.8H526.0V355.1H536.0V353.6H546.0V353.2H555.1V353.2M340.6 359.9H420.6V359.8H440.6V359.7H455.6V359.5H468.6V359.3H480.6V359.1H491.6V358.7H501.6V358.1H511.6V357.6H521.6V356.7H531.6V356.3H541.6V356.2H550.7V354.1M347.2 359.9H427.2V359.8H447.2V359.7H462.2V359.5H475.2V359.2H487.2V358.7H498.2V358.1H508.2V357.3H518.2V356.6H528.2V356.1H538.2V355.4H548.2V354.7H557.3V356.1M338.1 359.9H418.1V359.8H438.1V359.7H453.1V359.4H466.1V359.3H478.1V359.1H489.1V358.9H499.1V358.3H509.1V357.7H519.1V357.0H529.1V356.1H539.1V354.6H548.2V353.4M348.4 359.8H428.4V359.7H448.4V359.5H463.4V359.3H476.4V359.0H488.4V358.6H499.4V357.7H509.4V357.4H519.4V356.8H529.4V356.1H539.4V355.8H549.4V355.3H558.5V355.4M345.3 359.8H425.3V359.7H445.3V359.6H460.3V359.5H473.3V359.3H485.3V359.1H496.3V358.6H506.3V357.6H516.3V356.9H526.3V355.4H536.3V354.4H546.3V354.3H555.4V355.0M344.1 359.9H424.1V359.8H444.1V359.6H459.1V359.5H472.1V359.2H484.1V358.9H495.1V358.4H505.1V357.5H515.1V357.0H525.1V355.7H535.1V355.2H545.1V354.2H554.2V353.6M342.2 359.9H422.2V359.8H442.2V359.7H457.2V359.5H470.2V359.3H482.2V359.1H493.2V358.5H503.2V357.9H513.2V357.3H523.2V356.3H533.2V356.1H543.2V355.5H552.3V354.9M340.9 359.7H420.9V359.7H440.9V359.6H455.9V359.2H468.9V358.9H480.9V358.4H491.9V358.0H501.9V357.2H511.9V356.7H521.9V355.1H531.9V354.8H541.9V354.1H551.0V355.9M346.9 359.9H426.9V359.8H446.9V359.7H461.9V359.5H474.9V359.4H486.9V358.8H497.9V358.0H507.9V357.3H517.9V356.5H527.9V355.3H537.9V354.4H547.9V353.6H557.0V351.4M339.9 359.6H419.9V359.4H439.9V359.4H454.9V359.4H467.9V359.3H479.9V359.2H490.9V358.7H500.9V358.3H510.9V357.6H520.9V356.6H530.9V355.8H540.9V354.2H550.0V353.4M345.7 359.9H425.7V359.8H445.7V359.7H460.7V359.5H473.7V359.4H485.7V358.8H496.7V358.3H506.7V357.8H516.7V357.3H526.7V356.6H536.7V356.0H546.7V355.5H555.8V354.7M334.7 359.9H414.7V359.6H434.7V359.6H449.7V359.5H462.7V359.5H474.7V359.2H485.7V358.9H495.7V358.6H505.7V358.0H515.7V357.6H525.7V356.5H535.7V356.5H544.8V355.7M344.4 359.8H424.4V359.7H444.4V359.6H459.4V359.4H472.4V359.1H484.4V358.9H495.4V358.0H505.4V357.3H515.4V356.7H525.4V356.0H535.4V355.4H545.4V354.4H554.5V352.1M346.0 360.0H426.0V359.9H446.0V359.8H461.0V359.7H474.0V359.5H486.0V359.1H497.0V358.8H507.0V358.1H517.0V357.3H527.0V356.9H537.0V356.4H547.0V355.8H556.1V355.9M345.9 359.8H425.9V359.6H445.9V359.5H460.9V359.4H473.9V359.2H485.9V359.0H496.9V358.4H506.9V357.8H516.9V357.2H526.9V356.1H536.9V355.5H546.9V355.0H556.0V354.1M345.9 359.8H425.9V359.7H445.9V359.6H460.9V359.5H473.9V359.3H485.9V359.0H496.9V358.2H506.9V357.3H516.9V356.3H526.9V354.8H536.9V353.7H546.9V353.1H556.0V354.6M343.9 359.8H423.9V359.6H443.9V359.5H458.9V359.2H471.9V358.9H483.9V358.7H494.9V358.3H504.9V357.3H514.9V356.5H524.9V356.1H534.9V355.3H544.9V354.4H554.0V354.6M348.1 360.0H428.1V359.9H448.1V359.9H463.1V359.7H476.1V359.4H488.1V359.3H499.1V359.0H509.1V358.5H519.1V357.9H529.1V357.6H539.1V356.9H549.1V356.6H558.2V354.5M341.4 359.9H421.4V359.8H441.4V359.7H456.4V359.5H469.4V359.5H481.4V359.2H492.4V358.9H502.4V358.3H512.4V357.8H522.4V357.1H532.4V355.8H542.4V354.6H551.5V354.6M343.5 359.8H423.5V359.7H443.5V359.6H458.5V359.4H471.5V359.2H483.5V358.9H494.5V358.2H504.5V357.1H514.5V356.7H524.5V356.3H534.5V355.6H544.5V354.0H553.6V354.0M341.6 359.8H421.6V359.6H441.6V359.3H456.6V358.9H469.6V358.7H481.6V358.7H492.6V358.2H502.6V357.6H512.6V357.2H522.6V356.9H532.6V356.1H542.6V355.3H551.7V353.4M340.9 359.9H420.9V359.8H440.9V359.7H455.9V359.5H468.9V359.2H480.9V359.0H491.9V358.6H501.9V358.3H511.9V357.6H521.9V356.3H531.9V355.0H541.9V354.2H551.0V354.6M335.9 359.6H415.9V359.3H435.9V359.1H450.9V358.9H463.9V358.6H475.9V358.4H486.9V357.9H496.9V356.9H506.9V355.9H516.9V355.4H526.9V353.8H536.9V352.5H546.0V354.0M348.4 359.9H428.4V359.8H448.4V359.5H463.4V359.3H476.4V358.8H488.4V358.5H499.4V358.0H509.4V357.1H519.4V356.2H529.4V355.4H539.4V354.0H549.4V353.2H558.5V354.5M341.1 359.9H421.1V359.8H441.1V359.6H456.1V359.4H469.1V359.2H481.1V359.0H492.1V358.6H502.1V358.1H512.1V357.7H522.1V356.9H532.1V356.5H542.1V356.3H551.2V355.9M341.1 359.7H421.1V359.5H441.1V359.6H456.1V359.5H469.1V359.4H481.1V358.8H492.1V358.6H502.1V357.9H512.1V356.9H522.1V356.4H532.1V355.9H542.1V354.5H551.2V353.2M338.1 359.7H418.1V359.5H438.1V359.3H453.1V359.2H466.1V358.9H478.1V358.4H489.1V357.8H499.1V357.6H509.1V356.9H519.1V356.2H529.1V355.5H539.1V353.6H548.2V353.9M342.9 359.8H422.9V359.5H442.9V359.3H457.9V359.0H470.9V359.1H482.9V358.8H493.9V358.4H503.9V357.8H513.9V357.1H523.9V355.9H533.9V355.4H543.9V354.8H553.0V353.9"/>
<path clip-path="url(#cpa)" d="M80.0 150.9H117.2V157.3H140.7V150.9H159.5V139.2H174.4V122.3H188.1V115.6H200.2V122.3H211.6V130.8H222.3V132.8H232.5V127.4H242.3V113.3H251.7V88.4H261.2V58.2H270.5V31.7H279.7V16.3H288.4V12.3H296.5V17.1H305.5V26.5H313.9V35.1H322.6V40.5H331.5V41.2H340.5V41.2H349.5V41.2" fill="none" stroke="#FF0000" stroke-width="1.4"/>
<path clip-path="url(#cpb)" d="M340.0 159.1H395.0V159.1H416.0V159.0H432.0V158.9H445.0V158.8H457.0V158.6H468.0V158.3H478.5V158.0H488.8V157.5H498.9V156.6H508.9V155.6H518.9V154.1H528.5V152.4H538.2V150.3H548.0V147.3H557.6V144.2H567.1V140.3H576.7V135.1" fill="none" stroke="#FF0000" stroke-width="1.4"/>
<path clip-path="url(#cpc)" d="M2.0 351.7H62.8V358.7H86.4V354.3H105.0V340.3H120.7V325.4H134.6V316.8H146.8V313.1H157.4V313.8H168.7V316.8H179.3V322.3H189.5V328.9H199.3V334.2H208.5V337.7H218.1V340.1H227.7V341.1H236.7V341.3H245.5V340.9H254.2V340.5H262.6V339.9H271.5V338.9H279.9V337.5H288.6V334.8H297.3V331.0H306.0V325.7H314.8V317.3H323.5V301.0H332.1V271.3H340.8V240.0H349.5V240.0" fill="none" stroke="#FF0000" stroke-width="1.4"/>
<path clip-path="url(#cpd)" d="M340.0 359.6H420.0V359.5H440.0V359.3H455.0V359.1H468.0V358.9H480.0V358.6H491.0V358.2H501.0V357.8H511.0V357.3H521.0V356.8H531.0V356.3H541.0V355.8H550.1V355.4" fill="none" stroke="#FF0000" stroke-width="1.4"/>
<path clip-path="url(#cpe)" d="M250.8 554.5H288.0V560.9H311.5V554.5H330.4V542.8H345.3V525.8H359.0V519.1H371.1V525.8H382.5V534.4H393.2V536.4H403.4V530.9H413.2V516.8H422.6V491.9H432.1V461.6H441.4V435.1H450.7V419.7H459.4V415.7H467.5V420.5H476.5V429.9H484.9V438.5H493.6V443.9H502.5V444.6H511.5V444.6H520.5V444.6" fill="none" stroke="#FF0000" stroke-width="1.4"/>
<path clip-path="url(#cpe)" d="M174.3 555.2H235.2V562.2H258.8V557.8H277.4V543.8H293.1V528.9H307.0V520.3H319.2V516.6H329.9V517.3H341.2V520.3H351.8V525.8H362.0V532.4H371.8V537.7H381.0V541.2H390.6V543.6H400.2V544.6H409.2V544.8H418.0V544.4H426.7V544.0H435.1V543.4H444.0V542.4H452.5V541.0H461.2V538.3H469.9V534.5H478.6V529.2H487.4V520.8H496.1V504.4H504.7V474.7H513.4V443.4H522.1V443.4" fill="none" stroke="#00C800" stroke-width="1.4"/>
<path clip-path="url(#cpe)" d="M166.2 562.8H246.3V562.7H266.3V562.5H281.3V562.3H294.3V562.1H306.3V561.8H317.3V561.4H327.4V561.0H337.4V560.5H347.4V560.0H357.4V559.5H367.4V559.0H376.5V558.6" fill="none" stroke="#0080FF" stroke-width="1.4"/>
<path clip-path="url(#cpe)" d="M164.7 563.0H219.8V562.9H240.8V562.9H256.8V562.8H269.8V562.6H281.8V562.4H292.8V562.2H303.3V561.9H313.6V561.4H323.7V560.5H333.8V559.5H343.8V558.0H353.4V556.3H363.1V554.2H372.9V551.2H382.5V548.1H392.0V544.2H401.6V539.0" fill="none" stroke="#C000FF" stroke-width="1.4"/>
<g font-family="'Liberation Sans',sans-serif" fill="#111" stroke="#111" stroke-width="0.15">
<rect x="34.1" y="3.5" width="304.40" height="156.30" fill="none" stroke="#111" stroke-width="1.0"/>
<text transform="translate(29.3 162.6) scale(0.86 1)" font-size="8.3" letter-spacing="0.55" text-anchor="end">0</text>
<text transform="translate(29.3 123.5) scale(0.86 1)" font-size="8.3" letter-spacing="0.55" text-anchor="end">5</text>
<text transform="translate(29.3 84.5) scale(0.86 1)" font-size="8.3" letter-spacing="0.55" text-anchor="end">10</text>
<text transform="translate(29.3 45.4) scale(0.86 1)" font-size="8.3" letter-spacing="0.55" text-anchor="end">15</text>
<text transform="translate(29.3 6.3) scale(0.86 1)" font-size="8.3" letter-spacing="0.55" text-anchor="end">20</text>
<text x="61.2" y="171.0" font-size="6.4" letter-spacing="0.75">10<tspan dy="-4.2" dx="0.2" font-size="6.2">4</tspan></text>
<text x="170.8" y="171.0" font-size="6.4" letter-spacing="0.75">10<tspan dy="-4.2" dx="0.2" font-size="6.2">5</tspan></text>
<text x="280.3" y="171.0" font-size="6.4" letter-spacing="0.75">10<tspan dy="-4.2" dx="0.2" font-size="6.2">6</tspan></text>
<text transform="translate(142.6 183.2) scale(0.86 1)" font-size="8.61" letter-spacing="0.27">Years (g=10, μ=1.0x10<tspan dy="-4.0" dx="-0.2">-8</tspan><tspan dy="4.0" dx="-1.1">)</tspan></text>
<text transform="translate(11.2 136.7) rotate(-90) scale(0.86 1)" font-size="8.59" letter-spacing="0.27">Effective population size (x10<tspan dy="-4.5" dx="-0.1">4</tspan><tspan dy="4.5" dx="-0.5">)</tspan></text>
<text x="37.3" y="22.9" font-size="18.5" font-weight="bold" font-family="'Liberation Serif',serif" fill="#000" stroke="none">(a)</text>
<rect x="380.1" y="3.0" width="304.40" height="156.50" fill="none" stroke="#111" stroke-width="1.0"/>
<text transform="translate(375.3 162.3) scale(0.86 1)" font-size="8.3" letter-spacing="0.55" text-anchor="end">0</text>
<text transform="translate(375.3 123.2) scale(0.86 1)" font-size="8.3" letter-spacing="0.55" text-anchor="end">5</text>
<text transform="translate(375.3 84.0) scale(0.86 1)" font-size="8.3" letter-spacing="0.55" text-anchor="end">10</text>
<text transform="translate(375.3 44.9) scale(0.86 1)" font-size="8.3" letter-spacing="0.55" text-anchor="end">15</text>
<text transform="translate(375.3 5.8) scale(0.86 1)" font-size="8.3" letter-spacing="0.55" text-anchor="end">20</text>
<text x="407.2" y="170.7" font-size="6.4" letter-spacing="0.75">10<tspan dy="-4.2" dx="0.2" font-size="6.2">4</tspan></text>
<text x="516.8" y="170.7" font-size="6.4" letter-spacing="0.75">10<tspan dy="-4.2" dx="0.2" font-size="6.2">5</tspan></text>
<text x="626.3" y="170.7" font-size="6.4" letter-spacing="0.75">10<tspan dy="-4.2" dx="0.2" font-size="6.2">6</tspan></text>
<text transform="translate(488.6 182.9) scale(0.86 1)" font-size="8.61" letter-spacing="0.27">Years (g=10, μ=1.0x10<tspan dy="-4.0" dx="-0.2">-8</tspan><tspan dy="4.0" dx="-1.1">)</tspan></text>
<text transform="translate(357.2 136.2) rotate(-90) scale(0.86 1)" font-size="8.59" letter-spacing="0.27">Effective population size (x10<tspan dy="-4.5" dx="-0.1">4</tspan><tspan dy="4.5" dx="-0.5">)</tspan></text>
<text x="384.0" y="24.4" font-size="18.5" font-weight="bold" font-family="'Liberation Serif',serif" fill="#000" stroke="none">(b)</text>
<rect x="32.5" y="203.5" width="304.40" height="156.40" fill="none" stroke="#111" stroke-width="1.0"/>
<text transform="translate(27.7 362.7) scale(0.86 1)" font-size="8.3" letter-spacing="0.55" text-anchor="end">0</text>
<text transform="translate(27.7 323.6) scale(0.86 1)" font-size="8.3" letter-spacing="0.55" text-anchor="end">5</text>
<text transform="translate(27.7 284.5) scale(0.86 1)" font-size="8.3" letter-spacing="0.55" text-anchor="end">10</text>
<text transform="translate(27.7 245.4) scale(0.86 1)" font-size="8.3" letter-spacing="0.55" text-anchor="end">15</text>
<text transform="translate(27.7 206.3) scale(0.86 1)" font-size="8.3" letter-spacing="0.55" text-anchor="end">20</text>
<text x="59.6" y="371.1" font-size="6.4" letter-spacing="0.75">10<tspan dy="-4.2" dx="0.2" font-size="6.2">4</tspan></text>
<text x="169.2" y="371.1" font-size="6.4" letter-spacing="0.75">10<tspan dy="-4.2" dx="0.2" font-size="6.2">5</tspan></text>
<text x="278.7" y="371.1" font-size="6.4" letter-spacing="0.75">10<tspan dy="-4.2" dx="0.2" font-size="6.2">6</tspan></text>
<text transform="translate(141.0 383.3) scale(0.86 1)" font-size="8.61" letter-spacing="0.27">Years (g=10, μ=1.0x10<tspan dy="-4.0" dx="-0.2">-8</tspan><tspan dy="4.0" dx="-1.1">)</tspan></text>
<text transform="translate(9.6 336.7) rotate(-90) scale(0.86 1)" font-size="8.59" letter-spacing="0.27">Effective population size (x10<tspan dy="-4.5" dx="-0.1">4</tspan><tspan dy="4.5" dx="-0.5">)</tspan></text>
<text x="37.0" y="225.3" font-size="18.5" font-weight="bold" font-family="'Liberation Serif',serif" fill="#000" stroke="none">(c)</text>
<rect x="378.6" y="203.8" width="304.40" height="156.40" fill="none" stroke="#111" stroke-width="1.0"/>
<text transform="translate(373.8 363.0) scale(0.86 1)" font-size="8.3" letter-spacing="0.55" text-anchor="end">0</text>
<text transform="translate(373.8 323.9) scale(0.86 1)" font-size="8.3" letter-spacing="0.55" text-anchor="end">5</text>
<text transform="translate(373.8 284.8) scale(0.86 1)" font-size="8.3" letter-spacing="0.55" text-anchor="end">10</text>
<text transform="translate(373.8 245.7) scale(0.86 1)" font-size="8.3" letter-spacing="0.55" text-anchor="end">15</text>
<text transform="translate(373.8 206.6) scale(0.86 1)" font-size="8.3" letter-spacing="0.55" text-anchor="end">20</text>
<text x="405.7" y="371.4" font-size="6.4" letter-spacing="0.75">10<tspan dy="-4.2" dx="0.2" font-size="6.2">4</tspan></text>
<text x="515.3" y="371.4" font-size="6.4" letter-spacing="0.75">10<tspan dy="-4.2" dx="0.2" font-size="6.2">5</tspan></text>
<text x="624.8" y="371.4" font-size="6.4" letter-spacing="0.75">10<tspan dy="-4.2" dx="0.2" font-size="6.2">6</tspan></text>
<text transform="translate(487.1 383.6) scale(0.86 1)" font-size="8.61" letter-spacing="0.27">Years (g=10, μ=1.0x10<tspan dy="-4.0" dx="-0.2">-8</tspan><tspan dy="4.0" dx="-1.1">)</tspan></text>
<text transform="translate(355.7 337.0) rotate(-90) scale(0.86 1)" font-size="8.59" letter-spacing="0.27">Effective population size (x10<tspan dy="-4.5" dx="-0.1">4</tspan><tspan dy="4.5" dx="-0.5">)</tspan></text>
<text x="384.0" y="226.3" font-size="18.5" font-weight="bold" font-family="'Liberation Serif',serif" fill="#000" stroke="none">(d)</text>
<rect x="204.85" y="406.85" width="304.65" height="156.55" fill="none" stroke="#111" stroke-width="1.0"/>
<text transform="translate(200.0 566.2) scale(0.86 1)" font-size="8.3" letter-spacing="0.55" text-anchor="end">0</text>
<text transform="translate(200.0 527.1) scale(0.86 1)" font-size="8.3" letter-spacing="0.55" text-anchor="end">5</text>
<text transform="translate(200.0 487.9) scale(0.86 1)" font-size="8.3" letter-spacing="0.55" text-anchor="end">10</text>
<text transform="translate(200.0 448.8) scale(0.86 1)" font-size="8.3" letter-spacing="0.55" text-anchor="end">15</text>
<text transform="translate(200.0 409.7) scale(0.86 1)" font-size="8.3" letter-spacing="0.55" text-anchor="end">20</text>
<text x="232.0" y="574.6" font-size="6.4" letter-spacing="0.75">10<tspan dy="-4.2" dx="0.2" font-size="6.2">4</tspan></text>
<text x="341.6" y="574.6" font-size="6.4" letter-spacing="0.75">10<tspan dy="-4.2" dx="0.2" font-size="6.2">5</tspan></text>
<text x="451.3" y="574.6" font-size="6.4" letter-spacing="0.75">10<tspan dy="-4.2" dx="0.2" font-size="6.2">6</tspan></text>
<text transform="translate(315.4 582.6) scale(0.86 1)" font-size="8.61" letter-spacing="0.27">Years (g=10, μ=1.0x10<tspan dy="-4.0" dx="-0.2">-8</tspan><tspan dy="4.0" dx="-1.1">)</tspan></text>
<text transform="translate(181.9 540.1) rotate(-90) scale(0.86 1)" font-size="8.59" letter-spacing="0.27">Effective population size (x10<tspan dy="-4.5" dx="-0.1">4</tspan><tspan dy="4.5" dx="-0.5">)</tspan></text>
<text x="206.2" y="428.2" font-size="18.5" font-weight="bold" font-family="'Liberation Serif',serif" fill="#000" stroke="none">(e)</text>
<path d="M233.6 414.9H255.0" stroke="#FF0000" stroke-width="1.8"/>
<text x="258.6" y="417.8" font-size="8.38" stroke-width="0.22"><tspan font-style="italic">M. candidum</tspan> YI-0196</text>
<path d="M233.6 424.6H255.0" stroke="#00C800" stroke-width="1.8"/>
<text x="258.2" y="427.5" font-size="8.38" stroke-width="0.22"><tspan font-style="italic">M. tetramerum</tspan> YI-1909</text>
<path d="M233.6 434.4H255.0" stroke="#0080FF" stroke-width="1.8"/>
<text x="258.0" y="437.3" font-size="8.38" stroke-width="0.22"><tspan font-style="italic">M. tet. pentapetalum</tspan> YI-1921</text>
<path d="M233.6 444.1H255.0" stroke="#C000FF" stroke-width="1.8"/>
<text x="257.2" y="447.0" font-size="8.38" stroke-width="0.22"><tspan font-style="italic">M. can. alessandrense</tspan> YI-1922</text>
</g>
</svg>
</body></html>
